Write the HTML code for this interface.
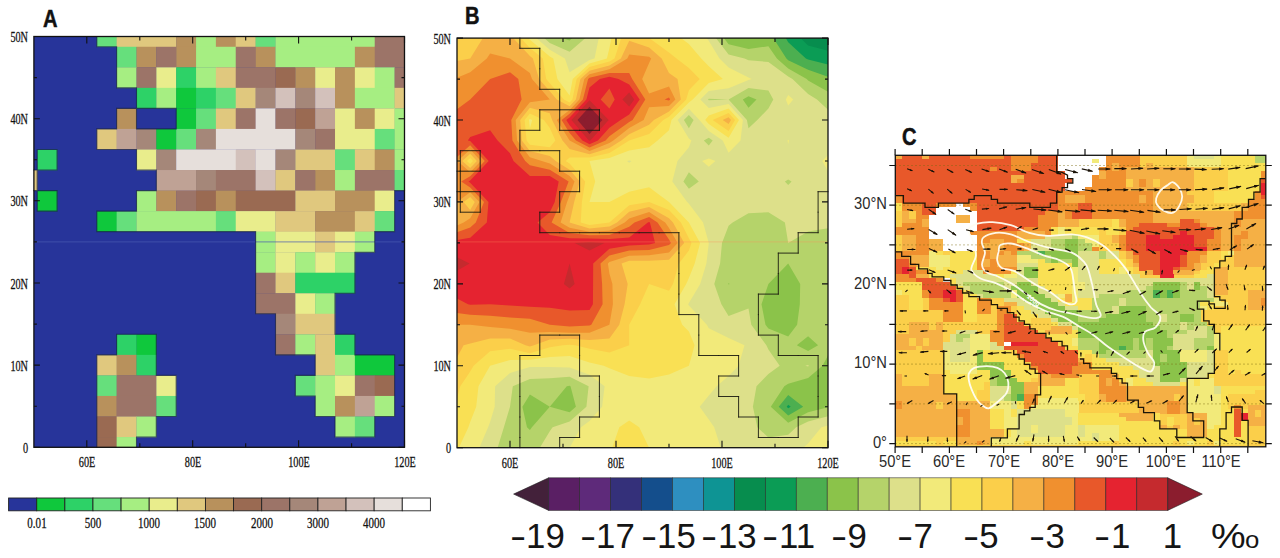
<!DOCTYPE html>
<html><head><meta charset="utf-8"><title>figure</title>
<style>
html,body{margin:0;padding:0;background:#fff;}
body{width:1280px;height:558px;position:relative;overflow:hidden;font-family:"Liberation Sans",sans-serif;}
.s{position:absolute;font-family:"Liberation Serif",serif;color:#111;white-space:nowrap;line-height:1;-webkit-text-stroke:0.3px #111;}
.L{position:absolute;font-family:"Liberation Sans",sans-serif;font-weight:bold;font-size:24.5px;color:#111;line-height:1;transform:scaleX(0.82);transform-origin:left top;-webkit-text-stroke:0.5px #111;}
.b{position:absolute;font-family:"Liberation Sans",sans-serif;font-size:34.8px;color:#151515;line-height:1;white-space:nowrap;}
.hy{display:inline-block;transform:scaleX(1.4);transform-origin:left center;margin-right:5px}
.c{position:absolute;font-family:"Liberation Sans",sans-serif;font-size:16px;color:#2a2a2a;line-height:1;white-space:nowrap;}
</style></head><body>
<svg width="1280" height="558" viewBox="0 0 1280 558" style="position:absolute;left:0;top:0">
<rect x="33.9" y="36.5" width="370.6" height="410.8" fill="#27349a"/>
<rect x="96.77" y="36.50" width="20.15" height="10.57" fill="#66df7c"/>
<rect x="116.62" y="36.50" width="59.86" height="10.57" fill="#e0c87e"/>
<rect x="176.18" y="36.50" width="20.15" height="10.57" fill="#b8915c"/>
<rect x="196.04" y="36.50" width="20.15" height="10.57" fill="#a6ee82"/>
<rect x="215.89" y="36.50" width="20.15" height="10.57" fill="#b8915c"/>
<rect x="235.74" y="36.50" width="20.15" height="10.57" fill="#e0c87e"/>
<rect x="255.60" y="36.50" width="20.15" height="10.57" fill="#66df7c"/>
<rect x="275.45" y="36.50" width="99.57" height="10.57" fill="#a6ee82"/>
<rect x="374.72" y="36.50" width="30.08" height="10.57" fill="#9c7468"/>
<rect x="116.62" y="46.77" width="20.15" height="20.84" fill="#66df7c"/>
<rect x="136.48" y="46.77" width="20.15" height="20.84" fill="#b8915c"/>
<rect x="156.33" y="46.77" width="20.15" height="20.84" fill="#9c7468"/>
<rect x="176.18" y="46.77" width="20.15" height="20.84" fill="#b8915c"/>
<rect x="196.04" y="46.77" width="40.01" height="20.84" fill="#a6ee82"/>
<rect x="235.74" y="46.77" width="20.15" height="20.84" fill="#9c7468"/>
<rect x="255.60" y="46.77" width="20.15" height="20.84" fill="#b8915c"/>
<rect x="275.45" y="46.77" width="79.71" height="20.84" fill="#a6ee82"/>
<rect x="354.87" y="46.77" width="20.15" height="20.84" fill="#b8915c"/>
<rect x="374.72" y="46.77" width="30.08" height="20.84" fill="#9c7468"/>
<rect x="116.62" y="67.31" width="20.15" height="20.84" fill="#a6ee82"/>
<rect x="136.48" y="67.31" width="20.15" height="20.84" fill="#9c7468"/>
<rect x="156.33" y="67.31" width="20.15" height="20.84" fill="#e9ed8c"/>
<rect x="176.18" y="67.31" width="20.15" height="20.84" fill="#2dd267"/>
<rect x="196.04" y="67.31" width="20.15" height="20.84" fill="#a6ee82"/>
<rect x="215.89" y="67.31" width="20.15" height="20.84" fill="#e0c87e"/>
<rect x="235.74" y="67.31" width="40.01" height="20.84" fill="#9c7468"/>
<rect x="275.45" y="67.31" width="20.15" height="20.84" fill="#9a6a52"/>
<rect x="295.31" y="67.31" width="20.15" height="20.84" fill="#b8915c"/>
<rect x="315.16" y="67.31" width="20.15" height="20.84" fill="#e9ed8c"/>
<rect x="335.01" y="67.31" width="20.15" height="20.84" fill="#b8915c"/>
<rect x="354.87" y="67.31" width="20.15" height="20.84" fill="#e9ed8c"/>
<rect x="374.72" y="67.31" width="20.15" height="20.84" fill="#a6ee82"/>
<rect x="394.57" y="67.31" width="10.23" height="20.84" fill="#9c7468"/>
<rect x="136.48" y="87.85" width="20.15" height="20.84" fill="#2dd267"/>
<rect x="156.33" y="87.85" width="20.15" height="20.84" fill="#a6ee82"/>
<rect x="176.18" y="87.85" width="20.15" height="20.84" fill="#0fc83c"/>
<rect x="196.04" y="87.85" width="20.15" height="20.84" fill="#2dd267"/>
<rect x="215.89" y="87.85" width="20.15" height="20.84" fill="#66df7c"/>
<rect x="235.74" y="87.85" width="20.15" height="20.84" fill="#e0c87e"/>
<rect x="255.60" y="87.85" width="20.15" height="20.84" fill="#a58779"/>
<rect x="275.45" y="87.85" width="20.15" height="20.84" fill="#d3c1bb"/>
<rect x="295.31" y="87.85" width="20.15" height="20.84" fill="#a58779"/>
<rect x="315.16" y="87.85" width="20.15" height="20.84" fill="#d3c1bb"/>
<rect x="335.01" y="87.85" width="20.15" height="20.84" fill="#b8915c"/>
<rect x="354.87" y="87.85" width="40.01" height="20.84" fill="#a6ee82"/>
<rect x="394.57" y="87.85" width="10.23" height="20.84" fill="#e0c87e"/>
<rect x="116.62" y="108.39" width="20.15" height="20.84" fill="#b8915c"/>
<rect x="176.18" y="108.39" width="20.15" height="20.84" fill="#0fc83c"/>
<rect x="196.04" y="108.39" width="20.15" height="20.84" fill="#66df7c"/>
<rect x="215.89" y="108.39" width="20.15" height="20.84" fill="#e0c87e"/>
<rect x="235.74" y="108.39" width="20.15" height="20.84" fill="#9c7468"/>
<rect x="255.60" y="108.39" width="20.15" height="20.84" fill="#e6dfdb"/>
<rect x="275.45" y="108.39" width="20.15" height="20.84" fill="#9c7468"/>
<rect x="295.31" y="108.39" width="20.15" height="20.84" fill="#9a6a52"/>
<rect x="315.16" y="108.39" width="20.15" height="20.84" fill="#bfa295"/>
<rect x="335.01" y="108.39" width="20.15" height="20.84" fill="#e9ed8c"/>
<rect x="354.87" y="108.39" width="20.15" height="20.84" fill="#b8915c"/>
<rect x="374.72" y="108.39" width="20.15" height="20.84" fill="#e9ed8c"/>
<rect x="394.57" y="108.39" width="10.23" height="20.84" fill="#a6ee82"/>
<rect x="96.77" y="128.93" width="20.15" height="20.84" fill="#e0c87e"/>
<rect x="116.62" y="128.93" width="20.15" height="20.84" fill="#bfa295"/>
<rect x="136.48" y="128.93" width="20.15" height="20.84" fill="#a58779"/>
<rect x="156.33" y="128.93" width="20.15" height="20.84" fill="#0fc83c"/>
<rect x="176.18" y="128.93" width="20.15" height="20.84" fill="#66df7c"/>
<rect x="196.04" y="128.93" width="20.15" height="20.84" fill="#a58779"/>
<rect x="215.89" y="128.93" width="79.71" height="20.84" fill="#e6dfdb"/>
<rect x="295.31" y="128.93" width="20.15" height="20.84" fill="#a58779"/>
<rect x="315.16" y="128.93" width="20.15" height="20.84" fill="#9c7468"/>
<rect x="335.01" y="128.93" width="40.01" height="20.84" fill="#e9ed8c"/>
<rect x="374.72" y="128.93" width="20.15" height="20.84" fill="#66df7c"/>
<rect x="394.57" y="128.93" width="10.23" height="20.84" fill="#a6ee82"/>
<rect x="37.21" y="149.47" width="20.15" height="20.84" fill="#2dd267"/>
<rect x="136.48" y="149.47" width="20.15" height="20.84" fill="#e9ed8c"/>
<rect x="156.33" y="149.47" width="20.15" height="20.84" fill="#a58779"/>
<rect x="176.18" y="149.47" width="59.86" height="20.84" fill="#e6dfdb"/>
<rect x="235.74" y="149.47" width="20.15" height="20.84" fill="#d3c1bb"/>
<rect x="255.60" y="149.47" width="20.15" height="20.84" fill="#e6dfdb"/>
<rect x="275.45" y="149.47" width="20.15" height="20.84" fill="#a58779"/>
<rect x="295.31" y="149.47" width="40.01" height="20.84" fill="#e0c87e"/>
<rect x="335.01" y="149.47" width="20.15" height="20.84" fill="#66df7c"/>
<rect x="354.87" y="149.47" width="20.15" height="20.84" fill="#e0c87e"/>
<rect x="374.72" y="149.47" width="20.15" height="20.84" fill="#b8915c"/>
<rect x="394.57" y="149.47" width="10.23" height="20.84" fill="#a6ee82"/>
<rect x="33.90" y="170.01" width="3.61" height="20.84" fill="#e0c87e"/>
<rect x="156.33" y="170.01" width="40.01" height="20.84" fill="#bfa295"/>
<rect x="196.04" y="170.01" width="20.15" height="20.84" fill="#a58779"/>
<rect x="215.89" y="170.01" width="40.01" height="20.84" fill="#9c7468"/>
<rect x="255.60" y="170.01" width="20.15" height="20.84" fill="#d3c1bb"/>
<rect x="275.45" y="170.01" width="20.15" height="20.84" fill="#e0c87e"/>
<rect x="295.31" y="170.01" width="20.15" height="20.84" fill="#9c7468"/>
<rect x="315.16" y="170.01" width="20.15" height="20.84" fill="#b8915c"/>
<rect x="335.01" y="170.01" width="20.15" height="20.84" fill="#a6ee82"/>
<rect x="354.87" y="170.01" width="40.01" height="20.84" fill="#9c7468"/>
<rect x="394.57" y="170.01" width="10.23" height="20.84" fill="#66df7c"/>
<rect x="37.21" y="190.55" width="20.15" height="20.84" fill="#0fc83c"/>
<rect x="136.48" y="190.55" width="20.15" height="20.84" fill="#a6ee82"/>
<rect x="156.33" y="190.55" width="20.15" height="20.84" fill="#b8915c"/>
<rect x="176.18" y="190.55" width="20.15" height="20.84" fill="#9c7468"/>
<rect x="196.04" y="190.55" width="20.15" height="20.84" fill="#9a6a52"/>
<rect x="215.89" y="190.55" width="20.15" height="20.84" fill="#b8915c"/>
<rect x="235.74" y="190.55" width="59.86" height="20.84" fill="#9a6a52"/>
<rect x="295.31" y="190.55" width="40.01" height="20.84" fill="#e0c87e"/>
<rect x="335.01" y="190.55" width="40.01" height="20.84" fill="#b8915c"/>
<rect x="374.72" y="190.55" width="20.15" height="20.84" fill="#e9ed8c"/>
<rect x="96.77" y="211.09" width="20.15" height="20.84" fill="#0fc83c"/>
<rect x="116.62" y="211.09" width="20.15" height="20.84" fill="#66df7c"/>
<rect x="136.48" y="211.09" width="79.71" height="20.84" fill="#a6ee82"/>
<rect x="215.89" y="211.09" width="20.15" height="20.84" fill="#66df7c"/>
<rect x="235.74" y="211.09" width="40.01" height="20.84" fill="#e9ed8c"/>
<rect x="275.45" y="211.09" width="40.01" height="20.84" fill="#e0c87e"/>
<rect x="315.16" y="211.09" width="40.01" height="20.84" fill="#b8915c"/>
<rect x="354.87" y="211.09" width="20.15" height="20.84" fill="#e0c87e"/>
<rect x="374.72" y="211.09" width="20.15" height="20.84" fill="#66df7c"/>
<rect x="255.60" y="231.63" width="20.15" height="20.84" fill="#a6ee82"/>
<rect x="275.45" y="231.63" width="40.01" height="20.84" fill="#e9ed8c"/>
<rect x="315.16" y="231.63" width="20.15" height="20.84" fill="#e0c87e"/>
<rect x="335.01" y="231.63" width="20.15" height="20.84" fill="#e9ed8c"/>
<rect x="354.87" y="231.63" width="20.15" height="20.84" fill="#a6ee82"/>
<rect x="255.60" y="252.17" width="20.15" height="20.84" fill="#a6ee82"/>
<rect x="275.45" y="252.17" width="20.15" height="20.84" fill="#e9ed8c"/>
<rect x="295.31" y="252.17" width="20.15" height="20.84" fill="#a6ee82"/>
<rect x="315.16" y="252.17" width="20.15" height="20.84" fill="#e9ed8c"/>
<rect x="335.01" y="252.17" width="20.15" height="20.84" fill="#a6ee82"/>
<rect x="255.60" y="272.71" width="20.15" height="20.84" fill="#9c7468"/>
<rect x="275.45" y="272.71" width="20.15" height="20.84" fill="#e0c87e"/>
<rect x="295.31" y="272.71" width="59.86" height="20.84" fill="#2dd267"/>
<rect x="255.60" y="293.25" width="40.01" height="20.84" fill="#9c7468"/>
<rect x="295.31" y="293.25" width="20.15" height="20.84" fill="#e9ed8c"/>
<rect x="315.16" y="293.25" width="20.15" height="20.84" fill="#a6ee82"/>
<rect x="275.45" y="313.79" width="20.15" height="20.84" fill="#a58779"/>
<rect x="295.31" y="313.79" width="40.01" height="20.84" fill="#e0c87e"/>
<rect x="116.62" y="334.33" width="20.15" height="20.84" fill="#2dd267"/>
<rect x="136.48" y="334.33" width="20.15" height="20.84" fill="#0fc83c"/>
<rect x="275.45" y="334.33" width="20.15" height="20.84" fill="#9c7468"/>
<rect x="295.31" y="334.33" width="20.15" height="20.84" fill="#a6ee82"/>
<rect x="315.16" y="334.33" width="20.15" height="20.84" fill="#e0c87e"/>
<rect x="335.01" y="334.33" width="20.15" height="20.84" fill="#2dd267"/>
<rect x="96.77" y="354.87" width="20.15" height="20.84" fill="#e0c87e"/>
<rect x="116.62" y="354.87" width="20.15" height="20.84" fill="#b8915c"/>
<rect x="136.48" y="354.87" width="20.15" height="20.84" fill="#2dd267"/>
<rect x="315.16" y="354.87" width="20.15" height="20.84" fill="#e0c87e"/>
<rect x="335.01" y="354.87" width="20.15" height="20.84" fill="#a6ee82"/>
<rect x="354.87" y="354.87" width="40.01" height="20.84" fill="#0fc83c"/>
<rect x="96.77" y="375.41" width="20.15" height="20.84" fill="#66df7c"/>
<rect x="116.62" y="375.41" width="40.01" height="20.84" fill="#9c7468"/>
<rect x="156.33" y="375.41" width="20.15" height="20.84" fill="#e9ed8c"/>
<rect x="295.31" y="375.41" width="20.15" height="20.84" fill="#66df7c"/>
<rect x="315.16" y="375.41" width="20.15" height="20.84" fill="#a6ee82"/>
<rect x="335.01" y="375.41" width="20.15" height="20.84" fill="#e9ed8c"/>
<rect x="354.87" y="375.41" width="20.15" height="20.84" fill="#9c7468"/>
<rect x="374.72" y="375.41" width="20.15" height="20.84" fill="#9a6a52"/>
<rect x="96.77" y="395.95" width="20.15" height="20.84" fill="#b8915c"/>
<rect x="116.62" y="395.95" width="40.01" height="20.84" fill="#9c7468"/>
<rect x="156.33" y="395.95" width="20.15" height="20.84" fill="#66df7c"/>
<rect x="315.16" y="395.95" width="20.15" height="20.84" fill="#a6ee82"/>
<rect x="335.01" y="395.95" width="20.15" height="20.84" fill="#b8915c"/>
<rect x="354.87" y="395.95" width="20.15" height="20.84" fill="#bfa295"/>
<rect x="374.72" y="395.95" width="20.15" height="20.84" fill="#a6ee82"/>
<rect x="96.77" y="416.49" width="20.15" height="20.84" fill="#9a6a52"/>
<rect x="116.62" y="416.49" width="20.15" height="20.84" fill="#e0c87e"/>
<rect x="136.48" y="416.49" width="20.15" height="20.84" fill="#a6ee82"/>
<rect x="335.01" y="416.49" width="20.15" height="20.84" fill="#a6ee82"/>
<rect x="354.87" y="416.49" width="20.15" height="20.84" fill="#66df7c"/>
<rect x="96.77" y="437.03" width="20.15" height="10.57" fill="#9a6a52"/>
<rect x="116.62" y="437.03" width="20.15" height="10.57" fill="#a6ee82"/>
<rect x="33.9" y="241.4" width="370.6" height="1" fill="#4a5ab0" opacity="0.7"/>
<path d="M96.8,36.5L96.8,46.8M96.8,46.8L116.6,46.8M116.6,46.8L116.6,67.3M116.6,67.3L116.6,87.9M116.6,87.9L136.5,87.9M136.5,87.9L136.5,108.4M116.6,108.4L136.5,108.4M136.5,108.4L156.3,108.4M156.3,108.4L176.2,108.4M116.6,108.4L116.6,128.9M96.8,128.9L116.6,128.9M136.5,108.4L136.5,128.9M136.5,128.9L156.3,128.9M176.2,108.4L176.2,128.9M156.3,128.9L176.2,128.9M37.2,149.5L57.1,149.5M96.8,128.9L96.8,149.5M96.8,149.5L116.6,149.5M116.6,149.5L136.5,149.5M37.2,149.5L37.2,170.0M33.9,170.0L37.2,170.0M57.1,149.5L57.1,170.0M37.2,170.0L57.1,170.0M136.5,149.5L136.5,170.0M136.5,170.0L156.3,170.0M37.2,170.0L37.2,190.6M33.9,190.6L37.2,190.6M37.2,190.6L57.1,190.6M156.3,170.0L156.3,190.6M136.5,190.6L156.3,190.6M394.6,190.6L404.5,190.6M37.2,190.6L37.2,211.1M57.1,190.6L57.1,211.1M37.2,211.1L57.1,211.1M96.8,211.1L116.6,211.1M136.5,190.6L136.5,211.1M116.6,211.1L136.5,211.1M394.6,190.6L394.6,211.1M96.8,211.1L96.8,231.6M96.8,231.6L116.6,231.6M116.6,231.6L136.5,231.6M136.5,231.6L156.3,231.6M156.3,231.6L176.2,231.6M176.2,231.6L196.0,231.6M196.0,231.6L215.9,231.6M215.9,231.6L235.7,231.6M235.7,231.6L255.6,231.6M394.6,211.1L394.6,231.6M374.7,231.6L394.6,231.6M255.6,231.6L255.6,252.2M374.7,231.6L374.7,252.2M354.9,252.2L374.7,252.2M255.6,252.2L255.6,272.7M354.9,252.2L354.9,272.7M255.6,272.7L255.6,293.3M354.9,272.7L354.9,293.3M335.0,293.3L354.9,293.3M255.6,293.3L255.6,313.8M255.6,313.8L275.5,313.8M335.0,293.3L335.0,313.8M116.6,334.3L136.5,334.3M136.5,334.3L156.3,334.3M275.5,313.8L275.5,334.3M335.0,313.8L335.0,334.3M335.0,334.3L354.9,334.3M116.6,334.3L116.6,354.9M96.8,354.9L116.6,354.9M156.3,334.3L156.3,354.9M275.5,334.3L275.5,354.9M275.5,354.9L295.3,354.9M295.3,354.9L315.2,354.9M354.9,334.3L354.9,354.9M354.9,354.9L374.7,354.9M374.7,354.9L394.6,354.9M96.8,354.9L96.8,375.4M156.3,354.9L156.3,375.4M156.3,375.4L176.2,375.4M315.2,354.9L315.2,375.4M295.3,375.4L315.2,375.4M394.6,354.9L394.6,375.4M96.8,375.4L96.8,396.0M176.2,375.4L176.2,396.0M295.3,375.4L295.3,396.0M295.3,396.0L315.2,396.0M394.6,375.4L394.6,396.0M96.8,396.0L96.8,416.5M176.2,396.0L176.2,416.5M156.3,416.5L176.2,416.5M315.2,396.0L315.2,416.5M315.2,416.5L335.0,416.5M394.6,396.0L394.6,416.5M374.7,416.5L394.6,416.5M96.8,416.5L96.8,437.0M156.3,416.5L156.3,437.0M136.5,437.0L156.3,437.0M335.0,416.5L335.0,437.0M335.0,437.0L354.9,437.0M374.7,416.5L374.7,437.0M354.9,437.0L374.7,437.0M96.8,437.0L96.8,447.3M136.5,437.0L136.5,447.3" stroke="#15204a" stroke-width="1.1" fill="none" opacity="0.75" stroke-linecap="square"/>
<path d="M86.8,447.3v-7M86.8,36.5v7M139.8,447.3v-4M139.8,36.5v4M192.7,447.3v-7M192.7,36.5v7M245.7,447.3v-4M245.7,36.5v4M298.6,447.3v-7M298.6,36.5v7M351.6,447.3v-4M351.6,36.5v4M404.5,447.3v-7M404.5,36.5v7M33.9,447.3h6M404.5,447.3h-6M33.9,406.2h3M404.5,406.2h-3M33.9,365.1h6M404.5,365.1h-6M33.9,324.1h3M404.5,324.1h-3M33.9,283.0h6M404.5,283.0h-6M33.9,241.9h3M404.5,241.9h-3M33.9,200.8h6M404.5,200.8h-6M33.9,159.7h3M404.5,159.7h-3M33.9,118.7h6M404.5,118.7h-6M33.9,77.6h3M404.5,77.6h-3M33.9,36.5h6M404.5,36.5h-6" stroke="#111" stroke-width="1.1" fill="none"/>
<rect x="33.9" y="36.5" width="370.6" height="410.8" fill="none" stroke="#111" stroke-width="1.3"/>
<clipPath id="clipB"><rect x="457.0" y="38.1" width="371.0" height="409.6"/></clipPath>
<g clip-path="url(#clipB)"><rect x="449.0" y="38.1" width="381.0" height="409.6" fill="#078d4e"/>
<path d="M450.4,38.1 470.2,38.1 490.1,38.1 510.0,38.1 529.9,38.1 549.8,38.1 569.6,38.1 589.5,38.1 609.4,38.1 629.2,38.1 649.1,38.1 669.0,38.1 688.9,38.1 708.8,38.1 728.6,38.1 748.5,38.1 768.4,38.1 788.2,38.1 800.5,38.1 808.1,45.4 828.0,50.7 828.0,58.6 828.0,79.1 828.0,99.5 828.0,120.0 828.0,140.5 828.0,161.0 828.0,181.5 828.0,201.9 828.0,222.4 828.0,242.9 828.0,263.4 828.0,283.9 828.0,304.3 828.0,324.8 828.0,345.3 828.0,365.8 828.0,386.3 828.0,406.7 828.0,427.2 828.0,447.7 808.1,447.7 788.2,447.7 768.4,447.7 748.5,447.7 728.6,447.7 708.8,447.7 688.9,447.7 669.0,447.7 649.1,447.7 629.2,447.7 609.4,447.7 589.5,447.7 569.6,447.7 549.8,447.7 529.9,447.7 510.0,447.7 490.1,447.7 470.2,447.7 450.4,447.7 450.4,427.2 450.4,406.7 450.4,386.3 450.4,365.8 450.4,345.3 450.4,324.8 450.4,304.3 450.4,283.9 450.4,263.4 450.4,242.9 450.4,222.4 450.4,201.9 450.4,181.5 450.4,161.0 450.4,140.5 450.4,120.0 450.4,99.5 450.4,79.1 450.4,58.6 450.4,38.1Z" fill="#0b9c55" fill-rule="evenodd"/>
<path d="M450.4,38.1 470.2,38.1 490.1,38.1 510.0,38.1 529.9,38.1 549.8,38.1 569.6,38.1 589.5,38.1 609.4,38.1 629.2,38.1 649.1,38.1 669.0,38.1 688.9,38.1 708.8,38.1 728.6,38.1 748.5,38.1 768.4,38.1 785.8,38.1 788.2,42.2 805.9,58.6 808.1,59.6 828.0,64.6 828.0,79.1 828.0,99.5 828.0,120.0 828.0,140.5 828.0,161.0 828.0,181.5 828.0,201.9 828.0,222.4 828.0,242.9 828.0,263.4 828.0,283.9 828.0,304.3 828.0,324.8 828.0,345.3 828.0,365.8 828.0,386.3 828.0,406.7 828.0,427.2 828.0,447.7 808.1,447.7 788.2,447.7 768.4,447.7 748.5,447.7 728.6,447.7 708.8,447.7 688.9,447.7 669.0,447.7 649.1,447.7 629.2,447.7 609.4,447.7 589.5,447.7 569.6,447.7 549.8,447.7 529.9,447.7 510.0,447.7 490.1,447.7 470.2,447.7 450.4,447.7 450.4,427.2 450.4,406.7 450.4,386.3 450.4,365.8 450.4,345.3 450.4,324.8 450.4,304.3 450.4,283.9 450.4,263.4 450.4,242.9 450.4,222.4 450.4,201.9 450.4,181.5 450.4,161.0 450.4,140.5 450.4,120.0 450.4,99.5 450.4,79.1 450.4,58.6 450.4,38.1ZM788.2,404.8 786.7,406.7 788.2,408.2 790.7,406.7 788.2,404.8Z" fill="#4caf50" fill-rule="evenodd"/>
<path d="M450.4,38.1 470.2,38.1 490.1,38.1 510.0,38.1 529.9,38.1 549.8,38.1 569.6,38.1 589.5,38.1 609.4,38.1 629.2,38.1 649.1,38.1 669.0,38.1 688.9,38.1 708.8,38.1 728.6,38.1 748.5,38.1 748.5,38.1 748.5,38.1 768.4,38.1 773.3,38.1 786.4,58.6 788.2,60.2 808.1,69.8 828.0,76.7 828.0,79.1 828.0,99.5 828.0,120.0 828.0,140.5 828.0,161.0 828.0,181.5 828.0,201.9 828.0,222.4 828.0,242.9 828.0,263.4 828.0,283.9 828.0,304.3 828.0,324.8 828.0,345.3 828.0,365.8 828.0,386.3 828.0,406.7 828.0,427.2 828.0,447.7 808.1,447.7 788.2,447.7 768.4,447.7 748.5,447.7 728.6,447.7 708.8,447.7 688.9,447.7 669.0,447.7 649.1,447.7 629.2,447.7 609.4,447.7 589.5,447.7 569.6,447.7 549.8,447.7 529.9,447.7 510.0,447.7 490.1,447.7 470.2,447.7 450.4,447.7 450.4,427.2 450.4,406.7 450.4,386.3 450.4,365.8 450.4,345.3 450.4,324.8 450.4,304.3 450.4,283.9 450.4,263.4 450.4,242.9 450.4,222.4 450.4,201.9 450.4,181.5 450.4,161.0 450.4,140.5 450.4,120.0 450.4,99.5 450.4,79.1 450.4,58.6 450.4,38.1ZM788.2,395.0 778.7,406.7 788.2,415.5 803.2,406.7 788.2,395.0Z" fill="#8bc34a" fill-rule="evenodd"/>
<path d="M450.4,38.1 470.2,38.1 490.1,38.1 510.0,38.1 529.9,38.1 549.8,38.1 561.7,38.1 569.6,40.4 572.3,38.1 589.5,38.1 609.4,38.1 629.2,38.1 649.1,38.1 669.0,38.1 688.9,38.1 708.8,38.1 723.9,38.1 728.6,44.2 748.5,48.9 768.4,46.3 776.9,58.6 788.2,68.4 806.7,79.1 808.1,80.4 828.0,91.7 828.0,99.5 828.0,120.0 828.0,140.5 828.0,161.0 828.0,181.5 828.0,201.9 828.0,222.4 828.0,242.9 828.0,263.4 828.0,283.9 828.0,304.3 828.0,324.8 828.0,345.3 828.0,355.5 822.5,365.8 808.1,378.1 788.2,383.7 784.3,386.3 770.8,406.7 788.2,422.8 808.1,412.3 828.0,407.2 828.0,427.2 828.0,447.7 808.1,447.7 788.2,447.7 768.4,447.7 748.5,447.7 728.6,447.7 708.8,447.7 688.9,447.7 669.0,447.7 649.1,447.7 629.2,447.7 609.4,447.7 589.5,447.7 569.6,447.7 549.8,447.7 529.9,447.7 510.0,447.7 490.1,447.7 470.2,447.7 450.4,447.7 450.4,427.2 450.4,406.7 450.4,386.3 450.4,365.8 450.4,345.3 450.4,324.8 450.4,304.3 450.4,283.9 450.4,263.4 450.4,242.9 450.4,222.4 450.4,201.9 450.4,181.5 450.4,161.0 450.4,140.5 450.4,120.0 450.4,99.5 450.4,79.1 450.4,58.6 450.4,38.1ZM569.6,385.8 566.8,386.3 549.8,406.7 529.9,394.5 522.4,406.7 527.0,427.2 529.9,430.1 531.9,427.2 549.8,406.7 569.6,412.3 575.9,406.7 570.5,386.3 569.6,385.8ZM728.6,282.9 728.3,283.9 728.6,284.5 729.6,283.9 728.6,282.9ZM748.5,96.3 742.8,99.5 748.5,107.7 756.5,99.5 748.5,96.3ZM788.2,263.4 788.2,263.4 768.4,283.9 768.4,283.9 761.5,304.3 765.5,324.8 768.4,328.5 788.2,336.5 797.1,324.8 799.8,304.3 800.2,283.9 788.2,263.4 788.2,263.4ZM808.1,336.2 796.8,345.3 808.1,350.9 818.1,345.3 808.1,336.2Z" fill="#b5d36a" fill-rule="evenodd"/>
<path d="M450.4,38.1 470.2,38.1 490.1,38.1 510.0,38.1 529.9,38.1 544.2,38.1 549.8,42.9 569.6,51.8 585.5,38.1 589.5,38.1 609.4,38.1 629.2,38.1 649.1,38.1 669.0,38.1 688.9,38.1 708.8,38.1 715.9,38.1 728.6,54.5 744.5,58.6 748.5,60.3 768.4,62.0 788.2,76.6 792.5,79.1 808.1,94.1 817.0,99.5 828.0,109.8 828.0,120.0 828.0,140.5 828.0,161.0 828.0,181.5 828.0,201.9 828.0,222.4 828.0,228.3 808.1,231.5 788.2,242.9 784.9,222.4 768.4,212.2 748.5,213.3 732.6,222.4 728.6,225.8 722.0,242.9 720.1,263.4 714.3,283.9 721.4,304.3 728.6,316.0 748.5,308.4 751.3,324.8 766.4,345.3 768.4,349.4 779.7,365.8 768.4,374.0 756.5,386.3 752.9,406.7 757.3,427.2 768.4,437.5 788.2,434.7 796.2,427.2 808.1,421.6 828.0,416.3 828.0,427.2 828.0,447.7 808.1,447.7 788.2,447.7 768.4,447.7 748.5,447.7 728.6,447.7 708.8,447.7 688.9,447.7 669.0,447.7 649.1,447.7 629.2,447.7 609.4,447.7 589.5,447.7 569.6,447.7 549.8,447.7 539.8,447.7 549.8,431.3 552.6,427.2 569.6,421.6 586.4,406.7 588.6,386.3 569.6,376.7 549.8,378.3 529.9,379.0 512.8,386.3 510.0,406.7 510.0,406.7 503.9,427.2 497.6,447.7 490.1,447.7 470.2,447.7 450.4,447.7 450.4,427.2 450.4,406.7 450.4,386.3 450.4,365.8 450.4,345.3 450.4,324.8 450.4,304.3 450.4,283.9 450.4,263.4 450.4,242.9 450.4,222.4 450.4,201.9 450.4,181.5 450.4,161.0 450.4,140.5 450.4,120.0 450.4,99.5 450.4,79.1 450.4,58.6 450.4,38.1ZM688.9,115.1 683.9,120.0 688.9,128.2 693.6,120.0 688.9,115.1ZM708.8,98.8 708.0,99.5 708.8,100.3 728.6,99.5 746.9,120.0 748.5,128.2 757.3,120.0 768.4,108.6 773.3,99.5 768.4,90.4 748.5,88.1 728.6,99.5 708.8,98.8ZM788.2,179.4 784.9,181.5 788.2,184.9 791.6,181.5 788.2,179.4ZM688.9,172.2 683.4,181.5 688.9,188.8 698.8,181.5 688.9,172.2ZM708.8,137.8 703.8,140.5 708.8,145.6 712.7,140.5 708.8,137.8ZM805.3,365.8 808.1,365.1 808.8,365.8 808.1,366.4 805.3,365.8Z" fill="#dde08a" fill-rule="evenodd"/>
<path d="M450.4,38.1 470.2,38.1 490.1,38.1 510.0,38.1 529.9,38.1 536.2,38.1 549.8,49.7 564.9,58.6 569.6,72.2 589.5,60.0 594.5,58.6 598.8,38.1 609.4,38.1 629.2,38.1 649.1,38.1 669.0,38.1 688.9,38.1 706.5,38.1 708.7,40.7 719.5,58.6 728.6,67.4 748.5,77.4 751.8,79.1 748.5,79.9 728.6,88.2 708.8,90.9 700.3,99.5 708.8,107.9 728.6,104.0 742.9,120.0 740.5,140.5 728.6,152.8 722.7,140.5 708.8,130.9 699.4,120.0 688.9,108.8 677.7,120.0 688.9,138.5 691.4,140.5 688.9,147.3 677.5,161.0 672.3,181.5 687.1,201.9 688.9,203.8 703.1,222.4 708.8,242.9 706.4,263.4 700.2,283.9 688.9,303.1 688.2,304.3 688.9,305.4 706.8,324.8 708.8,328.2 728.6,337.9 744.5,345.3 738.6,365.8 728.6,376.0 716.7,386.3 708.8,395.4 699.7,406.7 708.8,419.5 714.2,427.2 720.7,447.7 708.8,447.7 688.9,447.7 669.0,447.7 649.1,447.7 629.2,447.7 609.4,447.7 589.5,447.7 569.6,447.7 581.0,427.2 589.5,421.1 602.1,406.7 604.6,386.3 589.5,374.8 569.6,367.6 549.8,366.9 529.9,367.0 510.0,373.1 495.1,386.3 494.7,406.7 490.1,422.1 488.1,427.2 479.4,447.7 470.2,447.7 450.4,447.7 450.4,427.2 450.4,406.7 450.4,386.3 450.4,365.8 450.4,345.3 450.4,324.8 450.4,304.3 450.4,283.9 450.4,263.4 450.4,242.9 450.4,222.4 450.4,201.9 450.4,181.5 450.4,161.0 450.4,140.5 450.4,120.0 450.4,99.5 450.4,79.1 450.4,58.6 450.4,38.1ZM629.2,160.5 627.0,161.0 629.2,162.8 631.5,161.0 629.2,160.5ZM785.8,99.5 788.2,95.0 793.2,99.5 788.2,105.4 785.8,99.5ZM787.5,140.5 788.2,139.7 789.0,140.5 788.2,143.9 787.5,140.5ZM702.1,161.0 708.8,158.4 715.4,161.0 708.8,166.8 702.1,161.0ZM822.3,161.0 828.0,155.1 828.0,161.0 828.0,171.2 822.3,161.0ZM821.4,427.2 828.0,425.4 828.0,427.2 828.0,447.7 808.1,447.7 803.2,447.7 808.1,443.6 821.4,427.2Z" fill="#f2ea7a" fill-rule="evenodd"/>
<path d="M450.4,38.1 470.2,38.1 490.1,38.1 510.0,38.1 528.3,38.1 529.9,39.7 549.8,56.5 553.3,58.6 557.4,79.1 569.6,95.4 572.7,79.1 589.5,63.6 606.9,58.6 609.4,48.3 611.4,38.1 629.2,38.1 649.1,38.1 669.0,38.1 680.9,38.1 688.9,44.0 701.3,58.6 708.8,66.3 722.9,79.1 708.8,83.0 692.7,99.5 688.9,102.6 671.5,120.0 669.0,130.3 657.6,140.5 649.1,147.3 629.2,150.5 609.4,158.0 589.5,161.0 589.5,161.0 589.5,161.0 595.2,181.5 589.5,201.9 589.5,201.9 589.5,201.9 609.4,201.9 609.4,201.9 629.2,191.7 649.1,187.3 669.0,201.9 669.0,201.9 688.9,222.4 688.9,222.4 700.1,242.9 694.7,263.4 688.9,278.0 686.2,283.9 674.5,304.3 682.2,324.8 688.9,331.6 694.6,345.3 688.9,365.8 688.9,365.8 669.0,374.6 649.1,378.6 629.2,376.0 609.4,368.3 603.7,365.8 589.5,362.4 569.6,356.1 549.8,357.0 529.9,359.8 510.0,360.1 490.1,365.8 490.1,365.8 478.5,386.3 476.2,406.7 470.2,422.1 468.4,427.2 458.9,447.7 450.4,447.7 450.4,427.2 450.4,406.7 450.4,386.3 450.4,365.8 450.4,345.3 450.4,324.8 450.4,304.3 450.4,283.9 450.4,263.4 450.4,242.9 450.4,222.4 450.4,201.9 450.4,181.5 450.4,161.0 450.4,140.5 450.4,120.0 450.4,99.5 450.4,79.1 450.4,58.6 450.4,38.1ZM529.9,118.9 529.0,120.0 529.9,128.2 532.2,120.0 529.9,118.9ZM705.2,120.0 708.8,115.5 728.6,108.4 739.0,120.0 728.6,137.8 708.8,124.1 705.2,120.0ZM619.3,427.2 629.2,420.4 639.2,427.2 649.1,447.7 629.2,447.7 612.2,447.7 619.3,427.2Z" fill="#f9e054" fill-rule="evenodd"/>
<path d="M450.4,38.1 470.2,38.1 490.1,38.1 510.0,38.1 520.7,38.1 529.9,47.9 542.8,58.6 546.2,79.1 549.8,83.2 563.9,99.5 569.6,102.5 572.4,99.5 576.6,79.1 589.5,67.1 609.4,61.6 614.5,58.6 621.3,38.1 629.2,38.1 649.1,38.1 649.1,38.1 669.0,52.4 676.5,58.6 688.9,67.9 699.7,79.1 688.9,90.2 686.2,99.5 669.0,116.8 663.3,120.0 649.1,134.0 629.2,140.5 629.2,140.5 609.4,153.0 589.5,157.6 569.6,157.6 565.7,161.0 569.6,163.5 585.2,181.5 581.9,201.9 580.7,222.4 589.5,225.1 609.4,222.4 609.4,222.4 629.2,205.2 649.1,201.9 669.0,210.1 680.9,222.4 688.9,238.2 691.5,242.9 688.9,250.6 678.9,263.4 673.0,283.9 669.0,290.7 649.1,283.9 649.1,283.9 649.1,283.9 640.1,304.3 629.2,324.8 629.2,324.8 629.2,345.3 609.4,352.6 589.5,348.7 575.3,345.3 569.6,344.7 563.0,345.3 549.8,347.3 529.9,353.2 510.0,348.7 490.1,351.2 473.6,365.8 470.2,371.6 460.3,386.3 454.8,406.7 450.4,427.2 450.4,406.7 450.4,386.3 450.4,365.8 450.4,345.3 450.4,324.8 450.4,304.3 450.4,283.9 450.4,263.4 450.4,242.9 450.4,222.4 450.4,201.9 450.4,181.5 450.4,161.0 450.4,140.5 450.4,120.0 450.4,99.5 450.4,79.1 450.4,58.6 450.4,38.1ZM470.3,158.0 466.9,161.0 470.2,163.9 473.0,161.0 470.3,158.0ZM529.9,113.4 524.6,120.0 526.6,140.5 529.9,144.8 549.8,147.3 555.4,140.5 549.8,127.9 543.9,120.0 529.9,113.4ZM470.2,201.9 470.2,201.9 470.2,201.9 470.2,201.9 470.2,201.9ZM712.7,120.0 728.6,112.9 735.0,120.0 728.6,130.9 712.7,120.0Z" fill="#fbcf4a" fill-rule="evenodd"/>
<path d="M482.9,38.1 490.1,38.1 510.0,38.1 513.1,38.1 529.9,56.1 532.9,58.6 539.1,79.1 549.8,91.3 556.8,99.5 569.6,106.2 575.9,99.5 580.4,79.1 589.5,70.7 609.4,65.4 620.9,58.6 629.2,40.8 649.1,47.4 661.7,58.6 669.0,72.9 677.5,79.1 680.8,99.5 669.0,111.4 653.9,120.0 649.1,124.7 629.2,134.3 621.3,140.5 609.4,148.0 589.5,154.3 569.6,149.0 562.5,140.5 552.1,120.0 549.8,113.2 529.9,107.8 520.2,120.0 521.8,140.5 529.9,151.1 549.8,155.9 555.7,161.0 569.6,169.7 579.8,181.5 574.2,201.9 569.6,222.4 569.6,222.4 569.6,222.4 589.5,228.5 609.4,226.6 617.0,222.4 629.2,211.8 649.1,206.9 669.0,218.3 673.0,222.4 684.2,242.9 669.0,259.7 649.1,260.7 629.2,260.8 621.6,263.4 627.7,283.9 624.6,304.3 619.3,324.8 609.4,338.5 589.5,339.9 569.6,338.7 549.8,339.4 533.9,345.3 529.9,346.6 525.5,345.3 510.0,338.5 490.1,338.5 470.3,343.4 463.6,345.3 452.6,365.8 450.4,369.2 450.4,365.8 450.4,345.3 450.4,324.8 450.4,304.3 450.4,283.9 450.4,263.4 450.4,242.9 450.4,222.4 450.4,222.4 450.4,222.4 450.4,201.9 450.4,181.5 450.4,161.0 450.4,140.5 450.4,120.0 450.4,99.5 450.4,79.1 450.4,62.3 470.2,58.6 470.2,58.6 482.9,38.1ZM470.2,153.7 462.2,161.0 470.2,168.0 476.9,161.0 470.2,153.7ZM470.2,197.1 463.6,201.9 470.2,210.1 474.8,201.9 470.2,197.1ZM722.7,120.0 728.6,117.3 731.0,120.0 728.6,124.1 722.7,120.0Z" fill="#f5b045" fill-rule="evenodd"/>
<path d="M486.8,58.6 490.1,53.5 510.0,58.6 510.0,58.6 529.9,72.9 532.0,79.1 549.8,99.5 529.9,102.3 515.7,120.0 517.1,140.5 529.9,157.3 541.8,161.0 549.8,163.5 569.6,175.9 574.5,181.5 569.6,195.6 567.1,201.9 560.6,222.4 569.6,227.7 589.5,231.8 609.4,230.8 624.7,222.4 629.2,218.5 649.1,211.9 665.2,222.4 669.0,228.1 677.6,242.9 669.0,252.4 649.1,255.3 629.2,255.7 609.4,262.1 607.9,263.4 609.4,273.6 612.4,283.9 612.9,304.3 609.4,324.8 609.4,324.8 589.5,332.7 569.6,332.7 549.8,332.1 529.9,332.7 510.0,328.7 490.1,327.1 470.2,324.8 470.2,324.8 450.4,324.8 450.4,304.3 450.4,283.9 450.4,263.4 450.4,242.9 450.4,228.6 463.6,222.4 470.2,218.3 479.4,201.9 470.2,192.3 457.0,201.9 450.4,212.2 450.4,201.9 450.4,188.3 454.0,181.5 450.4,176.3 450.4,161.0 450.4,140.5 450.4,120.0 450.4,99.5 450.4,82.5 453.7,79.1 470.2,72.2 486.8,58.6ZM470.2,149.5 457.5,161.0 470.2,172.2 480.9,161.0 470.2,149.5ZM627.3,58.6 629.2,54.5 649.1,56.7 651.2,58.6 649.1,63.1 642.2,79.1 649.1,93.4 669.0,86.6 675.4,99.5 669.0,106.0 649.1,107.2 643.6,120.0 629.2,128.1 613.3,140.5 609.4,143.0 589.5,150.9 569.6,140.5 569.6,140.5 556.8,120.0 569.6,110.0 579.4,99.5 584.3,79.1 589.5,74.3 609.4,69.2 627.3,58.6Z" fill="#f0902f" fill-rule="evenodd"/>
<path d="M490.1,79.1 510.0,72.2 518.3,79.1 521.6,99.5 511.3,120.0 512.4,140.5 525.2,161.0 529.9,165.3 549.8,169.7 568.6,181.5 560.9,201.9 551.6,222.4 569.6,232.9 589.5,235.2 609.4,235.0 629.2,226.7 634.5,222.4 649.1,216.9 657.5,222.4 669.0,239.5 671.0,242.9 669.0,245.1 649.1,249.9 629.2,250.6 609.4,255.5 600.5,263.4 602.1,283.9 602.6,304.3 591.3,324.8 589.5,325.5 569.6,326.6 549.8,324.8 549.8,324.8 529.9,318.8 510.0,317.6 490.1,315.7 470.2,314.8 450.4,312.0 450.4,304.3 450.4,283.9 450.4,263.4 450.4,242.9 450.4,234.8 470.2,227.5 475.8,222.4 484.0,201.9 470.2,187.5 461.2,181.5 470.2,176.3 484.8,161.0 470.2,145.2 452.7,161.0 450.4,166.1 450.4,161.0 450.4,140.5 450.4,120.0 450.4,114.2 470.2,99.5 470.2,99.5 490.1,79.1 490.1,79.1ZM588.1,79.1 589.5,77.8 609.4,73.0 629.2,72.9 632.2,79.1 645.3,99.5 632.6,120.0 629.2,121.9 609.4,136.2 605.6,140.5 589.5,147.6 576.0,140.5 569.6,132.9 561.6,120.0 569.6,113.7 582.9,99.5 588.1,79.1ZM664.6,99.5 669.0,97.4 670.1,99.5 669.0,100.6 664.6,99.5Z" fill="#e8582a" fill-rule="evenodd"/>
<path d="M599.8,79.1 609.4,76.8 618.5,79.1 629.2,84.6 639.7,99.5 629.2,114.5 620.6,120.0 609.4,127.7 597.9,140.5 589.5,144.2 582.4,140.5 569.6,125.3 566.3,120.0 569.6,117.4 586.4,99.5 589.5,87.6 599.8,79.1ZM609.4,88.5 600.7,99.5 609.4,108.5 614.7,99.5 609.4,88.5ZM467.8,140.5 470.2,137.1 490.1,130.3 497.6,140.5 510.0,153.3 513.5,161.0 529.9,176.1 549.8,175.9 558.7,181.5 554.7,201.9 549.8,212.2 537.5,222.4 549.8,235.0 569.6,238.2 589.5,238.5 609.4,239.1 629.2,237.5 647.8,222.4 649.1,221.9 649.9,222.4 655.1,242.9 649.1,244.5 629.2,245.5 609.4,248.8 593.2,263.4 593.1,283.9 592.9,304.3 589.5,310.1 569.6,310.5 549.8,307.8 529.9,306.7 510.0,305.5 490.1,304.3 490.1,304.3 490.1,304.3 470.2,304.8 468.0,304.3 450.4,295.2 450.4,283.9 450.4,263.4 450.4,242.9 450.4,241.0 470.2,237.8 486.8,222.4 488.5,201.9 470.2,182.7 468.4,181.5 470.2,180.4 488.7,161.0 470.2,140.9 467.8,140.5Z" fill="#e52330" fill-rule="evenodd"/>
<path d="M622.4,99.5 629.2,92.5 634.2,99.5 629.2,106.6 622.4,99.5ZM571.4,120.0 589.5,100.2 608.7,120.0 590.3,140.5 589.5,140.8 588.9,140.5 571.4,120.0ZM574.6,242.9 589.5,241.9 604.4,242.9 589.5,250.6 574.6,242.9ZM450.4,263.4 450.4,253.9 469.6,263.4 450.4,274.6 450.4,263.4ZM563.9,283.9 569.6,263.4 574.6,283.9 569.6,288.4 563.9,283.9Z" fill="#c52a2e" fill-rule="evenodd"/>
<path d="M577.5,120.0 589.5,106.8 602.3,120.0 589.5,134.1 577.5,120.0Z" fill="#8b1d2e" fill-rule="evenodd"/>
<path d="M583.5,120.0 589.5,113.4 595.9,120.0 589.5,127.1 583.5,120.0Z" fill="#8b1d2e" fill-rule="evenodd"/>
</g>
<rect x="457.0" y="241.4" width="371.0" height="1" fill="#ff8a5a" opacity="0.35"/>
<path d="M519.9,38.1L519.9,48.3M519.9,48.3L539.8,48.3M539.8,48.3L539.8,68.8M539.8,68.8L539.8,89.3M539.8,89.3L559.7,89.3M559.7,89.3L559.7,109.8M539.8,109.8L559.7,109.8M559.7,109.8L579.6,109.8M579.6,109.8L599.4,109.8M539.8,109.8L539.8,130.3M519.9,130.3L539.8,130.3M559.7,109.8L559.7,130.3M559.7,130.3L579.6,130.3M599.4,109.8L599.4,130.3M579.6,130.3L599.4,130.3M460.3,150.7L480.2,150.7M519.9,130.3L519.9,150.7M519.9,150.7L539.8,150.7M539.8,150.7L559.7,150.7M460.3,150.7L460.3,171.2M457.0,171.2L460.3,171.2M480.2,150.7L480.2,171.2M460.3,171.2L480.2,171.2M559.7,150.7L559.7,171.2M559.7,171.2L579.6,171.2M460.3,171.2L460.3,191.7M457.0,191.7L460.3,191.7M460.3,191.7L480.2,191.7M579.6,171.2L579.6,191.7M559.7,191.7L579.6,191.7M818.1,191.7L828.0,191.7M460.3,191.7L460.3,212.2M480.2,191.7L480.2,212.2M460.3,212.2L480.2,212.2M559.7,191.7L559.7,212.2M539.8,212.2L559.7,212.2M818.1,191.7L818.1,212.2M539.8,212.2L539.8,232.7M539.8,232.7L559.7,232.7M559.7,232.7L579.6,232.7M579.6,232.7L599.4,232.7M599.4,232.7L619.3,232.7M619.3,232.7L639.2,232.7M639.2,232.7L659.1,232.7M659.1,232.7L678.9,232.7M818.1,212.2L818.1,232.7M798.2,232.7L818.1,232.7M678.9,232.7L678.9,253.1M798.2,232.7L798.2,253.1M778.3,253.1L798.2,253.1M678.9,253.1L678.9,273.6M778.3,253.1L778.3,273.6M678.9,273.6L678.9,294.1M778.3,273.6L778.3,294.1M758.4,294.1L778.3,294.1M678.9,294.1L678.9,314.6M678.9,314.6L698.8,314.6M758.4,294.1L758.4,314.6M539.8,335.1L559.7,335.1M559.7,335.1L579.6,335.1M698.8,314.6L698.8,335.1M758.4,314.6L758.4,335.1M758.4,335.1L778.3,335.1M539.8,335.1L539.8,355.5M519.9,355.5L539.8,355.5M579.6,335.1L579.6,355.5M698.8,335.1L698.8,355.5M698.8,355.5L718.7,355.5M718.7,355.5L738.6,355.5M778.3,335.1L778.3,355.5M778.3,355.5L798.2,355.5M798.2,355.5L818.1,355.5M519.9,355.5L519.9,376.0M579.6,355.5L579.6,376.0M579.6,376.0L599.4,376.0M738.6,355.5L738.6,376.0M718.7,376.0L738.6,376.0M818.1,355.5L818.1,376.0M519.9,376.0L519.9,396.5M599.4,376.0L599.4,396.5M718.7,376.0L718.7,396.5M718.7,396.5L738.6,396.5M818.1,376.0L818.1,396.5M519.9,396.5L519.9,417.0M599.4,396.5L599.4,417.0M579.6,417.0L599.4,417.0M738.6,396.5L738.6,417.0M738.6,417.0L758.4,417.0M818.1,396.5L818.1,417.0M798.2,417.0L818.1,417.0M519.9,417.0L519.9,437.5M579.6,417.0L579.6,437.5M559.7,437.5L579.6,437.5M758.4,417.0L758.4,437.5M758.4,437.5L778.3,437.5M798.2,417.0L798.2,437.5M778.3,437.5L798.2,437.5M519.9,437.5L519.9,447.7M559.7,437.5L559.7,447.7" stroke="#1a1a10" stroke-width="1.0" fill="none" stroke-linecap="square" opacity="0.9"/>
<path d="M510.0,447.7v-7M510.0,38.1v7M563.0,447.7v-4M563.0,38.1v4M616.0,447.7v-7M616.0,38.1v7M669.0,447.7v-4M669.0,38.1v4M722.0,447.7v-7M722.0,38.1v7M775.0,447.7v-4M775.0,38.1v4M828.0,447.7v-7M828.0,38.1v7M457.0,447.7h6M828.0,447.7h-6M457.0,406.7h3M828.0,406.7h-3M457.0,365.8h6M828.0,365.8h-6M457.0,324.8h3M828.0,324.8h-3M457.0,283.9h6M828.0,283.9h-6M457.0,242.9h3M828.0,242.9h-3M457.0,201.9h6M828.0,201.9h-6M457.0,161.0h3M828.0,161.0h-3M457.0,120.0h6M828.0,120.0h-6M457.0,79.1h3M828.0,79.1h-3M457.0,38.1h6M828.0,38.1h-6" stroke="#111" stroke-width="1.1" fill="none"/>
<rect x="457.0" y="38.1" width="371.0" height="409.6" fill="none" stroke="#111" stroke-width="1.3"/>
<rect x="8.60" y="498.0" width="28.12" height="12.8" fill="#27349a" stroke="#222" stroke-width="0.9"/>
<rect x="36.72" y="498.0" width="28.12" height="12.8" fill="#0fc83c" stroke="#222" stroke-width="0.9"/>
<rect x="64.84" y="498.0" width="28.12" height="12.8" fill="#2dd267" stroke="#222" stroke-width="0.9"/>
<rect x="92.96" y="498.0" width="28.12" height="12.8" fill="#66df7c" stroke="#222" stroke-width="0.9"/>
<rect x="121.08" y="498.0" width="28.12" height="12.8" fill="#a6ee82" stroke="#222" stroke-width="0.9"/>
<rect x="149.20" y="498.0" width="28.12" height="12.8" fill="#e9ed8c" stroke="#222" stroke-width="0.9"/>
<rect x="177.32" y="498.0" width="28.12" height="12.8" fill="#e0c87e" stroke="#222" stroke-width="0.9"/>
<rect x="205.44" y="498.0" width="28.12" height="12.8" fill="#b8915c" stroke="#222" stroke-width="0.9"/>
<rect x="233.56" y="498.0" width="28.12" height="12.8" fill="#9a6a52" stroke="#222" stroke-width="0.9"/>
<rect x="261.68" y="498.0" width="28.12" height="12.8" fill="#9c7468" stroke="#222" stroke-width="0.9"/>
<rect x="289.80" y="498.0" width="28.12" height="12.8" fill="#a58779" stroke="#222" stroke-width="0.9"/>
<rect x="317.92" y="498.0" width="28.12" height="12.8" fill="#bfa295" stroke="#222" stroke-width="0.9"/>
<rect x="346.04" y="498.0" width="28.12" height="12.8" fill="#d3c1bb" stroke="#222" stroke-width="0.9"/>
<rect x="374.16" y="498.0" width="28.12" height="12.8" fill="#e6dfdb" stroke="#222" stroke-width="0.9"/>
<rect x="402.28" y="498.0" width="28.12" height="12.8" fill="#ffffff" stroke="#222" stroke-width="0.9"/>
<path d="M548.7,477.8L513.6,494.1L548.7,510.40000000000003Z" fill="#43213a" stroke="#222" stroke-width="0.6"/>
<rect x="548.70" y="477.8" width="30.95" height="32.6" fill="#5a1f64" stroke="#222" stroke-opacity="0.75" stroke-width="0.7"/>
<rect x="579.65" y="477.8" width="30.95" height="32.6" fill="#5e2a7a" stroke="#222" stroke-opacity="0.75" stroke-width="0.7"/>
<rect x="610.60" y="477.8" width="30.95" height="32.6" fill="#34307a" stroke="#222" stroke-opacity="0.75" stroke-width="0.7"/>
<rect x="641.55" y="477.8" width="30.95" height="32.6" fill="#144e8c" stroke="#222" stroke-opacity="0.75" stroke-width="0.7"/>
<rect x="672.50" y="477.8" width="30.95" height="32.6" fill="#2e8fc0" stroke="#222" stroke-opacity="0.75" stroke-width="0.7"/>
<rect x="703.45" y="477.8" width="30.95" height="32.6" fill="#0e9494" stroke="#222" stroke-opacity="0.75" stroke-width="0.7"/>
<rect x="734.40" y="477.8" width="30.95" height="32.6" fill="#078d4e" stroke="#222" stroke-opacity="0.75" stroke-width="0.7"/>
<rect x="765.35" y="477.8" width="30.95" height="32.6" fill="#0b9c55" stroke="#222" stroke-opacity="0.75" stroke-width="0.7"/>
<rect x="796.30" y="477.8" width="30.95" height="32.6" fill="#4caf50" stroke="#222" stroke-opacity="0.75" stroke-width="0.7"/>
<rect x="827.25" y="477.8" width="30.95" height="32.6" fill="#8bc34a" stroke="#222" stroke-opacity="0.75" stroke-width="0.7"/>
<rect x="858.20" y="477.8" width="30.95" height="32.6" fill="#b5d36a" stroke="#222" stroke-opacity="0.75" stroke-width="0.7"/>
<rect x="889.15" y="477.8" width="30.95" height="32.6" fill="#dde08a" stroke="#222" stroke-opacity="0.75" stroke-width="0.7"/>
<rect x="920.10" y="477.8" width="30.95" height="32.6" fill="#f2ea7a" stroke="#222" stroke-opacity="0.75" stroke-width="0.7"/>
<rect x="951.05" y="477.8" width="30.95" height="32.6" fill="#f9e054" stroke="#222" stroke-opacity="0.75" stroke-width="0.7"/>
<rect x="982.00" y="477.8" width="30.95" height="32.6" fill="#fbcf4a" stroke="#222" stroke-opacity="0.75" stroke-width="0.7"/>
<rect x="1012.95" y="477.8" width="30.95" height="32.6" fill="#f5b045" stroke="#222" stroke-opacity="0.75" stroke-width="0.7"/>
<rect x="1043.90" y="477.8" width="30.95" height="32.6" fill="#f0902f" stroke="#222" stroke-opacity="0.75" stroke-width="0.7"/>
<rect x="1074.85" y="477.8" width="30.95" height="32.6" fill="#e8582a" stroke="#222" stroke-opacity="0.75" stroke-width="0.7"/>
<rect x="1105.80" y="477.8" width="30.95" height="32.6" fill="#e52330" stroke="#222" stroke-opacity="0.75" stroke-width="0.7"/>
<rect x="1136.75" y="477.8" width="30.95" height="32.6" fill="#c52a2e" stroke="#222" stroke-opacity="0.75" stroke-width="0.7"/>
<path d="M1167.7,477.8L1202.3,494.1L1167.7,510.40000000000003Z" fill="#8b1d2e" stroke="#222" stroke-width="0.6"/>
<clipPath id="clipC"><rect x="895.3" y="155.3" width="370.5" height="291.5"/></clipPath>
<g clip-path="url(#clipC)" shape-rendering="crispEdges">
<rect x="895.3" y="155.3" width="370.5" height="291.5" fill="#fbcf4a"/>
<rect x="895.3" y="155.3" width="7.0" height="4.2" fill="#f5b045"/>
<rect x="902.1" y="155.3" width="20.5" height="4.2" fill="#e8582a"/>
<rect x="922.4" y="155.3" width="7.0" height="4.2" fill="#f5b045"/>
<rect x="929.2" y="155.3" width="40.9" height="4.2" fill="#e8582a"/>
<rect x="969.9" y="155.3" width="34.1" height="4.2" fill="#f0902f"/>
<rect x="1003.8" y="155.3" width="7.0" height="4.2" fill="#e8582a"/>
<rect x="1010.6" y="155.3" width="27.3" height="4.2" fill="#f0902f"/>
<rect x="1037.7" y="155.3" width="20.5" height="4.2" fill="#e8582a"/>
<rect x="1058.0" y="155.3" width="47.7" height="4.2" fill="#ffffff"/>
<rect x="1105.5" y="155.3" width="34.1" height="4.2" fill="#f0902f"/>
<rect x="1186.8" y="155.3" width="7.0" height="4.2" fill="#f2ea7a"/>
<rect x="1193.6" y="155.3" width="20.5" height="4.2" fill="#dde08a"/>
<rect x="1214.0" y="155.3" width="7.0" height="4.2" fill="#f2ea7a"/>
<rect x="1220.7" y="155.3" width="34.1" height="4.2" fill="#f9e054"/>
<rect x="1254.6" y="155.3" width="13.8" height="4.2" fill="#b5d36a"/>
<rect x="895.3" y="159.3" width="115.5" height="4.2" fill="#e8582a"/>
<rect x="1010.6" y="159.3" width="27.3" height="4.2" fill="#f0902f"/>
<rect x="1037.7" y="159.3" width="20.5" height="4.2" fill="#e8582a"/>
<rect x="1058.0" y="159.3" width="34.1" height="4.2" fill="#ffffff"/>
<rect x="1091.9" y="159.3" width="7.0" height="4.2" fill="#f2ea7a"/>
<rect x="1098.7" y="159.3" width="7.0" height="4.2" fill="#ffffff"/>
<rect x="1105.5" y="159.3" width="34.1" height="4.2" fill="#f0902f"/>
<rect x="1186.8" y="159.3" width="34.1" height="4.2" fill="#f2ea7a"/>
<rect x="1220.7" y="159.3" width="34.1" height="4.2" fill="#f9e054"/>
<rect x="1254.6" y="159.3" width="13.8" height="4.2" fill="#b5d36a"/>
<rect x="895.3" y="163.2" width="115.5" height="4.2" fill="#e8582a"/>
<rect x="1010.6" y="163.2" width="20.5" height="4.2" fill="#f0902f"/>
<rect x="1030.9" y="163.2" width="27.3" height="4.2" fill="#e8582a"/>
<rect x="1058.0" y="163.2" width="47.7" height="4.2" fill="#ffffff"/>
<rect x="1105.5" y="163.2" width="7.0" height="4.2" fill="#f0902f"/>
<rect x="1112.3" y="163.2" width="7.0" height="4.2" fill="#f5b045"/>
<rect x="1119.0" y="163.2" width="20.5" height="4.2" fill="#f0902f"/>
<rect x="1146.2" y="163.2" width="7.0" height="4.2" fill="#f5b045"/>
<rect x="1186.8" y="163.2" width="34.1" height="4.2" fill="#f2ea7a"/>
<rect x="1220.7" y="163.2" width="47.7" height="4.2" fill="#f9e054"/>
<rect x="895.3" y="167.2" width="95.1" height="4.2" fill="#e8582a"/>
<rect x="990.2" y="167.2" width="7.0" height="4.2" fill="#f0902f"/>
<rect x="997.0" y="167.2" width="13.8" height="4.2" fill="#e8582a"/>
<rect x="1010.6" y="167.2" width="20.5" height="4.2" fill="#f0902f"/>
<rect x="1030.9" y="167.2" width="27.3" height="4.2" fill="#e8582a"/>
<rect x="1058.0" y="167.2" width="40.9" height="4.2" fill="#ffffff"/>
<rect x="1098.7" y="167.2" width="13.8" height="4.2" fill="#f0902f"/>
<rect x="1112.3" y="167.2" width="7.0" height="4.2" fill="#f5b045"/>
<rect x="1119.0" y="167.2" width="7.0" height="4.2" fill="#f0902f"/>
<rect x="1125.8" y="167.2" width="68.0" height="4.2" fill="#f5b045"/>
<rect x="1227.5" y="167.2" width="40.9" height="4.2" fill="#f9e054"/>
<rect x="895.3" y="171.2" width="169.7" height="4.2" fill="#e8582a"/>
<rect x="1064.8" y="171.2" width="34.1" height="4.2" fill="#ffffff"/>
<rect x="1098.7" y="171.2" width="7.0" height="4.2" fill="#f5b045"/>
<rect x="1105.5" y="171.2" width="20.5" height="4.2" fill="#f0902f"/>
<rect x="1125.8" y="171.2" width="68.0" height="4.2" fill="#f5b045"/>
<rect x="1227.5" y="171.2" width="34.1" height="4.2" fill="#f9e054"/>
<rect x="1261.4" y="171.2" width="7.0" height="4.2" fill="#f0902f"/>
<rect x="895.3" y="175.2" width="115.5" height="4.2" fill="#e8582a"/>
<rect x="1010.6" y="175.2" width="13.8" height="4.2" fill="#f5b045"/>
<rect x="1024.1" y="175.2" width="40.9" height="4.2" fill="#e8582a"/>
<rect x="1064.8" y="175.2" width="27.3" height="4.2" fill="#ffffff"/>
<rect x="1091.9" y="175.2" width="7.0" height="4.2" fill="#f0902f"/>
<rect x="1098.7" y="175.2" width="7.0" height="4.2" fill="#f5b045"/>
<rect x="1105.5" y="175.2" width="20.5" height="4.2" fill="#f0902f"/>
<rect x="1125.8" y="175.2" width="68.0" height="4.2" fill="#f5b045"/>
<rect x="1227.5" y="175.2" width="34.1" height="4.2" fill="#f9e054"/>
<rect x="1261.4" y="175.2" width="7.0" height="4.2" fill="#f0902f"/>
<rect x="895.3" y="179.1" width="115.5" height="4.2" fill="#e8582a"/>
<rect x="1010.6" y="179.1" width="7.0" height="4.2" fill="#f5b045"/>
<rect x="1017.3" y="179.1" width="7.0" height="4.2" fill="#f0902f"/>
<rect x="1024.1" y="179.1" width="47.7" height="4.2" fill="#e8582a"/>
<rect x="1071.6" y="179.1" width="20.5" height="4.2" fill="#ffffff"/>
<rect x="1091.9" y="179.1" width="34.1" height="4.2" fill="#f0902f"/>
<rect x="1132.6" y="179.1" width="7.0" height="4.2" fill="#f5b045"/>
<rect x="1139.4" y="179.1" width="7.0" height="4.2" fill="#f0902f"/>
<rect x="1146.2" y="179.1" width="7.0" height="4.2" fill="#f5b045"/>
<rect x="1159.7" y="179.1" width="34.1" height="4.2" fill="#f5b045"/>
<rect x="1227.5" y="179.1" width="34.1" height="4.2" fill="#f9e054"/>
<rect x="1261.4" y="179.1" width="7.0" height="4.2" fill="#e8582a"/>
<rect x="895.3" y="183.1" width="169.7" height="4.2" fill="#e8582a"/>
<rect x="1064.8" y="183.1" width="27.3" height="4.2" fill="#ffffff"/>
<rect x="1091.9" y="183.1" width="34.1" height="4.2" fill="#f0902f"/>
<rect x="1132.6" y="183.1" width="7.0" height="4.2" fill="#f5b045"/>
<rect x="1139.4" y="183.1" width="7.0" height="4.2" fill="#f0902f"/>
<rect x="1146.2" y="183.1" width="7.0" height="4.2" fill="#f5b045"/>
<rect x="1159.7" y="183.1" width="34.1" height="4.2" fill="#f5b045"/>
<rect x="1227.5" y="183.1" width="34.1" height="4.2" fill="#f9e054"/>
<rect x="1261.4" y="183.1" width="7.0" height="4.2" fill="#e52330"/>
<rect x="895.3" y="187.1" width="169.7" height="4.2" fill="#e8582a"/>
<rect x="1064.8" y="187.1" width="20.5" height="4.2" fill="#ffffff"/>
<rect x="1085.1" y="187.1" width="40.9" height="4.2" fill="#f0902f"/>
<rect x="1125.8" y="187.1" width="68.0" height="4.2" fill="#f5b045"/>
<rect x="1227.5" y="187.1" width="34.1" height="4.2" fill="#f9e054"/>
<rect x="1261.4" y="187.1" width="7.0" height="4.2" fill="#e52330"/>
<rect x="895.3" y="191.0" width="162.9" height="4.2" fill="#e8582a"/>
<rect x="1058.0" y="191.0" width="95.1" height="4.2" fill="#f0902f"/>
<rect x="1152.9" y="191.0" width="34.1" height="4.2" fill="#f5b045"/>
<rect x="1214.0" y="191.0" width="40.9" height="4.2" fill="#f9e054"/>
<rect x="1254.6" y="191.0" width="7.0" height="4.2" fill="#f0902f"/>
<rect x="1261.4" y="191.0" width="7.0" height="4.2" fill="#e52330"/>
<rect x="895.3" y="195.0" width="7.0" height="4.2" fill="#f0902f"/>
<rect x="902.1" y="195.0" width="156.1" height="4.2" fill="#e8582a"/>
<rect x="1058.0" y="195.0" width="7.0" height="4.2" fill="#f0902f"/>
<rect x="1064.8" y="195.0" width="20.5" height="4.2" fill="#f5b045"/>
<rect x="1085.1" y="195.0" width="54.4" height="4.2" fill="#f0902f"/>
<rect x="1139.4" y="195.0" width="7.0" height="4.2" fill="#f5b045"/>
<rect x="1146.2" y="195.0" width="7.0" height="4.2" fill="#f0902f"/>
<rect x="1152.9" y="195.0" width="40.9" height="4.2" fill="#f5b045"/>
<rect x="1214.0" y="195.0" width="40.9" height="4.2" fill="#f9e054"/>
<rect x="1254.6" y="195.0" width="7.0" height="4.2" fill="#f0902f"/>
<rect x="1261.4" y="195.0" width="7.0" height="4.2" fill="#e8582a"/>
<rect x="895.3" y="199.0" width="7.0" height="4.2" fill="#f0902f"/>
<rect x="902.1" y="199.0" width="156.1" height="4.2" fill="#e8582a"/>
<rect x="1058.0" y="199.0" width="7.0" height="4.2" fill="#f0902f"/>
<rect x="1064.8" y="199.0" width="20.5" height="4.2" fill="#f5b045"/>
<rect x="1085.1" y="199.0" width="54.4" height="4.2" fill="#f0902f"/>
<rect x="1139.4" y="199.0" width="7.0" height="4.2" fill="#f5b045"/>
<rect x="1146.2" y="199.0" width="7.0" height="4.2" fill="#f0902f"/>
<rect x="1152.9" y="199.0" width="40.9" height="4.2" fill="#f5b045"/>
<rect x="1214.0" y="199.0" width="34.1" height="4.2" fill="#f9e054"/>
<rect x="1247.9" y="199.0" width="20.5" height="4.2" fill="#f0902f"/>
<rect x="895.3" y="202.9" width="7.0" height="4.2" fill="#f9e054"/>
<rect x="902.1" y="202.9" width="20.5" height="4.2" fill="#f0902f"/>
<rect x="922.4" y="202.9" width="13.8" height="4.2" fill="#e8582a"/>
<rect x="936.0" y="202.9" width="20.5" height="4.2" fill="#f0902f"/>
<rect x="956.3" y="202.9" width="7.0" height="4.2" fill="#ffffff"/>
<rect x="963.1" y="202.9" width="13.8" height="4.2" fill="#f0902f"/>
<rect x="976.7" y="202.9" width="81.6" height="4.2" fill="#e8582a"/>
<rect x="1058.0" y="202.9" width="20.5" height="4.2" fill="#f0902f"/>
<rect x="1078.4" y="202.9" width="13.8" height="4.2" fill="#e8582a"/>
<rect x="1091.9" y="202.9" width="61.2" height="4.2" fill="#f0902f"/>
<rect x="1152.9" y="202.9" width="34.1" height="4.2" fill="#f5b045"/>
<rect x="1241.1" y="202.9" width="7.0" height="4.2" fill="#f5b045"/>
<rect x="1247.9" y="202.9" width="20.5" height="4.2" fill="#f0902f"/>
<rect x="895.3" y="206.9" width="7.0" height="4.2" fill="#f9e054"/>
<rect x="902.1" y="206.9" width="20.5" height="4.2" fill="#f0902f"/>
<rect x="922.4" y="206.9" width="13.8" height="4.2" fill="#e8582a"/>
<rect x="936.0" y="206.9" width="34.1" height="4.2" fill="#ffffff"/>
<rect x="969.9" y="206.9" width="7.0" height="4.2" fill="#f0902f"/>
<rect x="976.7" y="206.9" width="81.6" height="4.2" fill="#e8582a"/>
<rect x="1058.0" y="206.9" width="20.5" height="4.2" fill="#f0902f"/>
<rect x="1078.4" y="206.9" width="13.8" height="4.2" fill="#e8582a"/>
<rect x="1091.9" y="206.9" width="61.2" height="4.2" fill="#f0902f"/>
<rect x="1152.9" y="206.9" width="34.1" height="4.2" fill="#f5b045"/>
<rect x="1241.1" y="206.9" width="7.0" height="4.2" fill="#f5b045"/>
<rect x="1247.9" y="206.9" width="20.5" height="4.2" fill="#f0902f"/>
<rect x="902.1" y="210.9" width="7.0" height="4.2" fill="#f5b045"/>
<rect x="915.6" y="210.9" width="7.0" height="4.2" fill="#f0902f"/>
<rect x="922.4" y="210.9" width="13.8" height="4.2" fill="#e8582a"/>
<rect x="936.0" y="210.9" width="40.9" height="4.2" fill="#ffffff"/>
<rect x="976.7" y="210.9" width="68.0" height="4.2" fill="#e8582a"/>
<rect x="1044.5" y="210.9" width="13.8" height="4.2" fill="#f0902f"/>
<rect x="1058.0" y="210.9" width="7.0" height="4.2" fill="#f5b045"/>
<rect x="1064.8" y="210.9" width="7.0" height="4.2" fill="#f0902f"/>
<rect x="1071.6" y="210.9" width="20.5" height="4.2" fill="#e8582a"/>
<rect x="1091.9" y="210.9" width="61.2" height="4.2" fill="#f0902f"/>
<rect x="1152.9" y="210.9" width="81.6" height="4.2" fill="#f5b045"/>
<rect x="1234.3" y="210.9" width="34.1" height="4.2" fill="#f0902f"/>
<rect x="902.1" y="214.9" width="7.0" height="4.2" fill="#f5b045"/>
<rect x="915.6" y="214.9" width="13.8" height="4.2" fill="#f0902f"/>
<rect x="929.2" y="214.9" width="27.3" height="4.2" fill="#ffffff"/>
<rect x="956.3" y="214.9" width="13.8" height="4.2" fill="#f5b045"/>
<rect x="969.9" y="214.9" width="7.0" height="4.2" fill="#ffffff"/>
<rect x="976.7" y="214.9" width="61.2" height="4.2" fill="#e8582a"/>
<rect x="1037.7" y="214.9" width="20.5" height="4.2" fill="#f0902f"/>
<rect x="1058.0" y="214.9" width="7.0" height="4.2" fill="#f5b045"/>
<rect x="1064.8" y="214.9" width="7.0" height="4.2" fill="#f0902f"/>
<rect x="1071.6" y="214.9" width="20.5" height="4.2" fill="#e8582a"/>
<rect x="1091.9" y="214.9" width="61.2" height="4.2" fill="#f0902f"/>
<rect x="1152.9" y="214.9" width="81.6" height="4.2" fill="#f5b045"/>
<rect x="1234.3" y="214.9" width="34.1" height="4.2" fill="#f0902f"/>
<rect x="902.1" y="218.8" width="13.8" height="4.2" fill="#f5b045"/>
<rect x="915.6" y="218.8" width="7.0" height="4.2" fill="#f0902f"/>
<rect x="922.4" y="218.8" width="7.0" height="4.2" fill="#f5b045"/>
<rect x="929.2" y="218.8" width="27.3" height="4.2" fill="#ffffff"/>
<rect x="956.3" y="218.8" width="13.8" height="4.2" fill="#f5b045"/>
<rect x="969.9" y="218.8" width="7.0" height="4.2" fill="#ffffff"/>
<rect x="976.7" y="218.8" width="61.2" height="4.2" fill="#e8582a"/>
<rect x="1037.7" y="218.8" width="20.5" height="4.2" fill="#f0902f"/>
<rect x="1058.0" y="218.8" width="20.5" height="4.2" fill="#f5b045"/>
<rect x="1112.3" y="218.8" width="7.0" height="4.2" fill="#f9e054"/>
<rect x="1119.0" y="218.8" width="7.0" height="4.2" fill="#f5b045"/>
<rect x="1125.8" y="218.8" width="27.3" height="4.2" fill="#f0902f"/>
<rect x="1152.9" y="218.8" width="27.3" height="4.2" fill="#f5b045"/>
<rect x="1180.1" y="218.8" width="13.8" height="4.2" fill="#e8582a"/>
<rect x="1193.6" y="218.8" width="7.0" height="4.2" fill="#f0902f"/>
<rect x="1200.4" y="218.8" width="34.1" height="4.2" fill="#f5b045"/>
<rect x="1234.3" y="218.8" width="7.0" height="4.2" fill="#f0902f"/>
<rect x="1241.1" y="218.8" width="27.3" height="4.2" fill="#f5b045"/>
<rect x="902.1" y="222.8" width="20.5" height="4.2" fill="#f0902f"/>
<rect x="922.4" y="222.8" width="7.0" height="4.2" fill="#f5b045"/>
<rect x="929.2" y="222.8" width="47.7" height="4.2" fill="#ffffff"/>
<rect x="976.7" y="222.8" width="61.2" height="4.2" fill="#e8582a"/>
<rect x="1037.7" y="222.8" width="20.5" height="4.2" fill="#f0902f"/>
<rect x="1058.0" y="222.8" width="20.5" height="4.2" fill="#f5b045"/>
<rect x="1112.3" y="222.8" width="7.0" height="4.2" fill="#f9e054"/>
<rect x="1119.0" y="222.8" width="7.0" height="4.2" fill="#f5b045"/>
<rect x="1125.8" y="222.8" width="13.8" height="4.2" fill="#f0902f"/>
<rect x="1139.4" y="222.8" width="27.3" height="4.2" fill="#e8582a"/>
<rect x="1166.5" y="222.8" width="13.8" height="4.2" fill="#f0902f"/>
<rect x="1180.1" y="222.8" width="20.5" height="4.2" fill="#e8582a"/>
<rect x="1200.4" y="222.8" width="7.0" height="4.2" fill="#f0902f"/>
<rect x="1207.2" y="222.8" width="27.3" height="4.2" fill="#f5b045"/>
<rect x="1234.3" y="222.8" width="7.0" height="4.2" fill="#f0902f"/>
<rect x="1241.1" y="222.8" width="27.3" height="4.2" fill="#f5b045"/>
<rect x="895.3" y="226.8" width="34.1" height="4.2" fill="#f0902f"/>
<rect x="929.2" y="226.8" width="47.7" height="4.2" fill="#ffffff"/>
<rect x="976.7" y="226.8" width="47.7" height="4.2" fill="#e8582a"/>
<rect x="1024.1" y="226.8" width="27.3" height="4.2" fill="#f0902f"/>
<rect x="1051.2" y="226.8" width="7.0" height="4.2" fill="#f9e054"/>
<rect x="1058.0" y="226.8" width="7.0" height="4.2" fill="#f2ea7a"/>
<rect x="1064.8" y="226.8" width="34.1" height="4.2" fill="#f9e054"/>
<rect x="1105.5" y="226.8" width="13.8" height="4.2" fill="#f9e054"/>
<rect x="1125.8" y="226.8" width="7.0" height="4.2" fill="#f0902f"/>
<rect x="1132.6" y="226.8" width="81.6" height="4.2" fill="#e8582a"/>
<rect x="1214.0" y="226.8" width="7.0" height="4.2" fill="#f0902f"/>
<rect x="1220.7" y="226.8" width="47.7" height="4.2" fill="#f5b045"/>
<rect x="895.3" y="230.7" width="34.1" height="4.2" fill="#f0902f"/>
<rect x="929.2" y="230.7" width="40.9" height="4.2" fill="#ffffff"/>
<rect x="969.9" y="230.7" width="47.7" height="4.2" fill="#f0902f"/>
<rect x="1017.3" y="230.7" width="27.3" height="4.2" fill="#f5b045"/>
<rect x="1044.5" y="230.7" width="7.0" height="4.2" fill="#f0902f"/>
<rect x="1051.2" y="230.7" width="7.0" height="4.2" fill="#f9e054"/>
<rect x="1058.0" y="230.7" width="7.0" height="4.2" fill="#f2ea7a"/>
<rect x="1064.8" y="230.7" width="34.1" height="4.2" fill="#f9e054"/>
<rect x="1105.5" y="230.7" width="13.8" height="4.2" fill="#f9e054"/>
<rect x="1125.8" y="230.7" width="54.4" height="4.2" fill="#e8582a"/>
<rect x="1180.1" y="230.7" width="7.0" height="4.2" fill="#e52330"/>
<rect x="1186.8" y="230.7" width="27.3" height="4.2" fill="#e8582a"/>
<rect x="1214.0" y="230.7" width="7.0" height="4.2" fill="#f0902f"/>
<rect x="1220.7" y="230.7" width="20.5" height="4.2" fill="#f5b045"/>
<rect x="1241.1" y="230.7" width="7.0" height="4.2" fill="#f0902f"/>
<rect x="1247.9" y="230.7" width="20.5" height="4.2" fill="#f5b045"/>
<rect x="902.1" y="234.7" width="13.8" height="4.2" fill="#f5b045"/>
<rect x="915.6" y="234.7" width="13.8" height="4.2" fill="#f0902f"/>
<rect x="929.2" y="234.7" width="47.7" height="4.2" fill="#ffffff"/>
<rect x="976.7" y="234.7" width="40.9" height="4.2" fill="#f0902f"/>
<rect x="1017.3" y="234.7" width="27.3" height="4.2" fill="#f5b045"/>
<rect x="1044.5" y="234.7" width="27.3" height="4.2" fill="#dde08a"/>
<rect x="1071.6" y="234.7" width="7.0" height="4.2" fill="#b5d36a"/>
<rect x="1078.4" y="234.7" width="20.5" height="4.2" fill="#f2ea7a"/>
<rect x="1112.3" y="234.7" width="7.0" height="4.2" fill="#f5b045"/>
<rect x="1119.0" y="234.7" width="7.0" height="4.2" fill="#f0902f"/>
<rect x="1125.8" y="234.7" width="20.5" height="4.2" fill="#e8582a"/>
<rect x="1146.2" y="234.7" width="13.8" height="4.2" fill="#e52330"/>
<rect x="1159.7" y="234.7" width="13.8" height="4.2" fill="#e8582a"/>
<rect x="1173.3" y="234.7" width="20.5" height="4.2" fill="#e52330"/>
<rect x="1193.6" y="234.7" width="20.5" height="4.2" fill="#e8582a"/>
<rect x="1214.0" y="234.7" width="7.0" height="4.2" fill="#f0902f"/>
<rect x="1220.7" y="234.7" width="13.8" height="4.2" fill="#f5b045"/>
<rect x="1234.3" y="234.7" width="13.8" height="4.2" fill="#f0902f"/>
<rect x="1247.9" y="234.7" width="20.5" height="4.2" fill="#f5b045"/>
<rect x="902.1" y="238.7" width="13.8" height="4.2" fill="#f5b045"/>
<rect x="915.6" y="238.7" width="13.8" height="4.2" fill="#f0902f"/>
<rect x="929.2" y="238.7" width="13.8" height="4.2" fill="#f5b045"/>
<rect x="942.8" y="238.7" width="34.1" height="4.2" fill="#ffffff"/>
<rect x="976.7" y="238.7" width="13.8" height="4.2" fill="#f0902f"/>
<rect x="990.2" y="238.7" width="13.8" height="4.2" fill="#f5b045"/>
<rect x="1003.8" y="238.7" width="13.8" height="4.2" fill="#f0902f"/>
<rect x="1017.3" y="238.7" width="13.8" height="4.2" fill="#f9e054"/>
<rect x="1030.9" y="238.7" width="20.5" height="4.2" fill="#dde08a"/>
<rect x="1051.2" y="238.7" width="13.8" height="4.2" fill="#b5d36a"/>
<rect x="1064.8" y="238.7" width="13.8" height="4.2" fill="#8bc34a"/>
<rect x="1078.4" y="238.7" width="7.0" height="4.2" fill="#b5d36a"/>
<rect x="1085.1" y="238.7" width="13.8" height="4.2" fill="#f2ea7a"/>
<rect x="1112.3" y="238.7" width="7.0" height="4.2" fill="#f5b045"/>
<rect x="1119.0" y="238.7" width="7.0" height="4.2" fill="#f0902f"/>
<rect x="1125.8" y="238.7" width="20.5" height="4.2" fill="#e8582a"/>
<rect x="1146.2" y="238.7" width="47.7" height="4.2" fill="#e52330"/>
<rect x="1193.6" y="238.7" width="13.8" height="4.2" fill="#e8582a"/>
<rect x="1207.2" y="238.7" width="13.8" height="4.2" fill="#f0902f"/>
<rect x="1220.7" y="238.7" width="13.8" height="4.2" fill="#f5b045"/>
<rect x="1234.3" y="238.7" width="7.0" height="4.2" fill="#f0902f"/>
<rect x="1241.1" y="238.7" width="27.3" height="4.2" fill="#f5b045"/>
<rect x="902.1" y="242.6" width="13.8" height="4.2" fill="#f5b045"/>
<rect x="915.6" y="242.6" width="13.8" height="4.2" fill="#f0902f"/>
<rect x="929.2" y="242.6" width="13.8" height="4.2" fill="#f5b045"/>
<rect x="942.8" y="242.6" width="34.1" height="4.2" fill="#ffffff"/>
<rect x="976.7" y="242.6" width="7.0" height="4.2" fill="#f0902f"/>
<rect x="983.4" y="242.6" width="20.5" height="4.2" fill="#f5b045"/>
<rect x="1003.8" y="242.6" width="20.5" height="4.2" fill="#f0902f"/>
<rect x="1024.1" y="242.6" width="7.0" height="4.2" fill="#f5b045"/>
<rect x="1030.9" y="242.6" width="20.5" height="4.2" fill="#dde08a"/>
<rect x="1051.2" y="242.6" width="13.8" height="4.2" fill="#b5d36a"/>
<rect x="1064.8" y="242.6" width="13.8" height="4.2" fill="#8bc34a"/>
<rect x="1078.4" y="242.6" width="13.8" height="4.2" fill="#b5d36a"/>
<rect x="1091.9" y="242.6" width="7.0" height="4.2" fill="#f2ea7a"/>
<rect x="1119.0" y="242.6" width="7.0" height="4.2" fill="#f0902f"/>
<rect x="1125.8" y="242.6" width="20.5" height="4.2" fill="#e8582a"/>
<rect x="1146.2" y="242.6" width="47.7" height="4.2" fill="#e52330"/>
<rect x="1193.6" y="242.6" width="13.8" height="4.2" fill="#e8582a"/>
<rect x="1207.2" y="242.6" width="13.8" height="4.2" fill="#f0902f"/>
<rect x="1220.7" y="242.6" width="13.8" height="4.2" fill="#f5b045"/>
<rect x="1234.3" y="242.6" width="7.0" height="4.2" fill="#f0902f"/>
<rect x="1241.1" y="242.6" width="27.3" height="4.2" fill="#f5b045"/>
<rect x="902.1" y="246.6" width="13.8" height="4.2" fill="#f5b045"/>
<rect x="915.6" y="246.6" width="13.8" height="4.2" fill="#f0902f"/>
<rect x="929.2" y="246.6" width="13.8" height="4.2" fill="#f5b045"/>
<rect x="942.8" y="246.6" width="34.1" height="4.2" fill="#ffffff"/>
<rect x="976.7" y="246.6" width="7.0" height="4.2" fill="#f0902f"/>
<rect x="983.4" y="246.6" width="20.5" height="4.2" fill="#f5b045"/>
<rect x="1003.8" y="246.6" width="20.5" height="4.2" fill="#f0902f"/>
<rect x="1024.1" y="246.6" width="7.0" height="4.2" fill="#f5b045"/>
<rect x="1030.9" y="246.6" width="20.5" height="4.2" fill="#dde08a"/>
<rect x="1051.2" y="246.6" width="13.8" height="4.2" fill="#b5d36a"/>
<rect x="1064.8" y="246.6" width="13.8" height="4.2" fill="#8bc34a"/>
<rect x="1078.4" y="246.6" width="13.8" height="4.2" fill="#b5d36a"/>
<rect x="1091.9" y="246.6" width="7.0" height="4.2" fill="#f0902f"/>
<rect x="1119.0" y="246.6" width="7.0" height="4.2" fill="#f0902f"/>
<rect x="1125.8" y="246.6" width="20.5" height="4.2" fill="#e8582a"/>
<rect x="1146.2" y="246.6" width="61.2" height="4.2" fill="#e52330"/>
<rect x="1207.2" y="246.6" width="13.8" height="4.2" fill="#f0902f"/>
<rect x="1220.7" y="246.6" width="13.8" height="4.2" fill="#f5b045"/>
<rect x="1234.3" y="246.6" width="7.0" height="4.2" fill="#f0902f"/>
<rect x="1241.1" y="246.6" width="27.3" height="4.2" fill="#f5b045"/>
<rect x="895.3" y="250.6" width="34.1" height="4.2" fill="#f0902f"/>
<rect x="929.2" y="250.6" width="7.0" height="4.2" fill="#f2ea7a"/>
<rect x="936.0" y="250.6" width="7.0" height="4.2" fill="#f9e054"/>
<rect x="949.5" y="250.6" width="27.3" height="4.2" fill="#f9e054"/>
<rect x="976.7" y="250.6" width="13.8" height="4.2" fill="#f0902f"/>
<rect x="990.2" y="250.6" width="7.0" height="4.2" fill="#f5b045"/>
<rect x="997.0" y="250.6" width="7.0" height="4.2" fill="#f0902f"/>
<rect x="1003.8" y="250.6" width="7.0" height="4.2" fill="#f5b045"/>
<rect x="1010.6" y="250.6" width="7.0" height="4.2" fill="#f0902f"/>
<rect x="1017.3" y="250.6" width="20.5" height="4.2" fill="#b5d36a"/>
<rect x="1037.7" y="250.6" width="7.0" height="4.2" fill="#4caf50"/>
<rect x="1044.5" y="250.6" width="34.1" height="4.2" fill="#8bc34a"/>
<rect x="1078.4" y="250.6" width="20.5" height="4.2" fill="#dde08a"/>
<rect x="1098.7" y="250.6" width="7.0" height="4.2" fill="#b5d36a"/>
<rect x="1105.5" y="250.6" width="13.8" height="4.2" fill="#dde08a"/>
<rect x="1125.8" y="250.6" width="7.0" height="4.2" fill="#f5b045"/>
<rect x="1132.6" y="250.6" width="27.3" height="4.2" fill="#e8582a"/>
<rect x="1159.7" y="250.6" width="27.3" height="4.2" fill="#e52330"/>
<rect x="1186.8" y="250.6" width="20.5" height="4.2" fill="#f0902f"/>
<rect x="1220.7" y="250.6" width="7.0" height="4.2" fill="#f9e054"/>
<rect x="1227.5" y="250.6" width="7.0" height="4.2" fill="#f2ea7a"/>
<rect x="1234.3" y="250.6" width="34.1" height="4.2" fill="#f5b045"/>
<rect x="895.3" y="254.6" width="13.8" height="4.2" fill="#f0902f"/>
<rect x="908.9" y="254.6" width="20.5" height="4.2" fill="#f5b045"/>
<rect x="929.2" y="254.6" width="20.5" height="4.2" fill="#f2ea7a"/>
<rect x="949.5" y="254.6" width="27.3" height="4.2" fill="#f9e054"/>
<rect x="976.7" y="254.6" width="13.8" height="4.2" fill="#f0902f"/>
<rect x="990.2" y="254.6" width="27.3" height="4.2" fill="#f5b045"/>
<rect x="1017.3" y="254.6" width="13.8" height="4.2" fill="#f2ea7a"/>
<rect x="1030.9" y="254.6" width="20.5" height="4.2" fill="#b5d36a"/>
<rect x="1051.2" y="254.6" width="27.3" height="4.2" fill="#8bc34a"/>
<rect x="1078.4" y="254.6" width="20.5" height="4.2" fill="#dde08a"/>
<rect x="1098.7" y="254.6" width="7.0" height="4.2" fill="#b5d36a"/>
<rect x="1105.5" y="254.6" width="13.8" height="4.2" fill="#dde08a"/>
<rect x="1125.8" y="254.6" width="7.0" height="4.2" fill="#f5b045"/>
<rect x="1132.6" y="254.6" width="7.0" height="4.2" fill="#f0902f"/>
<rect x="1139.4" y="254.6" width="20.5" height="4.2" fill="#e8582a"/>
<rect x="1159.7" y="254.6" width="20.5" height="4.2" fill="#e52330"/>
<rect x="1180.1" y="254.6" width="7.0" height="4.2" fill="#e8582a"/>
<rect x="1186.8" y="254.6" width="13.8" height="4.2" fill="#f0902f"/>
<rect x="1200.4" y="254.6" width="7.0" height="4.2" fill="#f5b045"/>
<rect x="1220.7" y="254.6" width="7.0" height="4.2" fill="#f9e054"/>
<rect x="1234.3" y="254.6" width="34.1" height="4.2" fill="#f5b045"/>
<rect x="895.3" y="258.5" width="13.8" height="4.2" fill="#e8582a"/>
<rect x="908.9" y="258.5" width="20.5" height="4.2" fill="#f5b045"/>
<rect x="929.2" y="258.5" width="20.5" height="4.2" fill="#f2ea7a"/>
<rect x="949.5" y="258.5" width="27.3" height="4.2" fill="#f9e054"/>
<rect x="976.7" y="258.5" width="7.0" height="4.2" fill="#f0902f"/>
<rect x="983.4" y="258.5" width="7.0" height="4.2" fill="#f5b045"/>
<rect x="990.2" y="258.5" width="7.0" height="4.2" fill="#f0902f"/>
<rect x="997.0" y="258.5" width="20.5" height="4.2" fill="#f5b045"/>
<rect x="1017.3" y="258.5" width="20.5" height="4.2" fill="#f2ea7a"/>
<rect x="1037.7" y="258.5" width="7.0" height="4.2" fill="#f9e054"/>
<rect x="1044.5" y="258.5" width="7.0" height="4.2" fill="#b5d36a"/>
<rect x="1051.2" y="258.5" width="7.0" height="4.2" fill="#8bc34a"/>
<rect x="1058.0" y="258.5" width="13.8" height="4.2" fill="#b5d36a"/>
<rect x="1071.6" y="258.5" width="7.0" height="4.2" fill="#8bc34a"/>
<rect x="1078.4" y="258.5" width="20.5" height="4.2" fill="#dde08a"/>
<rect x="1098.7" y="258.5" width="27.3" height="4.2" fill="#f9e054"/>
<rect x="1132.6" y="258.5" width="7.0" height="4.2" fill="#f0902f"/>
<rect x="1139.4" y="258.5" width="20.5" height="4.2" fill="#e8582a"/>
<rect x="1159.7" y="258.5" width="20.5" height="4.2" fill="#e52330"/>
<rect x="1180.1" y="258.5" width="7.0" height="4.2" fill="#e8582a"/>
<rect x="1186.8" y="258.5" width="13.8" height="4.2" fill="#f0902f"/>
<rect x="1200.4" y="258.5" width="7.0" height="4.2" fill="#f5b045"/>
<rect x="1234.3" y="258.5" width="34.1" height="4.2" fill="#f5b045"/>
<rect x="895.3" y="262.5" width="13.8" height="4.2" fill="#e8582a"/>
<rect x="908.9" y="262.5" width="7.0" height="4.2" fill="#f0902f"/>
<rect x="915.6" y="262.5" width="13.8" height="4.2" fill="#f5b045"/>
<rect x="929.2" y="262.5" width="20.5" height="4.2" fill="#f2ea7a"/>
<rect x="949.5" y="262.5" width="27.3" height="4.2" fill="#f9e054"/>
<rect x="976.7" y="262.5" width="7.0" height="4.2" fill="#f0902f"/>
<rect x="983.4" y="262.5" width="7.0" height="4.2" fill="#f5b045"/>
<rect x="990.2" y="262.5" width="7.0" height="4.2" fill="#f0902f"/>
<rect x="997.0" y="262.5" width="20.5" height="4.2" fill="#f5b045"/>
<rect x="1017.3" y="262.5" width="20.5" height="4.2" fill="#dde08a"/>
<rect x="1037.7" y="262.5" width="34.1" height="4.2" fill="#f9e054"/>
<rect x="1071.6" y="262.5" width="7.0" height="4.2" fill="#8bc34a"/>
<rect x="1078.4" y="262.5" width="20.5" height="4.2" fill="#dde08a"/>
<rect x="1098.7" y="262.5" width="27.3" height="4.2" fill="#f9e054"/>
<rect x="1132.6" y="262.5" width="7.0" height="4.2" fill="#f5b045"/>
<rect x="1139.4" y="262.5" width="20.5" height="4.2" fill="#e8582a"/>
<rect x="1159.7" y="262.5" width="20.5" height="4.2" fill="#e52330"/>
<rect x="1180.1" y="262.5" width="7.0" height="4.2" fill="#e8582a"/>
<rect x="1186.8" y="262.5" width="7.0" height="4.2" fill="#f0902f"/>
<rect x="1193.6" y="262.5" width="7.0" height="4.2" fill="#f5b045"/>
<rect x="1214.0" y="262.5" width="7.0" height="4.2" fill="#f9e054"/>
<rect x="1234.3" y="262.5" width="34.1" height="4.2" fill="#f5b045"/>
<rect x="895.3" y="266.5" width="7.0" height="4.2" fill="#e8582a"/>
<rect x="902.1" y="266.5" width="7.0" height="4.2" fill="#e52330"/>
<rect x="908.9" y="266.5" width="7.0" height="4.2" fill="#e8582a"/>
<rect x="915.6" y="266.5" width="20.5" height="4.2" fill="#f9e054"/>
<rect x="936.0" y="266.5" width="7.0" height="4.2" fill="#f2ea7a"/>
<rect x="942.8" y="266.5" width="34.1" height="4.2" fill="#f9e054"/>
<rect x="976.7" y="266.5" width="40.9" height="4.2" fill="#f0902f"/>
<rect x="1017.3" y="266.5" width="7.0" height="4.2" fill="#dde08a"/>
<rect x="1024.1" y="266.5" width="13.8" height="4.2" fill="#8bc34a"/>
<rect x="1037.7" y="266.5" width="34.1" height="4.2" fill="#f9e054"/>
<rect x="1071.6" y="266.5" width="7.0" height="4.2" fill="#f2ea7a"/>
<rect x="1078.4" y="266.5" width="20.5" height="4.2" fill="#dde08a"/>
<rect x="1098.7" y="266.5" width="20.5" height="4.2" fill="#f9e054"/>
<rect x="1119.0" y="266.5" width="7.0" height="4.2" fill="#f2ea7a"/>
<rect x="1125.8" y="266.5" width="7.0" height="4.2" fill="#f9e054"/>
<rect x="1139.4" y="266.5" width="20.5" height="4.2" fill="#e8582a"/>
<rect x="1159.7" y="266.5" width="13.8" height="4.2" fill="#e52330"/>
<rect x="1173.3" y="266.5" width="7.0" height="4.2" fill="#e8582a"/>
<rect x="1180.1" y="266.5" width="13.8" height="4.2" fill="#f0902f"/>
<rect x="1193.6" y="266.5" width="7.0" height="4.2" fill="#f5b045"/>
<rect x="1207.2" y="266.5" width="7.0" height="4.2" fill="#f9e054"/>
<rect x="1214.0" y="266.5" width="13.8" height="4.2" fill="#f5b045"/>
<rect x="895.3" y="270.4" width="7.0" height="4.2" fill="#e8582a"/>
<rect x="902.1" y="270.4" width="7.0" height="4.2" fill="#e52330"/>
<rect x="908.9" y="270.4" width="7.0" height="4.2" fill="#e8582a"/>
<rect x="915.6" y="270.4" width="13.8" height="4.2" fill="#f0902f"/>
<rect x="929.2" y="270.4" width="34.1" height="4.2" fill="#f9e054"/>
<rect x="963.1" y="270.4" width="20.5" height="4.2" fill="#dde08a"/>
<rect x="983.4" y="270.4" width="27.3" height="4.2" fill="#f0902f"/>
<rect x="1010.6" y="270.4" width="7.0" height="4.2" fill="#f9e054"/>
<rect x="1017.3" y="270.4" width="7.0" height="4.2" fill="#dde08a"/>
<rect x="1024.1" y="270.4" width="13.8" height="4.2" fill="#8bc34a"/>
<rect x="1037.7" y="270.4" width="34.1" height="4.2" fill="#f9e054"/>
<rect x="1071.6" y="270.4" width="7.0" height="4.2" fill="#f2ea7a"/>
<rect x="1078.4" y="270.4" width="20.5" height="4.2" fill="#dde08a"/>
<rect x="1098.7" y="270.4" width="20.5" height="4.2" fill="#f9e054"/>
<rect x="1119.0" y="270.4" width="7.0" height="4.2" fill="#f2ea7a"/>
<rect x="1125.8" y="270.4" width="7.0" height="4.2" fill="#f9e054"/>
<rect x="1146.2" y="270.4" width="7.0" height="4.2" fill="#f5b045"/>
<rect x="1152.9" y="270.4" width="7.0" height="4.2" fill="#e8582a"/>
<rect x="1159.7" y="270.4" width="13.8" height="4.2" fill="#e52330"/>
<rect x="1173.3" y="270.4" width="20.5" height="4.2" fill="#f5b045"/>
<rect x="1200.4" y="270.4" width="13.8" height="4.2" fill="#f9e054"/>
<rect x="1214.0" y="270.4" width="13.8" height="4.2" fill="#f5b045"/>
<rect x="895.3" y="274.4" width="13.8" height="4.2" fill="#f0902f"/>
<rect x="908.9" y="274.4" width="7.0" height="4.2" fill="#e8582a"/>
<rect x="915.6" y="274.4" width="13.8" height="4.2" fill="#f5b045"/>
<rect x="929.2" y="274.4" width="20.5" height="4.2" fill="#f9e054"/>
<rect x="949.5" y="274.4" width="47.7" height="4.2" fill="#dde08a"/>
<rect x="997.0" y="274.4" width="7.0" height="4.2" fill="#f9e054"/>
<rect x="1003.8" y="274.4" width="13.8" height="4.2" fill="#f2ea7a"/>
<rect x="1017.3" y="274.4" width="7.0" height="4.2" fill="#dde08a"/>
<rect x="1024.1" y="274.4" width="13.8" height="4.2" fill="#8bc34a"/>
<rect x="1037.7" y="274.4" width="34.1" height="4.2" fill="#f9e054"/>
<rect x="1071.6" y="274.4" width="7.0" height="4.2" fill="#f2ea7a"/>
<rect x="1078.4" y="274.4" width="61.2" height="4.2" fill="#dde08a"/>
<rect x="1159.7" y="274.4" width="13.8" height="4.2" fill="#e52330"/>
<rect x="1193.6" y="274.4" width="13.8" height="4.2" fill="#f9e054"/>
<rect x="1207.2" y="274.4" width="7.0" height="4.2" fill="#dde08a"/>
<rect x="1214.0" y="274.4" width="13.8" height="4.2" fill="#f5b045"/>
<rect x="895.3" y="278.4" width="20.5" height="4.2" fill="#f0902f"/>
<rect x="915.6" y="278.4" width="20.5" height="4.2" fill="#e8582a"/>
<rect x="936.0" y="278.4" width="7.0" height="4.2" fill="#f0902f"/>
<rect x="942.8" y="278.4" width="7.0" height="4.2" fill="#ffffff"/>
<rect x="949.5" y="278.4" width="7.0" height="4.2" fill="#f9e054"/>
<rect x="956.3" y="278.4" width="81.6" height="4.2" fill="#dde08a"/>
<rect x="1037.7" y="278.4" width="34.1" height="4.2" fill="#f9e054"/>
<rect x="1071.6" y="278.4" width="7.0" height="4.2" fill="#f2ea7a"/>
<rect x="1078.4" y="278.4" width="135.8" height="4.2" fill="#dde08a"/>
<rect x="1214.0" y="278.4" width="13.8" height="4.2" fill="#f5b045"/>
<rect x="895.3" y="282.3" width="27.3" height="4.2" fill="#f9e054"/>
<rect x="922.4" y="282.3" width="27.3" height="4.2" fill="#e8582a"/>
<rect x="949.5" y="282.3" width="7.0" height="4.2" fill="#f9e054"/>
<rect x="956.3" y="282.3" width="7.0" height="4.2" fill="#dde08a"/>
<rect x="963.1" y="282.3" width="40.9" height="4.2" fill="#b5d36a"/>
<rect x="1003.8" y="282.3" width="13.8" height="4.2" fill="#dde08a"/>
<rect x="1017.3" y="282.3" width="13.8" height="4.2" fill="#8bc34a"/>
<rect x="1030.9" y="282.3" width="7.0" height="4.2" fill="#dde08a"/>
<rect x="1037.7" y="282.3" width="34.1" height="4.2" fill="#f9e054"/>
<rect x="1071.6" y="282.3" width="13.8" height="4.2" fill="#f2ea7a"/>
<rect x="1085.1" y="282.3" width="68.0" height="4.2" fill="#dde08a"/>
<rect x="1152.9" y="282.3" width="27.3" height="4.2" fill="#8bc34a"/>
<rect x="1180.1" y="282.3" width="7.0" height="4.2" fill="#b5d36a"/>
<rect x="1186.8" y="282.3" width="7.0" height="4.2" fill="#dde08a"/>
<rect x="1193.6" y="282.3" width="7.0" height="4.2" fill="#8bc34a"/>
<rect x="1200.4" y="282.3" width="13.8" height="4.2" fill="#dde08a"/>
<rect x="1214.0" y="282.3" width="13.8" height="4.2" fill="#f5b045"/>
<rect x="895.3" y="286.3" width="27.3" height="4.2" fill="#f9e054"/>
<rect x="922.4" y="286.3" width="34.1" height="4.2" fill="#e8582a"/>
<rect x="956.3" y="286.3" width="7.0" height="4.2" fill="#f9e054"/>
<rect x="963.1" y="286.3" width="7.0" height="4.2" fill="#dde08a"/>
<rect x="969.9" y="286.3" width="34.1" height="4.2" fill="#b5d36a"/>
<rect x="1003.8" y="286.3" width="7.0" height="4.2" fill="#dde08a"/>
<rect x="1010.6" y="286.3" width="27.3" height="4.2" fill="#8bc34a"/>
<rect x="1037.7" y="286.3" width="7.0" height="4.2" fill="#dde08a"/>
<rect x="1044.5" y="286.3" width="27.3" height="4.2" fill="#f9e054"/>
<rect x="1071.6" y="286.3" width="13.8" height="4.2" fill="#f2ea7a"/>
<rect x="1085.1" y="286.3" width="61.2" height="4.2" fill="#dde08a"/>
<rect x="1146.2" y="286.3" width="7.0" height="4.2" fill="#b5d36a"/>
<rect x="1152.9" y="286.3" width="27.3" height="4.2" fill="#8bc34a"/>
<rect x="1180.1" y="286.3" width="7.0" height="4.2" fill="#b5d36a"/>
<rect x="1186.8" y="286.3" width="7.0" height="4.2" fill="#dde08a"/>
<rect x="1193.6" y="286.3" width="7.0" height="4.2" fill="#8bc34a"/>
<rect x="1200.4" y="286.3" width="7.0" height="4.2" fill="#b5d36a"/>
<rect x="1207.2" y="286.3" width="7.0" height="4.2" fill="#dde08a"/>
<rect x="1214.0" y="286.3" width="13.8" height="4.2" fill="#f5b045"/>
<rect x="895.3" y="290.3" width="7.0" height="4.2" fill="#f2ea7a"/>
<rect x="902.1" y="290.3" width="20.5" height="4.2" fill="#f9e054"/>
<rect x="922.4" y="290.3" width="7.0" height="4.2" fill="#f0902f"/>
<rect x="929.2" y="290.3" width="13.8" height="4.2" fill="#e8582a"/>
<rect x="942.8" y="290.3" width="13.8" height="4.2" fill="#e52330"/>
<rect x="956.3" y="290.3" width="7.0" height="4.2" fill="#e8582a"/>
<rect x="963.1" y="290.3" width="7.0" height="4.2" fill="#f9e054"/>
<rect x="969.9" y="290.3" width="40.9" height="4.2" fill="#b5d36a"/>
<rect x="1010.6" y="290.3" width="7.0" height="4.2" fill="#f2ea7a"/>
<rect x="1017.3" y="290.3" width="20.5" height="4.2" fill="#8bc34a"/>
<rect x="1037.7" y="290.3" width="13.8" height="4.2" fill="#dde08a"/>
<rect x="1051.2" y="290.3" width="20.5" height="4.2" fill="#f9e054"/>
<rect x="1071.6" y="290.3" width="7.0" height="4.2" fill="#f2ea7a"/>
<rect x="1078.4" y="290.3" width="47.7" height="4.2" fill="#dde08a"/>
<rect x="1125.8" y="290.3" width="27.3" height="4.2" fill="#b5d36a"/>
<rect x="1152.9" y="290.3" width="7.0" height="4.2" fill="#4caf50"/>
<rect x="1159.7" y="290.3" width="7.0" height="4.2" fill="#8bc34a"/>
<rect x="1166.5" y="290.3" width="7.0" height="4.2" fill="#4caf50"/>
<rect x="1173.3" y="290.3" width="7.0" height="4.2" fill="#8bc34a"/>
<rect x="1180.1" y="290.3" width="27.3" height="4.2" fill="#b5d36a"/>
<rect x="1207.2" y="290.3" width="7.0" height="4.2" fill="#dde08a"/>
<rect x="1214.0" y="290.3" width="13.8" height="4.2" fill="#f5b045"/>
<rect x="1247.9" y="290.3" width="20.5" height="4.2" fill="#f5b045"/>
<rect x="908.9" y="294.2" width="13.8" height="4.2" fill="#f9e054"/>
<rect x="922.4" y="294.2" width="7.0" height="4.2" fill="#f0902f"/>
<rect x="929.2" y="294.2" width="13.8" height="4.2" fill="#e8582a"/>
<rect x="942.8" y="294.2" width="13.8" height="4.2" fill="#e52330"/>
<rect x="956.3" y="294.2" width="7.0" height="4.2" fill="#e8582a"/>
<rect x="963.1" y="294.2" width="13.8" height="4.2" fill="#f9e054"/>
<rect x="976.7" y="294.2" width="7.0" height="4.2" fill="#dde08a"/>
<rect x="983.4" y="294.2" width="27.3" height="4.2" fill="#b5d36a"/>
<rect x="1010.6" y="294.2" width="7.0" height="4.2" fill="#f2ea7a"/>
<rect x="1017.3" y="294.2" width="27.3" height="4.2" fill="#8bc34a"/>
<rect x="1044.5" y="294.2" width="13.8" height="4.2" fill="#dde08a"/>
<rect x="1058.0" y="294.2" width="7.0" height="4.2" fill="#f2ea7a"/>
<rect x="1064.8" y="294.2" width="7.0" height="4.2" fill="#f5b045"/>
<rect x="1071.6" y="294.2" width="7.0" height="4.2" fill="#f2ea7a"/>
<rect x="1078.4" y="294.2" width="20.5" height="4.2" fill="#dde08a"/>
<rect x="1098.7" y="294.2" width="54.4" height="4.2" fill="#b5d36a"/>
<rect x="1152.9" y="294.2" width="7.0" height="4.2" fill="#4caf50"/>
<rect x="1159.7" y="294.2" width="7.0" height="4.2" fill="#8bc34a"/>
<rect x="1166.5" y="294.2" width="7.0" height="4.2" fill="#4caf50"/>
<rect x="1173.3" y="294.2" width="7.0" height="4.2" fill="#8bc34a"/>
<rect x="1180.1" y="294.2" width="27.3" height="4.2" fill="#b5d36a"/>
<rect x="1207.2" y="294.2" width="7.0" height="4.2" fill="#dde08a"/>
<rect x="1247.9" y="294.2" width="20.5" height="4.2" fill="#f5b045"/>
<rect x="908.9" y="298.2" width="13.8" height="4.2" fill="#f9e054"/>
<rect x="929.2" y="298.2" width="13.8" height="4.2" fill="#f0902f"/>
<rect x="942.8" y="298.2" width="7.0" height="4.2" fill="#e8582a"/>
<rect x="949.5" y="298.2" width="7.0" height="4.2" fill="#e52330"/>
<rect x="956.3" y="298.2" width="7.0" height="4.2" fill="#e8582a"/>
<rect x="963.1" y="298.2" width="13.8" height="4.2" fill="#f9e054"/>
<rect x="976.7" y="298.2" width="13.8" height="4.2" fill="#f0902f"/>
<rect x="1003.8" y="298.2" width="20.5" height="4.2" fill="#dde08a"/>
<rect x="1024.1" y="298.2" width="27.3" height="4.2" fill="#8bc34a"/>
<rect x="1051.2" y="298.2" width="7.0" height="4.2" fill="#dde08a"/>
<rect x="1058.0" y="298.2" width="7.0" height="4.2" fill="#f9e054"/>
<rect x="1064.8" y="298.2" width="7.0" height="4.2" fill="#f5b045"/>
<rect x="1071.6" y="298.2" width="7.0" height="4.2" fill="#f2ea7a"/>
<rect x="1078.4" y="298.2" width="13.8" height="4.2" fill="#f9e054"/>
<rect x="1091.9" y="298.2" width="27.3" height="4.2" fill="#b5d36a"/>
<rect x="1119.0" y="298.2" width="7.0" height="4.2" fill="#dde08a"/>
<rect x="1125.8" y="298.2" width="88.3" height="4.2" fill="#b5d36a"/>
<rect x="1214.0" y="298.2" width="7.0" height="4.2" fill="#f2ea7a"/>
<rect x="1247.9" y="298.2" width="13.8" height="4.2" fill="#f5b045"/>
<rect x="1261.4" y="298.2" width="7.0" height="4.2" fill="#f0902f"/>
<rect x="908.9" y="302.2" width="13.8" height="4.2" fill="#f9e054"/>
<rect x="929.2" y="302.2" width="34.1" height="4.2" fill="#f0902f"/>
<rect x="963.1" y="302.2" width="13.8" height="4.2" fill="#f9e054"/>
<rect x="976.7" y="302.2" width="13.8" height="4.2" fill="#f0902f"/>
<rect x="1003.8" y="302.2" width="13.8" height="4.2" fill="#f5b045"/>
<rect x="1017.3" y="302.2" width="13.8" height="4.2" fill="#dde08a"/>
<rect x="1030.9" y="302.2" width="27.3" height="4.2" fill="#8bc34a"/>
<rect x="1058.0" y="302.2" width="7.0" height="4.2" fill="#dde08a"/>
<rect x="1064.8" y="302.2" width="27.3" height="4.2" fill="#f9e054"/>
<rect x="1091.9" y="302.2" width="27.3" height="4.2" fill="#b5d36a"/>
<rect x="1119.0" y="302.2" width="7.0" height="4.2" fill="#dde08a"/>
<rect x="1125.8" y="302.2" width="74.8" height="4.2" fill="#b5d36a"/>
<rect x="1200.4" y="302.2" width="13.8" height="4.2" fill="#f9e054"/>
<rect x="1214.0" y="302.2" width="13.8" height="4.2" fill="#f2ea7a"/>
<rect x="1247.9" y="302.2" width="13.8" height="4.2" fill="#f5b045"/>
<rect x="1261.4" y="302.2" width="7.0" height="4.2" fill="#f0902f"/>
<rect x="908.9" y="306.2" width="13.8" height="4.2" fill="#f9e054"/>
<rect x="929.2" y="306.2" width="34.1" height="4.2" fill="#f0902f"/>
<rect x="963.1" y="306.2" width="13.8" height="4.2" fill="#f9e054"/>
<rect x="976.7" y="306.2" width="13.8" height="4.2" fill="#f0902f"/>
<rect x="997.0" y="306.2" width="13.8" height="4.2" fill="#f0902f"/>
<rect x="1017.3" y="306.2" width="7.0" height="4.2" fill="#f9e054"/>
<rect x="1024.1" y="306.2" width="13.8" height="4.2" fill="#dde08a"/>
<rect x="1037.7" y="306.2" width="27.3" height="4.2" fill="#8bc34a"/>
<rect x="1064.8" y="306.2" width="13.8" height="4.2" fill="#dde08a"/>
<rect x="1078.4" y="306.2" width="13.8" height="4.2" fill="#f9e054"/>
<rect x="1091.9" y="306.2" width="20.5" height="4.2" fill="#b5d36a"/>
<rect x="1112.3" y="306.2" width="7.0" height="4.2" fill="#dde08a"/>
<rect x="1119.0" y="306.2" width="27.3" height="4.2" fill="#8bc34a"/>
<rect x="1146.2" y="306.2" width="54.4" height="4.2" fill="#b5d36a"/>
<rect x="1200.4" y="306.2" width="7.0" height="4.2" fill="#f2ea7a"/>
<rect x="1207.2" y="306.2" width="7.0" height="4.2" fill="#f9e054"/>
<rect x="1247.9" y="306.2" width="20.5" height="4.2" fill="#f5b045"/>
<rect x="942.8" y="310.1" width="20.5" height="4.2" fill="#f0902f"/>
<rect x="963.1" y="310.1" width="13.8" height="4.2" fill="#f9e054"/>
<rect x="976.7" y="310.1" width="13.8" height="4.2" fill="#f0902f"/>
<rect x="997.0" y="310.1" width="13.8" height="4.2" fill="#f0902f"/>
<rect x="1017.3" y="310.1" width="13.8" height="4.2" fill="#f9e054"/>
<rect x="1030.9" y="310.1" width="13.8" height="4.2" fill="#dde08a"/>
<rect x="1044.5" y="310.1" width="34.1" height="4.2" fill="#8bc34a"/>
<rect x="1078.4" y="310.1" width="34.1" height="4.2" fill="#b5d36a"/>
<rect x="1112.3" y="310.1" width="7.0" height="4.2" fill="#dde08a"/>
<rect x="1119.0" y="310.1" width="27.3" height="4.2" fill="#8bc34a"/>
<rect x="1146.2" y="310.1" width="54.4" height="4.2" fill="#b5d36a"/>
<rect x="942.8" y="314.1" width="20.5" height="4.2" fill="#f0902f"/>
<rect x="963.1" y="314.1" width="13.8" height="4.2" fill="#f9e054"/>
<rect x="997.0" y="314.1" width="7.0" height="4.2" fill="#f0902f"/>
<rect x="1003.8" y="314.1" width="13.8" height="4.2" fill="#e8582a"/>
<rect x="1017.3" y="314.1" width="20.5" height="4.2" fill="#f9e054"/>
<rect x="1037.7" y="314.1" width="13.8" height="4.2" fill="#dde08a"/>
<rect x="1051.2" y="314.1" width="27.3" height="4.2" fill="#8bc34a"/>
<rect x="1078.4" y="314.1" width="27.3" height="4.2" fill="#b5d36a"/>
<rect x="1105.5" y="314.1" width="40.9" height="4.2" fill="#8bc34a"/>
<rect x="1146.2" y="314.1" width="13.8" height="4.2" fill="#b5d36a"/>
<rect x="1159.7" y="314.1" width="7.0" height="4.2" fill="#dde08a"/>
<rect x="1166.5" y="314.1" width="13.8" height="4.2" fill="#b5d36a"/>
<rect x="1180.1" y="314.1" width="13.8" height="4.2" fill="#8bc34a"/>
<rect x="1193.6" y="314.1" width="7.0" height="4.2" fill="#b5d36a"/>
<rect x="942.8" y="318.1" width="20.5" height="4.2" fill="#f0902f"/>
<rect x="963.1" y="318.1" width="13.8" height="4.2" fill="#f9e054"/>
<rect x="997.0" y="318.1" width="7.0" height="4.2" fill="#f0902f"/>
<rect x="1003.8" y="318.1" width="13.8" height="4.2" fill="#e8582a"/>
<rect x="1017.3" y="318.1" width="13.8" height="4.2" fill="#f9e054"/>
<rect x="1051.2" y="318.1" width="7.0" height="4.2" fill="#dde08a"/>
<rect x="1058.0" y="318.1" width="20.5" height="4.2" fill="#8bc34a"/>
<rect x="1078.4" y="318.1" width="20.5" height="4.2" fill="#b5d36a"/>
<rect x="1098.7" y="318.1" width="47.7" height="4.2" fill="#8bc34a"/>
<rect x="1146.2" y="318.1" width="13.8" height="4.2" fill="#b5d36a"/>
<rect x="1159.7" y="318.1" width="7.0" height="4.2" fill="#dde08a"/>
<rect x="1166.5" y="318.1" width="13.8" height="4.2" fill="#b5d36a"/>
<rect x="1180.1" y="318.1" width="13.8" height="4.2" fill="#8bc34a"/>
<rect x="1193.6" y="318.1" width="7.0" height="4.2" fill="#b5d36a"/>
<rect x="908.9" y="322.0" width="20.5" height="4.2" fill="#f5b045"/>
<rect x="936.0" y="322.0" width="7.0" height="4.2" fill="#f5b045"/>
<rect x="997.0" y="322.0" width="7.0" height="4.2" fill="#f0902f"/>
<rect x="1003.8" y="322.0" width="20.5" height="4.2" fill="#e8582a"/>
<rect x="1024.1" y="322.0" width="7.0" height="4.2" fill="#f9e054"/>
<rect x="1051.2" y="322.0" width="7.0" height="4.2" fill="#f9e054"/>
<rect x="1058.0" y="322.0" width="13.8" height="4.2" fill="#dde08a"/>
<rect x="1071.6" y="322.0" width="81.6" height="4.2" fill="#8bc34a"/>
<rect x="1152.9" y="322.0" width="27.3" height="4.2" fill="#b5d36a"/>
<rect x="1180.1" y="322.0" width="7.0" height="4.2" fill="#dde08a"/>
<rect x="1186.8" y="322.0" width="20.5" height="4.2" fill="#b5d36a"/>
<rect x="908.9" y="326.0" width="20.5" height="4.2" fill="#f5b045"/>
<rect x="936.0" y="326.0" width="7.0" height="4.2" fill="#f5b045"/>
<rect x="997.0" y="326.0" width="7.0" height="4.2" fill="#f0902f"/>
<rect x="1003.8" y="326.0" width="27.3" height="4.2" fill="#e8582a"/>
<rect x="1051.2" y="326.0" width="20.5" height="4.2" fill="#f5b045"/>
<rect x="1071.6" y="326.0" width="7.0" height="4.2" fill="#dde08a"/>
<rect x="1078.4" y="326.0" width="81.6" height="4.2" fill="#8bc34a"/>
<rect x="1159.7" y="326.0" width="20.5" height="4.2" fill="#b5d36a"/>
<rect x="1180.1" y="326.0" width="7.0" height="4.2" fill="#dde08a"/>
<rect x="1186.8" y="326.0" width="7.0" height="4.2" fill="#b5d36a"/>
<rect x="1193.6" y="326.0" width="13.8" height="4.2" fill="#dde08a"/>
<rect x="1207.2" y="326.0" width="7.0" height="4.2" fill="#b5d36a"/>
<rect x="1220.7" y="326.0" width="47.7" height="4.2" fill="#f9e054"/>
<rect x="908.9" y="330.0" width="34.1" height="4.2" fill="#f5b045"/>
<rect x="956.3" y="330.0" width="20.5" height="4.2" fill="#dde08a"/>
<rect x="990.2" y="330.0" width="13.8" height="4.2" fill="#f0902f"/>
<rect x="1003.8" y="330.0" width="34.1" height="4.2" fill="#e8582a"/>
<rect x="1037.7" y="330.0" width="7.0" height="4.2" fill="#f9e054"/>
<rect x="1044.5" y="330.0" width="27.3" height="4.2" fill="#f5b045"/>
<rect x="1071.6" y="330.0" width="7.0" height="4.2" fill="#f9e054"/>
<rect x="1078.4" y="330.0" width="88.3" height="4.2" fill="#8bc34a"/>
<rect x="1166.5" y="330.0" width="20.5" height="4.2" fill="#b5d36a"/>
<rect x="1186.8" y="330.0" width="20.5" height="4.2" fill="#dde08a"/>
<rect x="1207.2" y="330.0" width="7.0" height="4.2" fill="#b5d36a"/>
<rect x="1220.7" y="330.0" width="47.7" height="4.2" fill="#f9e054"/>
<rect x="895.3" y="334.0" width="47.7" height="4.2" fill="#f5b045"/>
<rect x="949.5" y="334.0" width="7.0" height="4.2" fill="#dde08a"/>
<rect x="956.3" y="334.0" width="13.8" height="4.2" fill="#b5d36a"/>
<rect x="969.9" y="334.0" width="20.5" height="4.2" fill="#f2ea7a"/>
<rect x="990.2" y="334.0" width="13.8" height="4.2" fill="#f0902f"/>
<rect x="1003.8" y="334.0" width="40.9" height="4.2" fill="#e8582a"/>
<rect x="1044.5" y="334.0" width="34.1" height="4.2" fill="#f9e054"/>
<rect x="1078.4" y="334.0" width="88.3" height="4.2" fill="#8bc34a"/>
<rect x="1166.5" y="334.0" width="7.0" height="4.2" fill="#b5d36a"/>
<rect x="1173.3" y="334.0" width="34.1" height="4.2" fill="#dde08a"/>
<rect x="1207.2" y="334.0" width="7.0" height="4.2" fill="#b5d36a"/>
<rect x="1214.0" y="334.0" width="7.0" height="4.2" fill="#f2ea7a"/>
<rect x="1220.7" y="334.0" width="47.7" height="4.2" fill="#f9e054"/>
<rect x="895.3" y="337.9" width="13.8" height="4.2" fill="#f5b045"/>
<rect x="915.6" y="337.9" width="7.0" height="4.2" fill="#f5b045"/>
<rect x="929.2" y="337.9" width="13.8" height="4.2" fill="#f5b045"/>
<rect x="949.5" y="337.9" width="7.0" height="4.2" fill="#dde08a"/>
<rect x="956.3" y="337.9" width="7.0" height="4.2" fill="#b5d36a"/>
<rect x="963.1" y="337.9" width="7.0" height="4.2" fill="#dde08a"/>
<rect x="969.9" y="337.9" width="20.5" height="4.2" fill="#f2ea7a"/>
<rect x="990.2" y="337.9" width="13.8" height="4.2" fill="#f0902f"/>
<rect x="1003.8" y="337.9" width="47.7" height="4.2" fill="#e8582a"/>
<rect x="1051.2" y="337.9" width="20.5" height="4.2" fill="#f9e054"/>
<rect x="1071.6" y="337.9" width="7.0" height="4.2" fill="#f2ea7a"/>
<rect x="1078.4" y="337.9" width="20.5" height="4.2" fill="#b5d36a"/>
<rect x="1098.7" y="337.9" width="34.1" height="4.2" fill="#8bc34a"/>
<rect x="1132.6" y="337.9" width="7.0" height="4.2" fill="#b5d36a"/>
<rect x="1139.4" y="337.9" width="7.0" height="4.2" fill="#8bc34a"/>
<rect x="1146.2" y="337.9" width="7.0" height="4.2" fill="#b5d36a"/>
<rect x="1152.9" y="337.9" width="20.5" height="4.2" fill="#8bc34a"/>
<rect x="1173.3" y="337.9" width="20.5" height="4.2" fill="#dde08a"/>
<rect x="1193.6" y="337.9" width="20.5" height="4.2" fill="#b5d36a"/>
<rect x="1214.0" y="337.9" width="7.0" height="4.2" fill="#f2ea7a"/>
<rect x="1220.7" y="337.9" width="47.7" height="4.2" fill="#f9e054"/>
<rect x="895.3" y="341.9" width="13.8" height="4.2" fill="#f5b045"/>
<rect x="915.6" y="341.9" width="7.0" height="4.2" fill="#f5b045"/>
<rect x="929.2" y="341.9" width="13.8" height="4.2" fill="#f5b045"/>
<rect x="942.8" y="341.9" width="27.3" height="4.2" fill="#dde08a"/>
<rect x="969.9" y="341.9" width="20.5" height="4.2" fill="#f2ea7a"/>
<rect x="990.2" y="341.9" width="7.0" height="4.2" fill="#dde08a"/>
<rect x="997.0" y="341.9" width="7.0" height="4.2" fill="#f0902f"/>
<rect x="1003.8" y="341.9" width="7.0" height="4.2" fill="#ffffff"/>
<rect x="1010.6" y="341.9" width="27.3" height="4.2" fill="#e52330"/>
<rect x="1037.7" y="341.9" width="20.5" height="4.2" fill="#e8582a"/>
<rect x="1064.8" y="341.9" width="7.0" height="4.2" fill="#f9e054"/>
<rect x="1071.6" y="341.9" width="7.0" height="4.2" fill="#f2ea7a"/>
<rect x="1078.4" y="341.9" width="20.5" height="4.2" fill="#b5d36a"/>
<rect x="1098.7" y="341.9" width="34.1" height="4.2" fill="#8bc34a"/>
<rect x="1132.6" y="341.9" width="7.0" height="4.2" fill="#b5d36a"/>
<rect x="1139.4" y="341.9" width="7.0" height="4.2" fill="#8bc34a"/>
<rect x="1146.2" y="341.9" width="7.0" height="4.2" fill="#b5d36a"/>
<rect x="1152.9" y="341.9" width="20.5" height="4.2" fill="#8bc34a"/>
<rect x="1173.3" y="341.9" width="20.5" height="4.2" fill="#dde08a"/>
<rect x="1193.6" y="341.9" width="20.5" height="4.2" fill="#b5d36a"/>
<rect x="1214.0" y="341.9" width="7.0" height="4.2" fill="#f2ea7a"/>
<rect x="1220.7" y="341.9" width="47.7" height="4.2" fill="#f9e054"/>
<rect x="895.3" y="345.9" width="20.5" height="4.2" fill="#f5b045"/>
<rect x="922.4" y="345.9" width="20.5" height="4.2" fill="#f5b045"/>
<rect x="942.8" y="345.9" width="27.3" height="4.2" fill="#dde08a"/>
<rect x="969.9" y="345.9" width="20.5" height="4.2" fill="#f2ea7a"/>
<rect x="990.2" y="345.9" width="13.8" height="4.2" fill="#dde08a"/>
<rect x="1003.8" y="345.9" width="61.2" height="4.2" fill="#e8582a"/>
<rect x="1064.8" y="345.9" width="13.8" height="4.2" fill="#f9e054"/>
<rect x="1078.4" y="345.9" width="20.5" height="4.2" fill="#b5d36a"/>
<rect x="1098.7" y="345.9" width="20.5" height="4.2" fill="#8bc34a"/>
<rect x="1119.0" y="345.9" width="7.0" height="4.2" fill="#4caf50"/>
<rect x="1125.8" y="345.9" width="7.0" height="4.2" fill="#8bc34a"/>
<rect x="1132.6" y="345.9" width="7.0" height="4.2" fill="#b5d36a"/>
<rect x="1139.4" y="345.9" width="7.0" height="4.2" fill="#8bc34a"/>
<rect x="1146.2" y="345.9" width="7.0" height="4.2" fill="#b5d36a"/>
<rect x="1152.9" y="345.9" width="13.8" height="4.2" fill="#8bc34a"/>
<rect x="1166.5" y="345.9" width="7.0" height="4.2" fill="#b5d36a"/>
<rect x="1173.3" y="345.9" width="20.5" height="4.2" fill="#dde08a"/>
<rect x="1193.6" y="345.9" width="13.8" height="4.2" fill="#b5d36a"/>
<rect x="1207.2" y="345.9" width="7.0" height="4.2" fill="#8bc34a"/>
<rect x="1214.0" y="345.9" width="7.0" height="4.2" fill="#f2ea7a"/>
<rect x="1220.7" y="345.9" width="47.7" height="4.2" fill="#f9e054"/>
<rect x="942.8" y="349.8" width="7.0" height="4.2" fill="#f2ea7a"/>
<rect x="949.5" y="349.8" width="20.5" height="4.2" fill="#dde08a"/>
<rect x="969.9" y="349.8" width="7.0" height="4.2" fill="#f2ea7a"/>
<rect x="976.7" y="349.8" width="7.0" height="4.2" fill="#8bc34a"/>
<rect x="983.4" y="349.8" width="27.3" height="4.2" fill="#f9e054"/>
<rect x="1017.3" y="349.8" width="61.2" height="4.2" fill="#e8582a"/>
<rect x="1078.4" y="349.8" width="13.8" height="4.2" fill="#f9e054"/>
<rect x="1091.9" y="349.8" width="7.0" height="4.2" fill="#b5d36a"/>
<rect x="1098.7" y="349.8" width="7.0" height="4.2" fill="#8bc34a"/>
<rect x="1105.5" y="349.8" width="40.9" height="4.2" fill="#b5d36a"/>
<rect x="1146.2" y="349.8" width="7.0" height="4.2" fill="#dde08a"/>
<rect x="1152.9" y="349.8" width="27.3" height="4.2" fill="#8bc34a"/>
<rect x="1180.1" y="349.8" width="27.3" height="4.2" fill="#f2ea7a"/>
<rect x="1207.2" y="349.8" width="7.0" height="4.2" fill="#dde08a"/>
<rect x="1227.5" y="349.8" width="40.9" height="4.2" fill="#f9e054"/>
<rect x="942.8" y="353.8" width="7.0" height="4.2" fill="#f2ea7a"/>
<rect x="949.5" y="353.8" width="20.5" height="4.2" fill="#dde08a"/>
<rect x="969.9" y="353.8" width="7.0" height="4.2" fill="#f2ea7a"/>
<rect x="976.7" y="353.8" width="7.0" height="4.2" fill="#8bc34a"/>
<rect x="983.4" y="353.8" width="34.1" height="4.2" fill="#f9e054"/>
<rect x="1017.3" y="353.8" width="7.0" height="4.2" fill="#f0902f"/>
<rect x="1024.1" y="353.8" width="54.4" height="4.2" fill="#e8582a"/>
<rect x="1078.4" y="353.8" width="7.0" height="4.2" fill="#f9e054"/>
<rect x="1091.9" y="353.8" width="7.0" height="4.2" fill="#f9e054"/>
<rect x="1098.7" y="353.8" width="47.7" height="4.2" fill="#b5d36a"/>
<rect x="1146.2" y="353.8" width="7.0" height="4.2" fill="#dde08a"/>
<rect x="1152.9" y="353.8" width="7.0" height="4.2" fill="#8bc34a"/>
<rect x="1159.7" y="353.8" width="7.0" height="4.2" fill="#b5d36a"/>
<rect x="1166.5" y="353.8" width="13.8" height="4.2" fill="#8bc34a"/>
<rect x="1180.1" y="353.8" width="27.3" height="4.2" fill="#f2ea7a"/>
<rect x="1207.2" y="353.8" width="7.0" height="4.2" fill="#dde08a"/>
<rect x="1227.5" y="353.8" width="40.9" height="4.2" fill="#f9e054"/>
<rect x="942.8" y="357.8" width="7.0" height="4.2" fill="#f2ea7a"/>
<rect x="949.5" y="357.8" width="20.5" height="4.2" fill="#dde08a"/>
<rect x="969.9" y="357.8" width="7.0" height="4.2" fill="#f2ea7a"/>
<rect x="976.7" y="357.8" width="7.0" height="4.2" fill="#8bc34a"/>
<rect x="983.4" y="357.8" width="40.9" height="4.2" fill="#f9e054"/>
<rect x="1024.1" y="357.8" width="54.4" height="4.2" fill="#e8582a"/>
<rect x="1078.4" y="357.8" width="7.0" height="4.2" fill="#f5b045"/>
<rect x="1091.9" y="357.8" width="13.8" height="4.2" fill="#f9e054"/>
<rect x="1105.5" y="357.8" width="47.7" height="4.2" fill="#dde08a"/>
<rect x="1152.9" y="357.8" width="7.0" height="4.2" fill="#8bc34a"/>
<rect x="1159.7" y="357.8" width="7.0" height="4.2" fill="#b5d36a"/>
<rect x="1166.5" y="357.8" width="13.8" height="4.2" fill="#8bc34a"/>
<rect x="1180.1" y="357.8" width="27.3" height="4.2" fill="#f2ea7a"/>
<rect x="1207.2" y="357.8" width="7.0" height="4.2" fill="#dde08a"/>
<rect x="1227.5" y="357.8" width="40.9" height="4.2" fill="#f9e054"/>
<rect x="942.8" y="361.7" width="34.1" height="4.2" fill="#f2ea7a"/>
<rect x="976.7" y="361.7" width="27.3" height="4.2" fill="#8bc34a"/>
<rect x="1003.8" y="361.7" width="20.5" height="4.2" fill="#f9e054"/>
<rect x="1030.9" y="361.7" width="47.7" height="4.2" fill="#e8582a"/>
<rect x="1078.4" y="361.7" width="13.8" height="4.2" fill="#f0902f"/>
<rect x="1091.9" y="361.7" width="27.3" height="4.2" fill="#f9e054"/>
<rect x="1119.0" y="361.7" width="34.1" height="4.2" fill="#dde08a"/>
<rect x="1152.9" y="361.7" width="34.1" height="4.2" fill="#8bc34a"/>
<rect x="1186.8" y="361.7" width="27.3" height="4.2" fill="#dde08a"/>
<rect x="1227.5" y="361.7" width="40.9" height="4.2" fill="#f9e054"/>
<rect x="942.8" y="365.7" width="34.1" height="4.2" fill="#f2ea7a"/>
<rect x="976.7" y="365.7" width="27.3" height="4.2" fill="#8bc34a"/>
<rect x="1003.8" y="365.7" width="27.3" height="4.2" fill="#f9e054"/>
<rect x="1030.9" y="365.7" width="7.0" height="4.2" fill="#f0902f"/>
<rect x="1037.7" y="365.7" width="34.1" height="4.2" fill="#e8582a"/>
<rect x="1071.6" y="365.7" width="20.5" height="4.2" fill="#f0902f"/>
<rect x="1091.9" y="365.7" width="40.9" height="4.2" fill="#f9e054"/>
<rect x="1132.6" y="365.7" width="27.3" height="4.2" fill="#dde08a"/>
<rect x="1159.7" y="365.7" width="27.3" height="4.2" fill="#8bc34a"/>
<rect x="1186.8" y="365.7" width="27.3" height="4.2" fill="#dde08a"/>
<rect x="1227.5" y="365.7" width="40.9" height="4.2" fill="#f9e054"/>
<rect x="942.8" y="369.7" width="7.0" height="4.2" fill="#f9e054"/>
<rect x="949.5" y="369.7" width="27.3" height="4.2" fill="#f2ea7a"/>
<rect x="976.7" y="369.7" width="13.8" height="4.2" fill="#f9e054"/>
<rect x="990.2" y="369.7" width="20.5" height="4.2" fill="#8bc34a"/>
<rect x="1010.6" y="369.7" width="27.3" height="4.2" fill="#f9e054"/>
<rect x="1037.7" y="369.7" width="34.1" height="4.2" fill="#e8582a"/>
<rect x="1071.6" y="369.7" width="40.9" height="4.2" fill="#f0902f"/>
<rect x="1112.3" y="369.7" width="27.3" height="4.2" fill="#f9e054"/>
<rect x="1139.4" y="369.7" width="20.5" height="4.2" fill="#dde08a"/>
<rect x="1159.7" y="369.7" width="27.3" height="4.2" fill="#8bc34a"/>
<rect x="1186.8" y="369.7" width="27.3" height="4.2" fill="#dde08a"/>
<rect x="1227.5" y="369.7" width="7.0" height="4.2" fill="#f9e054"/>
<rect x="1241.1" y="369.7" width="27.3" height="4.2" fill="#f9e054"/>
<rect x="895.3" y="373.7" width="7.0" height="4.2" fill="#f5b045"/>
<rect x="929.2" y="373.7" width="13.8" height="4.2" fill="#f5b045"/>
<rect x="942.8" y="373.7" width="47.7" height="4.2" fill="#f9e054"/>
<rect x="990.2" y="373.7" width="20.5" height="4.2" fill="#8bc34a"/>
<rect x="1010.6" y="373.7" width="27.3" height="4.2" fill="#f9e054"/>
<rect x="1037.7" y="373.7" width="13.8" height="4.2" fill="#f5b045"/>
<rect x="1051.2" y="373.7" width="27.3" height="4.2" fill="#f0902f"/>
<rect x="1098.7" y="373.7" width="13.8" height="4.2" fill="#f0902f"/>
<rect x="1112.3" y="373.7" width="7.0" height="4.2" fill="#f5b045"/>
<rect x="1119.0" y="373.7" width="20.5" height="4.2" fill="#f9e054"/>
<rect x="1139.4" y="373.7" width="20.5" height="4.2" fill="#dde08a"/>
<rect x="1159.7" y="373.7" width="27.3" height="4.2" fill="#8bc34a"/>
<rect x="1186.8" y="373.7" width="20.5" height="4.2" fill="#dde08a"/>
<rect x="1207.2" y="373.7" width="7.0" height="4.2" fill="#f9e054"/>
<rect x="895.3" y="377.6" width="7.0" height="4.2" fill="#f5b045"/>
<rect x="929.2" y="377.6" width="13.8" height="4.2" fill="#f5b045"/>
<rect x="942.8" y="377.6" width="47.7" height="4.2" fill="#f9e054"/>
<rect x="990.2" y="377.6" width="7.0" height="4.2" fill="#b5d36a"/>
<rect x="997.0" y="377.6" width="20.5" height="4.2" fill="#8bc34a"/>
<rect x="1017.3" y="377.6" width="13.8" height="4.2" fill="#f9e054"/>
<rect x="1037.7" y="377.6" width="27.3" height="4.2" fill="#f5b045"/>
<rect x="1064.8" y="377.6" width="13.8" height="4.2" fill="#f9e054"/>
<rect x="1098.7" y="377.6" width="7.0" height="4.2" fill="#f0902f"/>
<rect x="1105.5" y="377.6" width="7.0" height="4.2" fill="#f5b045"/>
<rect x="1112.3" y="377.6" width="7.0" height="4.2" fill="#f0902f"/>
<rect x="1119.0" y="377.6" width="7.0" height="4.2" fill="#f9e054"/>
<rect x="1125.8" y="377.6" width="7.0" height="4.2" fill="#f2ea7a"/>
<rect x="1132.6" y="377.6" width="13.8" height="4.2" fill="#f9e054"/>
<rect x="1146.2" y="377.6" width="13.8" height="4.2" fill="#dde08a"/>
<rect x="1159.7" y="377.6" width="20.5" height="4.2" fill="#8bc34a"/>
<rect x="1180.1" y="377.6" width="7.0" height="4.2" fill="#dde08a"/>
<rect x="1186.8" y="377.6" width="7.0" height="4.2" fill="#f2ea7a"/>
<rect x="1193.6" y="377.6" width="7.0" height="4.2" fill="#f9e054"/>
<rect x="1200.4" y="377.6" width="13.8" height="4.2" fill="#f2ea7a"/>
<rect x="895.3" y="381.6" width="7.0" height="4.2" fill="#f5b045"/>
<rect x="929.2" y="381.6" width="13.8" height="4.2" fill="#f5b045"/>
<rect x="942.8" y="381.6" width="40.9" height="4.2" fill="#f9e054"/>
<rect x="990.2" y="381.6" width="7.0" height="4.2" fill="#b5d36a"/>
<rect x="997.0" y="381.6" width="27.3" height="4.2" fill="#8bc34a"/>
<rect x="1024.1" y="381.6" width="40.9" height="4.2" fill="#f5b045"/>
<rect x="1064.8" y="381.6" width="13.8" height="4.2" fill="#f9e054"/>
<rect x="1098.7" y="381.6" width="7.0" height="4.2" fill="#f0902f"/>
<rect x="1105.5" y="381.6" width="7.0" height="4.2" fill="#f5b045"/>
<rect x="1112.3" y="381.6" width="7.0" height="4.2" fill="#f0902f"/>
<rect x="1119.0" y="381.6" width="7.0" height="4.2" fill="#f5b045"/>
<rect x="1125.8" y="381.6" width="7.0" height="4.2" fill="#f2ea7a"/>
<rect x="1132.6" y="381.6" width="20.5" height="4.2" fill="#f9e054"/>
<rect x="1152.9" y="381.6" width="27.3" height="4.2" fill="#dde08a"/>
<rect x="1180.1" y="381.6" width="7.0" height="4.2" fill="#f9e054"/>
<rect x="1186.8" y="381.6" width="7.0" height="4.2" fill="#f2ea7a"/>
<rect x="1193.6" y="381.6" width="7.0" height="4.2" fill="#f9e054"/>
<rect x="1200.4" y="381.6" width="13.8" height="4.2" fill="#f2ea7a"/>
<rect x="895.3" y="385.6" width="47.7" height="4.2" fill="#f5b045"/>
<rect x="942.8" y="385.6" width="40.9" height="4.2" fill="#f9e054"/>
<rect x="990.2" y="385.6" width="20.5" height="4.2" fill="#dde08a"/>
<rect x="1010.6" y="385.6" width="13.8" height="4.2" fill="#8bc34a"/>
<rect x="1024.1" y="385.6" width="13.8" height="4.2" fill="#f5b045"/>
<rect x="1037.7" y="385.6" width="40.9" height="4.2" fill="#f9e054"/>
<rect x="1098.7" y="385.6" width="27.3" height="4.2" fill="#f0902f"/>
<rect x="1125.8" y="385.6" width="61.2" height="4.2" fill="#f5b045"/>
<rect x="1186.8" y="385.6" width="27.3" height="4.2" fill="#f2ea7a"/>
<rect x="1214.0" y="385.6" width="7.0" height="4.2" fill="#dde08a"/>
<rect x="1220.7" y="385.6" width="47.7" height="4.2" fill="#f9e054"/>
<rect x="895.3" y="389.5" width="47.7" height="4.2" fill="#f5b045"/>
<rect x="942.8" y="389.5" width="34.1" height="4.2" fill="#f9e054"/>
<rect x="990.2" y="389.5" width="20.5" height="4.2" fill="#dde08a"/>
<rect x="1010.6" y="389.5" width="13.8" height="4.2" fill="#8bc34a"/>
<rect x="1024.1" y="389.5" width="13.8" height="4.2" fill="#f5b045"/>
<rect x="1037.7" y="389.5" width="40.9" height="4.2" fill="#f9e054"/>
<rect x="1098.7" y="389.5" width="27.3" height="4.2" fill="#f0902f"/>
<rect x="1125.8" y="389.5" width="61.2" height="4.2" fill="#f5b045"/>
<rect x="1186.8" y="389.5" width="27.3" height="4.2" fill="#f2ea7a"/>
<rect x="1214.0" y="389.5" width="7.0" height="4.2" fill="#dde08a"/>
<rect x="1220.7" y="389.5" width="34.1" height="4.2" fill="#f9e054"/>
<rect x="895.3" y="393.5" width="61.2" height="4.2" fill="#f5b045"/>
<rect x="956.3" y="393.5" width="20.5" height="4.2" fill="#f9e054"/>
<rect x="990.2" y="393.5" width="13.8" height="4.2" fill="#dde08a"/>
<rect x="1003.8" y="393.5" width="7.0" height="4.2" fill="#b5d36a"/>
<rect x="1010.6" y="393.5" width="7.0" height="4.2" fill="#8bc34a"/>
<rect x="1017.3" y="393.5" width="7.0" height="4.2" fill="#4caf50"/>
<rect x="1024.1" y="393.5" width="13.8" height="4.2" fill="#f0902f"/>
<rect x="1037.7" y="393.5" width="47.7" height="4.2" fill="#f9e054"/>
<rect x="1098.7" y="393.5" width="7.0" height="4.2" fill="#f5b045"/>
<rect x="1105.5" y="393.5" width="20.5" height="4.2" fill="#f0902f"/>
<rect x="1125.8" y="393.5" width="47.7" height="4.2" fill="#f5b045"/>
<rect x="1180.1" y="393.5" width="7.0" height="4.2" fill="#f5b045"/>
<rect x="1186.8" y="393.5" width="34.1" height="4.2" fill="#f2ea7a"/>
<rect x="1220.7" y="393.5" width="7.0" height="4.2" fill="#f9e054"/>
<rect x="895.3" y="397.5" width="61.2" height="4.2" fill="#f5b045"/>
<rect x="956.3" y="397.5" width="20.5" height="4.2" fill="#f9e054"/>
<rect x="990.2" y="397.5" width="13.8" height="4.2" fill="#dde08a"/>
<rect x="1003.8" y="397.5" width="7.0" height="4.2" fill="#b5d36a"/>
<rect x="1010.6" y="397.5" width="7.0" height="4.2" fill="#8bc34a"/>
<rect x="1017.3" y="397.5" width="7.0" height="4.2" fill="#4caf50"/>
<rect x="1024.1" y="397.5" width="13.8" height="4.2" fill="#f0902f"/>
<rect x="1037.7" y="397.5" width="40.9" height="4.2" fill="#f2ea7a"/>
<rect x="1078.4" y="397.5" width="7.0" height="4.2" fill="#f9e054"/>
<rect x="1098.7" y="397.5" width="7.0" height="4.2" fill="#f5b045"/>
<rect x="1105.5" y="397.5" width="20.5" height="4.2" fill="#f0902f"/>
<rect x="1125.8" y="397.5" width="47.7" height="4.2" fill="#f5b045"/>
<rect x="1180.1" y="397.5" width="7.0" height="4.2" fill="#f5b045"/>
<rect x="1186.8" y="397.5" width="34.1" height="4.2" fill="#f2ea7a"/>
<rect x="1220.7" y="397.5" width="7.0" height="4.2" fill="#f9e054"/>
<rect x="895.3" y="401.4" width="7.0" height="4.2" fill="#f0902f"/>
<rect x="902.1" y="401.4" width="34.1" height="4.2" fill="#f5b045"/>
<rect x="942.8" y="401.4" width="47.7" height="4.2" fill="#f5b045"/>
<rect x="990.2" y="401.4" width="20.5" height="4.2" fill="#f2ea7a"/>
<rect x="1010.6" y="401.4" width="7.0" height="4.2" fill="#dde08a"/>
<rect x="1017.3" y="401.4" width="7.0" height="4.2" fill="#f9e054"/>
<rect x="1024.1" y="401.4" width="13.8" height="4.2" fill="#f0902f"/>
<rect x="1037.7" y="401.4" width="40.9" height="4.2" fill="#f2ea7a"/>
<rect x="1139.4" y="401.4" width="27.3" height="4.2" fill="#f5b045"/>
<rect x="1166.5" y="401.4" width="13.8" height="4.2" fill="#f0902f"/>
<rect x="1180.1" y="401.4" width="7.0" height="4.2" fill="#f5b045"/>
<rect x="1186.8" y="401.4" width="34.1" height="4.2" fill="#f2ea7a"/>
<rect x="1220.7" y="401.4" width="7.0" height="4.2" fill="#f9e054"/>
<rect x="895.3" y="405.4" width="7.0" height="4.2" fill="#f0902f"/>
<rect x="902.1" y="405.4" width="34.1" height="4.2" fill="#f5b045"/>
<rect x="942.8" y="405.4" width="47.7" height="4.2" fill="#f5b045"/>
<rect x="990.2" y="405.4" width="20.5" height="4.2" fill="#f2ea7a"/>
<rect x="1010.6" y="405.4" width="7.0" height="4.2" fill="#dde08a"/>
<rect x="1017.3" y="405.4" width="7.0" height="4.2" fill="#f9e054"/>
<rect x="1024.1" y="405.4" width="7.0" height="4.2" fill="#f0902f"/>
<rect x="1030.9" y="405.4" width="47.7" height="4.2" fill="#f2ea7a"/>
<rect x="1139.4" y="405.4" width="27.3" height="4.2" fill="#f5b045"/>
<rect x="1166.5" y="405.4" width="13.8" height="4.2" fill="#f0902f"/>
<rect x="1180.1" y="405.4" width="7.0" height="4.2" fill="#f5b045"/>
<rect x="1186.8" y="405.4" width="34.1" height="4.2" fill="#f2ea7a"/>
<rect x="1220.7" y="405.4" width="7.0" height="4.2" fill="#f9e054"/>
<rect x="1234.3" y="405.4" width="7.0" height="4.2" fill="#f0902f"/>
<rect x="1247.9" y="405.4" width="20.5" height="4.2" fill="#f5b045"/>
<rect x="895.3" y="409.4" width="61.2" height="4.2" fill="#f5b045"/>
<rect x="956.3" y="409.4" width="13.8" height="4.2" fill="#f0902f"/>
<rect x="969.9" y="409.4" width="20.5" height="4.2" fill="#f5b045"/>
<rect x="990.2" y="409.4" width="13.8" height="4.2" fill="#f9e054"/>
<rect x="1003.8" y="409.4" width="7.0" height="4.2" fill="#f2ea7a"/>
<rect x="1010.6" y="409.4" width="7.0" height="4.2" fill="#f9e054"/>
<rect x="1017.3" y="409.4" width="47.7" height="4.2" fill="#dde08a"/>
<rect x="1064.8" y="409.4" width="13.8" height="4.2" fill="#f2ea7a"/>
<rect x="1139.4" y="409.4" width="27.3" height="4.2" fill="#f5b045"/>
<rect x="1166.5" y="409.4" width="13.8" height="4.2" fill="#f0902f"/>
<rect x="1180.1" y="409.4" width="7.0" height="4.2" fill="#f5b045"/>
<rect x="1186.8" y="409.4" width="34.1" height="4.2" fill="#f2ea7a"/>
<rect x="1220.7" y="409.4" width="13.8" height="4.2" fill="#f9e054"/>
<rect x="1234.3" y="409.4" width="7.0" height="4.2" fill="#e8582a"/>
<rect x="1241.1" y="409.4" width="7.0" height="4.2" fill="#f9e054"/>
<rect x="1247.9" y="409.4" width="7.0" height="4.2" fill="#f5b045"/>
<rect x="1261.4" y="409.4" width="7.0" height="4.2" fill="#f5b045"/>
<rect x="895.3" y="413.4" width="61.2" height="4.2" fill="#f5b045"/>
<rect x="956.3" y="413.4" width="13.8" height="4.2" fill="#f0902f"/>
<rect x="969.9" y="413.4" width="20.5" height="4.2" fill="#f5b045"/>
<rect x="990.2" y="413.4" width="13.8" height="4.2" fill="#f9e054"/>
<rect x="1003.8" y="413.4" width="7.0" height="4.2" fill="#f2ea7a"/>
<rect x="1010.6" y="413.4" width="7.0" height="4.2" fill="#f9e054"/>
<rect x="1017.3" y="413.4" width="47.7" height="4.2" fill="#dde08a"/>
<rect x="1064.8" y="413.4" width="13.8" height="4.2" fill="#f2ea7a"/>
<rect x="1078.4" y="413.4" width="40.9" height="4.2" fill="#f9e054"/>
<rect x="1119.0" y="413.4" width="34.1" height="4.2" fill="#f5b045"/>
<rect x="1152.9" y="413.4" width="7.0" height="4.2" fill="#f9e054"/>
<rect x="1186.8" y="413.4" width="20.5" height="4.2" fill="#f5b045"/>
<rect x="1207.2" y="413.4" width="13.8" height="4.2" fill="#f2ea7a"/>
<rect x="1220.7" y="413.4" width="13.8" height="4.2" fill="#f9e054"/>
<rect x="1234.3" y="413.4" width="7.0" height="4.2" fill="#e8582a"/>
<rect x="1241.1" y="413.4" width="7.0" height="4.2" fill="#e52330"/>
<rect x="1247.9" y="413.4" width="7.0" height="4.2" fill="#f5b045"/>
<rect x="1261.4" y="413.4" width="7.0" height="4.2" fill="#f5b045"/>
<rect x="895.3" y="417.3" width="68.0" height="4.2" fill="#f5b045"/>
<rect x="963.1" y="417.3" width="7.0" height="4.2" fill="#f0902f"/>
<rect x="969.9" y="417.3" width="20.5" height="4.2" fill="#f5b045"/>
<rect x="990.2" y="417.3" width="13.8" height="4.2" fill="#f9e054"/>
<rect x="1003.8" y="417.3" width="13.8" height="4.2" fill="#f2ea7a"/>
<rect x="1017.3" y="417.3" width="54.4" height="4.2" fill="#dde08a"/>
<rect x="1071.6" y="417.3" width="7.0" height="4.2" fill="#f2ea7a"/>
<rect x="1078.4" y="417.3" width="47.7" height="4.2" fill="#f9e054"/>
<rect x="1125.8" y="417.3" width="27.3" height="4.2" fill="#f5b045"/>
<rect x="1152.9" y="417.3" width="7.0" height="4.2" fill="#f9e054"/>
<rect x="1166.5" y="417.3" width="7.0" height="4.2" fill="#f9e054"/>
<rect x="1186.8" y="417.3" width="7.0" height="4.2" fill="#f5b045"/>
<rect x="1200.4" y="417.3" width="7.0" height="4.2" fill="#f5b045"/>
<rect x="1207.2" y="417.3" width="13.8" height="4.2" fill="#f2ea7a"/>
<rect x="1220.7" y="417.3" width="13.8" height="4.2" fill="#f9e054"/>
<rect x="1234.3" y="417.3" width="7.0" height="4.2" fill="#e8582a"/>
<rect x="1241.1" y="417.3" width="7.0" height="4.2" fill="#e52330"/>
<rect x="1247.9" y="417.3" width="20.5" height="4.2" fill="#f5b045"/>
<rect x="895.3" y="421.3" width="68.0" height="4.2" fill="#f5b045"/>
<rect x="963.1" y="421.3" width="7.0" height="4.2" fill="#f0902f"/>
<rect x="969.9" y="421.3" width="20.5" height="4.2" fill="#f5b045"/>
<rect x="990.2" y="421.3" width="13.8" height="4.2" fill="#f9e054"/>
<rect x="1003.8" y="421.3" width="13.8" height="4.2" fill="#f2ea7a"/>
<rect x="1017.3" y="421.3" width="54.4" height="4.2" fill="#dde08a"/>
<rect x="1071.6" y="421.3" width="7.0" height="4.2" fill="#f2ea7a"/>
<rect x="1078.4" y="421.3" width="81.6" height="4.2" fill="#f9e054"/>
<rect x="1166.5" y="421.3" width="7.0" height="4.2" fill="#f9e054"/>
<rect x="1186.8" y="421.3" width="7.0" height="4.2" fill="#f5b045"/>
<rect x="1200.4" y="421.3" width="7.0" height="4.2" fill="#f5b045"/>
<rect x="1207.2" y="421.3" width="13.8" height="4.2" fill="#f2ea7a"/>
<rect x="1220.7" y="421.3" width="13.8" height="4.2" fill="#f9e054"/>
<rect x="1234.3" y="421.3" width="7.0" height="4.2" fill="#e8582a"/>
<rect x="1241.1" y="421.3" width="7.0" height="4.2" fill="#f9e054"/>
<rect x="1247.9" y="421.3" width="20.5" height="4.2" fill="#f5b045"/>
<rect x="895.3" y="425.3" width="61.2" height="4.2" fill="#f5b045"/>
<rect x="956.3" y="425.3" width="13.8" height="4.2" fill="#f0902f"/>
<rect x="969.9" y="425.3" width="20.5" height="4.2" fill="#f5b045"/>
<rect x="990.2" y="425.3" width="13.8" height="4.2" fill="#f9e054"/>
<rect x="1003.8" y="425.3" width="13.8" height="4.2" fill="#f2ea7a"/>
<rect x="1017.3" y="425.3" width="13.8" height="4.2" fill="#dde08a"/>
<rect x="1030.9" y="425.3" width="7.0" height="4.2" fill="#f2ea7a"/>
<rect x="1037.7" y="425.3" width="27.3" height="4.2" fill="#dde08a"/>
<rect x="1064.8" y="425.3" width="13.8" height="4.2" fill="#f2ea7a"/>
<rect x="1078.4" y="425.3" width="7.0" height="4.2" fill="#dde08a"/>
<rect x="1085.1" y="425.3" width="34.1" height="4.2" fill="#f2ea7a"/>
<rect x="1119.0" y="425.3" width="40.9" height="4.2" fill="#f9e054"/>
<rect x="1159.7" y="425.3" width="7.0" height="4.2" fill="#f5b045"/>
<rect x="1173.3" y="425.3" width="7.0" height="4.2" fill="#f5b045"/>
<rect x="1186.8" y="425.3" width="20.5" height="4.2" fill="#f5b045"/>
<rect x="1207.2" y="425.3" width="7.0" height="4.2" fill="#f2ea7a"/>
<rect x="1214.0" y="425.3" width="20.5" height="4.2" fill="#f9e054"/>
<rect x="1234.3" y="425.3" width="7.0" height="4.2" fill="#e8582a"/>
<rect x="1241.1" y="425.3" width="7.0" height="4.2" fill="#f9e054"/>
<rect x="895.3" y="429.2" width="61.2" height="4.2" fill="#f5b045"/>
<rect x="956.3" y="429.2" width="13.8" height="4.2" fill="#f0902f"/>
<rect x="969.9" y="429.2" width="34.1" height="4.2" fill="#f5b045"/>
<rect x="1003.8" y="429.2" width="7.0" height="4.2" fill="#f9e054"/>
<rect x="1010.6" y="429.2" width="7.0" height="4.2" fill="#f2ea7a"/>
<rect x="1017.3" y="429.2" width="13.8" height="4.2" fill="#dde08a"/>
<rect x="1030.9" y="429.2" width="7.0" height="4.2" fill="#f2ea7a"/>
<rect x="1037.7" y="429.2" width="27.3" height="4.2" fill="#dde08a"/>
<rect x="1064.8" y="429.2" width="13.8" height="4.2" fill="#f2ea7a"/>
<rect x="1078.4" y="429.2" width="7.0" height="4.2" fill="#dde08a"/>
<rect x="1085.1" y="429.2" width="34.1" height="4.2" fill="#f2ea7a"/>
<rect x="1119.0" y="429.2" width="68.0" height="4.2" fill="#f9e054"/>
<rect x="1186.8" y="429.2" width="20.5" height="4.2" fill="#f5b045"/>
<rect x="1207.2" y="429.2" width="27.3" height="4.2" fill="#f9e054"/>
<rect x="1234.3" y="429.2" width="7.0" height="4.2" fill="#e8582a"/>
<rect x="1241.1" y="429.2" width="7.0" height="4.2" fill="#f9e054"/>
<rect x="895.3" y="433.2" width="61.2" height="4.2" fill="#f5b045"/>
<rect x="956.3" y="433.2" width="13.8" height="4.2" fill="#f0902f"/>
<rect x="969.9" y="433.2" width="34.1" height="4.2" fill="#f5b045"/>
<rect x="1003.8" y="433.2" width="7.0" height="4.2" fill="#f9e054"/>
<rect x="1010.6" y="433.2" width="7.0" height="4.2" fill="#f2ea7a"/>
<rect x="1017.3" y="433.2" width="47.7" height="4.2" fill="#dde08a"/>
<rect x="1064.8" y="433.2" width="13.8" height="4.2" fill="#f2ea7a"/>
<rect x="1078.4" y="433.2" width="7.0" height="4.2" fill="#dde08a"/>
<rect x="1085.1" y="433.2" width="7.0" height="4.2" fill="#f2ea7a"/>
<rect x="1091.9" y="433.2" width="7.0" height="4.2" fill="#dde08a"/>
<rect x="1098.7" y="433.2" width="20.5" height="4.2" fill="#f2ea7a"/>
<rect x="1119.0" y="433.2" width="68.0" height="4.2" fill="#f9e054"/>
<rect x="1186.8" y="433.2" width="20.5" height="4.2" fill="#f5b045"/>
<rect x="1207.2" y="433.2" width="27.3" height="4.2" fill="#f9e054"/>
<rect x="1234.3" y="433.2" width="7.0" height="4.2" fill="#e8582a"/>
<rect x="1241.1" y="433.2" width="7.0" height="4.2" fill="#f9e054"/>
<rect x="956.3" y="437.2" width="34.1" height="4.2" fill="#f5b045"/>
<rect x="990.2" y="437.2" width="101.9" height="4.2" fill="#f2ea7a"/>
<rect x="1091.9" y="437.2" width="7.0" height="4.2" fill="#dde08a"/>
<rect x="1098.7" y="437.2" width="20.5" height="4.2" fill="#f2ea7a"/>
<rect x="1119.0" y="437.2" width="129.0" height="4.2" fill="#f9e054"/>
<rect x="895.3" y="441.1" width="40.9" height="4.2" fill="#f9e054"/>
<rect x="942.8" y="441.1" width="13.8" height="4.2" fill="#f9e054"/>
<rect x="956.3" y="441.1" width="20.5" height="4.2" fill="#f5b045"/>
<rect x="976.7" y="441.1" width="7.0" height="4.2" fill="#f0902f"/>
<rect x="983.4" y="441.1" width="7.0" height="4.2" fill="#f5b045"/>
<rect x="990.2" y="441.1" width="34.1" height="4.2" fill="#f2ea7a"/>
<rect x="1024.1" y="441.1" width="7.0" height="4.2" fill="#f9e054"/>
<rect x="1030.9" y="441.1" width="47.7" height="4.2" fill="#f2ea7a"/>
<rect x="1078.4" y="441.1" width="34.1" height="4.2" fill="#f9e054"/>
<rect x="1119.0" y="441.1" width="54.4" height="4.2" fill="#f9e054"/>
<rect x="1180.1" y="441.1" width="7.0" height="4.2" fill="#f9e054"/>
<rect x="1186.8" y="441.1" width="7.0" height="4.2" fill="#f2ea7a"/>
<rect x="1193.6" y="441.1" width="13.8" height="4.2" fill="#f9e054"/>
<rect x="1214.0" y="441.1" width="7.0" height="4.2" fill="#f2ea7a"/>
<rect x="1220.7" y="441.1" width="27.3" height="4.2" fill="#f9e054"/>
</g>
<g clip-path="url(#clipC)">
<path d="M895.3,443.6H1265.8" stroke="#7a6a10" stroke-width="0.8" stroke-dasharray="1.4,2.6" opacity="0.8" fill="none"/>
<path d="M895.3,403.9H1265.8" stroke="#7a6a10" stroke-width="0.8" stroke-dasharray="1.4,2.6" opacity="0.8" fill="none"/>
<path d="M895.3,364.1H1265.8" stroke="#7a6a10" stroke-width="0.8" stroke-dasharray="1.4,2.6" opacity="0.8" fill="none"/>
<path d="M895.3,324.4H1265.8" stroke="#7a6a10" stroke-width="0.8" stroke-dasharray="1.4,2.6" opacity="0.8" fill="none"/>
<path d="M895.3,284.7H1265.8" stroke="#7a6a10" stroke-width="0.8" stroke-dasharray="1.4,2.6" opacity="0.8" fill="none"/>
<path d="M895.3,244.9H1265.8" stroke="#7a6a10" stroke-width="0.8" stroke-dasharray="1.4,2.6" opacity="0.8" fill="none"/>
<path d="M895.3,205.2H1265.8" stroke="#7a6a10" stroke-width="0.8" stroke-dasharray="1.4,2.6" opacity="0.8" fill="none"/>
<path d="M895.3,165.5H1265.8" stroke="#7a6a10" stroke-width="0.8" stroke-dasharray="1.4,2.6" opacity="0.8" fill="none"/>
<path d="M1056.7,153.6L1056.7,171.5L1062.1,172.4L1067.5,175.1L1067.5,178.7L1072.8,178.7L1072.8,183.2L1067.5,183.2L1067.5,187.6L1062.1,187.6L1062.1,192.1L1056.7,192.1L1056.7,203.2L1050.4,203.2L1050.4,207.4L1029.8,207.4L1029.8,203.2L997.5,203.2L997.5,199.3L991.3,199.3L991.3,195.7L974.2,195.7L974.2,199.3L968.9,199.3L968.9,203.2L938.4,203.2L938.4,207.4L925.0,207.4L925.0,203.2L903.4,203.2L903.4,195.7L895.9,195.7" stroke="#1c1608" stroke-width="1.3" fill="none" stroke-linejoin="miter"/>
<path d="M1265.5,178.7L1260.1,178.7L1260.1,192.1L1253.9,192.1L1253.9,199.3L1248.5,199.3L1248.5,207.4L1242.2,207.4L1242.2,219.0L1236.8,219.0L1236.8,223.5L1231.5,223.5L1231.5,250.4" stroke="#1c1608" stroke-width="1.3" fill="none" stroke-linejoin="miter"/>
<path d="M895.9,251.8L901.7,251.8L901.7,256.3L910.6,256.3L910.6,264.3L918.7,264.3L918.7,268.8L927.6,268.8L927.6,273.3L932.1,273.3L932.1,276.9L943.8,276.9L943.8,280.5L950.9,280.5L950.9,285.0L957.2,285.0L957.2,288.5L962.6,288.5L962.6,293.0L968.9,293.0L968.9,296.6L979.6,296.6L979.6,300.2L991.3,300.2L991.3,304.7L997.5,304.7L997.5,308.3L1007.4,308.3L1007.4,312.7L1013.7,312.7L1013.7,317.2L1019.1,317.2L1019.1,320.8L1024.4,320.8L1024.4,324.4L1029.8,324.4L1029.8,328.9L1035.2,328.9L1035.2,333.3L1045.9,333.3L1045.9,337.8L1051.3,337.8L1051.3,341.4L1062.1,341.4L1062.1,345.9L1067.5,345.9L1067.5,350.4" stroke="#1c1608" stroke-width="1.3" fill="none" stroke-linejoin="miter"/>
<path d="M1231.5,250.0L1231.5,256.3L1225.2,256.3L1225.2,260.8L1219.8,260.8L1219.8,267.9L1214.4,267.9L1214.4,296.6L1219.8,296.6L1219.8,300.2L1225.2,300.2L1225.2,308.3L1214.4,308.3L1214.4,303.8L1209.1,303.8L1209.1,301.1L1197.4,301.1L1197.4,309.2L1203.7,309.2L1203.7,320.8L1209.1,320.8L1209.1,324.4L1214.4,324.4L1214.4,333.3L1219.8,333.3L1219.8,350.4" stroke="#1c1608" stroke-width="1.3" fill="none" stroke-linejoin="miter"/>
<path d="M943.8,350.0L943.8,393.9L956.7,393.9L956.7,446.8" stroke="#1c1608" stroke-width="1.3" fill="none" stroke-linejoin="miter"/>
<path d="M991.3,446.8L991.3,437.8L1007.4,437.8L1007.4,428.9L1019.1,428.9L1019.1,414.5L1024.4,414.5L1024.4,410.9L1029.8,410.9L1029.8,407.4L1035.2,407.4L1035.2,394.8L1040.6,394.8L1040.6,373.3L1035.2,373.3L1035.2,368.8L1029.8,368.8L1029.8,364.3L1024.4,364.3L1024.4,359.0L1019.1,359.0L1019.1,354.5L1013.7,354.5L1013.7,350.0" stroke="#1c1608" stroke-width="1.3" fill="none" stroke-linejoin="miter"/>
<path d="M1080.0,359.0L1083.6,359.0L1083.6,363.4L1089.9,363.4L1089.9,367.9L1111.4,367.9L1111.4,373.3L1116.7,373.3L1116.7,378.7L1122.1,378.7L1122.1,383.2L1127.5,383.2L1127.5,400.2L1138.3,400.2L1138.3,407.4L1143.6,407.4L1143.6,412.7L1154.4,412.7L1154.4,420.8L1159.8,420.8L1159.8,428.9L1176.8,428.9L1176.8,437.5L1203.7,437.5L1203.7,420.8L1192.9,420.8L1192.9,412.7L1187.2,412.7L1187.2,378.3L1208.2,378.3L1208.2,373.3L1214.4,373.3L1214.4,350.0" stroke="#1c1608" stroke-width="1.3" fill="none" stroke-linejoin="miter"/>
<path d="M1219.8,446.8L1219.8,428.9L1226.1,428.9L1226.1,412.7L1231.5,412.7L1231.5,407.0L1242.2,407.0L1242.2,420.3L1248.1,420.3L1248.1,446.8" stroke="#1c1608" stroke-width="1.3" fill="none" stroke-linejoin="miter"/>
<path d="M968.3,229.8C969.0,227.0 973.4,225.0 977.4,223.7C981.5,222.4 987.1,221.9 992.6,222.2C998.2,222.4 1004.8,223.5 1010.9,225.2C1017.0,227.0 1023.1,231.1 1029.2,232.8C1035.3,234.6 1040.4,235.6 1047.5,235.9C1054.6,236.1 1065.2,234.1 1071.8,234.4C1078.4,234.6 1082.0,235.6 1087.1,237.4C1092.1,239.2 1097.7,242.0 1102.3,245.0C1106.9,248.1 1110.7,251.9 1114.5,255.7C1118.3,259.5 1122.1,263.8 1125.1,267.9C1128.2,271.9 1130.0,275.5 1132.8,280.1C1135.6,284.6 1138.9,290.7 1141.9,295.3C1144.9,299.9 1148.0,303.9 1151.0,307.5C1154.1,311.0 1159.4,313.3 1160.2,316.6C1160.9,319.9 1158.1,324.7 1155.6,327.3C1153.1,329.8 1147.0,329.6 1144.9,331.8C1142.9,334.1 1142.9,337.4 1143.4,341.0C1143.9,344.5 1146.2,349.6 1148.0,353.2C1149.8,356.7 1153.6,359.3 1154.1,362.3C1154.6,365.3 1153.1,370.4 1151.0,371.4C1149.0,372.5 1146.0,370.4 1141.9,368.4C1137.8,366.4 1132.3,362.8 1126.7,359.3C1121.1,355.7 1114.0,351.1 1108.4,347.1C1102.8,343.0 1098.2,338.4 1093.2,334.9C1088.1,331.3 1083.0,328.8 1077.9,325.7C1072.9,322.7 1068.3,319.1 1062.7,316.6C1057.1,314.1 1050.5,313.1 1044.4,310.5C1038.3,308.0 1031.7,304.7 1026.1,301.4C1020.6,298.1 1016.0,293.8 1010.9,290.7C1005.8,287.7 1000.8,285.1 995.7,283.1C990.6,281.1 984.5,280.8 980.5,278.5C976.4,276.3 972.1,273.2 971.3,269.4C970.6,265.6 975.6,260.5 975.9,255.7C976.1,250.9 974.1,244.8 972.8,240.5C971.6,236.1 967.5,232.6 968.3,229.8Z" stroke="#fffdf2" stroke-width="1.8" fill="none" opacity="0.95"/><path d="M983.5,237.4C985.8,235.6 991.1,233.4 995.7,232.8C1000.3,232.3 1005.3,232.8 1010.9,234.4C1016.5,235.9 1022.6,239.7 1029.2,242.0C1035.8,244.3 1043.4,246.3 1050.5,248.1C1057.6,249.9 1066.3,250.4 1071.8,252.6C1077.4,254.9 1081.2,258.7 1084.0,261.8C1086.8,264.8 1087.1,266.4 1088.6,270.9C1090.1,275.5 1091.9,283.6 1093.2,289.2C1094.4,294.8 1094.9,300.1 1096.2,304.4C1097.5,308.7 1100.8,312.8 1100.8,315.1C1100.8,317.4 1099.0,317.9 1096.2,318.1C1093.4,318.4 1088.1,317.4 1084.0,316.6C1080.0,315.8 1076.4,314.6 1071.8,313.6C1067.3,312.5 1061.7,312.0 1056.6,310.5C1051.5,309.0 1046.5,307.2 1041.4,304.4C1036.3,301.6 1031.2,297.3 1026.1,293.8C1021.1,290.2 1016.0,286.1 1010.9,283.1C1005.8,280.1 999.8,277.3 995.7,275.5C991.6,273.7 988.8,274.2 986.6,272.4C984.3,270.7 982.2,268.1 982.0,264.8C981.7,261.5 985.0,256.2 985.0,252.6C985.0,249.1 982.2,246.0 982.0,243.5C981.7,241.0 981.2,239.2 983.5,237.4Z" stroke="#fffdf2" stroke-width="1.8" fill="none" opacity="0.95"/><path d="M1000.3,245.0C1002.3,243.8 1006.6,243.0 1010.9,243.5C1015.2,244.0 1020.6,246.0 1026.1,248.1C1031.7,250.1 1038.8,253.7 1044.4,255.7C1050.0,257.7 1055.3,258.2 1059.7,260.3C1064.0,262.3 1068.0,264.6 1070.3,267.9C1072.6,271.2 1072.6,276.0 1073.4,280.1C1074.1,284.1 1074.4,288.7 1074.9,292.2C1075.4,295.8 1076.9,299.3 1076.4,301.4C1075.9,303.4 1074.1,304.4 1071.8,304.4C1069.6,304.4 1066.3,303.4 1062.7,301.4C1059.1,299.3 1054.6,294.8 1050.5,292.2C1046.5,289.7 1042.4,288.4 1038.3,286.1C1034.3,283.9 1030.2,281.1 1026.1,278.5C1022.1,276.0 1018.0,272.7 1014.0,270.9C1009.9,269.1 1004.6,269.7 1001.8,267.9C999.0,266.1 997.7,263.1 997.2,260.3C996.7,257.5 998.2,253.7 998.7,251.1C999.2,248.6 998.2,246.3 1000.3,245.0Z" stroke="#fffdf2" stroke-width="1.8" fill="none" opacity="0.95"/><path d="M1173.2,182.3C1175.1,182.9 1178.0,186.1 1179.5,188.5C1181.0,190.9 1182.2,193.8 1182.2,196.6C1182.2,199.4 1181.0,202.9 1179.5,205.6C1178.0,208.3 1175.7,211.8 1173.2,212.7C1170.7,213.6 1166.9,212.3 1164.2,210.9C1161.6,209.6 1158.4,206.8 1157.1,204.7C1155.7,202.6 1155.6,200.8 1156.2,198.4C1156.8,196.0 1158.7,192.6 1160.7,190.3C1162.6,188.1 1165.7,186.3 1167.8,185.0C1169.9,183.6 1171.3,181.7 1173.2,182.3Z" stroke="#fffdf2" stroke-width="1.8" fill="none" opacity="0.95"/><path d="M968.9,373.3C969.8,371.2 971.3,369.1 974.2,367.9C977.2,366.7 982.9,366.1 986.8,366.1C990.7,366.1 994.6,366.7 997.5,367.9C1000.5,369.1 1002.9,370.9 1004.7,373.3C1006.5,375.7 1008.0,379.0 1008.3,382.3C1008.6,385.5 1008.3,389.7 1006.5,393.0C1004.7,396.3 1000.5,399.4 997.5,402.0C994.6,404.5 991.3,407.8 988.6,408.3C985.9,408.7 983.5,406.3 981.4,404.7C979.3,403.0 977.7,400.9 976.0,398.4C974.4,395.9 972.8,392.4 971.6,389.4C970.4,386.4 969.3,383.2 968.9,380.5C968.4,377.8 968.0,375.4 968.9,373.3Z" stroke="#fffdf2" stroke-width="1.8" fill="none" opacity="0.95"/><text x="1032" y="302" font-family="Liberation Sans, sans-serif" font-size="6.5" font-weight="bold" fill="#fff" transform="rotate(42 1032 302)" text-anchor="middle">1000</text>
<path d="M907.1,168.8L912.3,170.7M928.3,169.2L934.2,172.0M947.0,169.3L953.1,172.6M965.3,169.5L971.7,172.5M981.6,168.9L989.1,171.6M999.1,169.1L1007.5,172.2M1015.7,169.3L1026.0,173.0M1032.0,169.4L1043.7,173.6M1048.8,169.6L1061.0,174.1M1065.1,169.5L1077.7,172.8M907.1,188.7L911.6,190.8M928.4,189.1L933.4,193.3M947.2,189.1L952.2,193.3M965.6,189.4L970.7,192.4M982.1,189.0L989.0,190.2M999.5,189.4L1007.5,189.4M1016.3,189.7L1027.2,190.6M1032.4,189.5L1045.1,192.2M1048.6,189.2L1061.2,192.5M1065.1,189.8L1078.8,192.7M907.1,209.5L913.0,210.6M928.6,209.3L936.0,214.4M947.7,209.5L954.2,214.1M965.3,209.3L971.4,211.5M981.9,209.1L988.8,208.5M999.1,208.9L1006.8,206.9M1015.7,209.3L1026.0,207.5M1033.4,209.0L1045.9,210.1M1048.3,210.0L1062.2,211.9M1065.0,210.3L1079.9,211.6M907.1,229.2L914.1,228.6M928.7,229.6L937.3,234.6M947.7,229.6L955.9,235.3M966.1,229.7L973.4,231.6M982.4,229.6L991.2,228.1M999.5,229.7L1007.0,227.0M1017.2,229.0L1021.6,226.5M1032.6,229.8L1037.8,227.9M1049.1,230.1L1053.6,230.1M1064.6,230.1L1071.1,230.1M1081.8,168.9L1092.5,171.2M1098.2,169.0L1110.2,169.0M1114.3,168.6L1126.3,168.6M1131.0,169.0L1143.0,168.3M1147.1,169.0L1159.1,168.3M1163.3,168.8L1175.3,168.8M1178.9,169.0L1190.9,169.0M1194.5,169.1L1206.4,169.6M1211.7,169.3L1223.7,168.7M1228.2,169.1L1240.1,167.4M1245.7,168.6L1258.4,165.9M1082.0,189.5L1095.9,191.5M1098.6,189.8L1111.6,189.8M1115.1,189.8L1128.1,189.8M1130.9,189.8L1143.9,189.8M1147.1,189.8L1159.1,189.8M1162.9,189.8L1174.9,189.8M1178.9,189.8L1190.9,189.8M1195.0,189.7L1207.0,189.1M1212.1,189.6L1224.0,187.9M1229.2,188.9L1240.9,186.4M1246.2,188.6L1258.7,185.2M1080.6,209.9L1095.5,211.2M1097.7,210.2L1111.7,211.0M1114.3,210.3L1128.2,211.6M1130.1,210.3L1143.9,212.3M1147.4,210.4L1160.3,212.2M1163.6,209.9L1175.6,209.9M1179.4,209.5L1191.4,208.8M1195.5,209.3L1207.5,208.3M1212.1,209.3L1224.0,207.6M1228.7,208.9L1240.3,205.8M1245.9,207.6L1258.3,203.6M1081.1,229.6L1089.0,228.2M1097.4,228.9L1108.4,228.9M1113.3,229.6L1126.3,230.7M1129.7,230.2L1144.3,233.3M1146.3,231.0L1160.0,233.9M1162.3,230.7L1175.2,232.5M1178.9,229.8L1190.9,229.8M1194.6,229.7L1205.6,228.7M1211.2,229.5L1222.0,227.6M1228.6,229.0L1239.0,225.2M1246.4,228.9L1255.9,223.4M907.2,249.5L915.2,249.5M928.9,248.5L937.1,252.3M948.4,248.9L955.3,252.9M966.9,249.4L972.6,251.4M983.3,249.1L990.3,249.1M999.9,249.2L1005.9,248.7M1017.4,248.9L1021.4,248.9M1033.2,248.8L1037.2,249.1M1048.9,249.0L1053.7,250.3M1065.1,248.8L1070.5,251.3M1084.2,250.4L1086.5,248.5M1100.4,249.2L1102.7,247.3M1116.0,248.6L1121.0,248.6M1131.2,248.7L1138.1,252.7M1147.8,249.2L1155.6,253.7M1164.3,249.6L1171.4,253.3M1180.1,249.3L1187.8,251.4M1195.7,249.4L1202.7,250.0M1212.8,249.6L1219.7,248.3M1229.8,249.7L1236.7,245.7M1247.0,249.1L1253.6,244.5M907.2,270.1L912.2,270.1M929.0,269.7L935.3,272.6M947.6,270.0L956.1,273.0M967.6,270.6L973.0,273.1M984.8,270.8L988.8,271.5M1000.9,270.4L1004.9,270.4M1016.2,270.6L1021.2,270.6M1032.2,270.1L1038.2,270.1M1048.4,270.5L1054.2,268.9M1065.0,270.5L1069.9,267.1M905.4,291.9L907.6,289.8M928.0,290.2L930.8,293.0M946.5,289.7L951.1,293.5M966.0,290.8L973.5,293.5M982.8,290.8L993.7,292.3M999.6,290.9L1011.6,290.9M1023.8,291.7L1026.9,294.3M1033.9,290.9L1038.2,293.4M1048.6,291.6L1051.2,290.1M1065.4,290.0L1065.9,287.1M906.9,310.9L899.9,310.9M928.3,310.9L923.3,310.9M948.5,310.9L944.5,310.9M965.0,310.4L965.5,313.3M982.5,311.1L984.6,309.0M999.9,310.0L1002.4,310.0M1016.8,310.4L1020.6,315.0M1032.8,311.7L1036.8,317.4M1048.8,312.3L1050.3,314.9M1064.9,313.1L1066.4,310.5M906.2,331.6L898.2,331.6M927.5,330.7L920.6,331.3M947.2,331.0L942.2,331.0M965.4,331.1L959.8,333.1M982.2,331.8L975.3,333.1M999.6,331.6L993.6,331.6M1015.7,331.1L1008.0,333.1M1031.3,331.2L1028.3,333.7M1049.2,331.8L1049.2,334.8M1065.6,332.2L1067.5,334.5M1082.0,269.8L1085.2,266.0M1097.3,269.7L1099.3,266.2M1113.5,271.1L1114.6,268.3M1129.7,273.9L1130.0,270.9M1145.8,274.9L1146.1,271.0M1161.7,274.4L1162.4,270.4M1177.6,272.7L1179.5,270.4M1191.9,270.6L1194.7,269.6M1210.1,266.6L1211.6,269.2M1228.2,269.9L1228.6,264.9M1244.9,269.7L1246.7,265.0M1263.0,269.8L1264.4,266.0M1078.0,289.8L1082.0,289.8M1093.8,289.8L1097.8,289.8M1107.5,291.7L1113.4,290.7M1122.8,293.8L1130.4,291.1M1139.7,294.8L1145.8,291.3M1155.8,294.7L1162.7,290.7M1172.1,292.8L1178.6,290.4M1189.0,290.1L1195.0,290.6M1207.1,286.6L1211.7,290.5M1226.0,283.9L1228.0,289.6M1244.1,285.2L1245.0,290.1M1262.3,285.7L1262.7,290.7M1076.6,311.3L1081.6,311.3M1091.0,311.3L1097.0,311.3M1105.1,312.9L1113.0,311.5M1121.4,313.5L1130.1,311.2M1138.3,315.0L1146.5,311.2M1156.2,314.5L1162.3,311.0M1172.5,312.6L1178.3,311.1M1189.3,307.9L1194.7,310.4M1208.5,303.9L1211.5,309.1M1227.5,304.9L1227.9,309.8M1245.0,310.2L1245.5,305.2M1262.3,310.7L1262.7,305.8M1075.8,333.5L1080.6,332.2M1091.4,333.2L1097.2,331.7M1105.2,333.8L1112.9,331.8M1122.4,333.8L1130.1,331.8M1138.9,333.5L1143.7,332.2M1157.0,333.4L1162.5,330.8M1175.6,332.8L1178.7,330.3M1195.5,330.8L1197.6,326.2M1212.2,330.3L1214.2,324.6M1228.6,329.9L1232.6,324.2M1245.6,330.3L1249.6,324.6M1262.7,330.8L1265.9,327.0M906.9,352.7L898.9,352.7M928.4,351.4L920.4,352.1M947.3,351.4L940.3,351.4M966.0,352.4L957.4,354.7M982.7,352.6L973.0,355.2M999.1,352.7L988.1,353.7M1011.5,352.7L1001.5,352.7M1031.0,352.6L1022.2,351.0M1047.9,353.0L1043.2,351.3M1064.1,353.8L1060.8,351.5M1077.7,354.2L1075.1,351.2M907.0,376.0L904.5,376.0M928.6,374.9L924.9,373.5M946.1,375.6L942.1,375.6M965.1,376.1L957.6,378.8M982.2,375.5L972.8,379.0M999.0,375.7L989.6,379.1M1015.3,375.6L1005.6,378.2M1031.3,374.7L1024.7,370.1M1047.6,373.9L1042.4,370.9M1064.5,374.8L1059.7,373.6M1079.3,375.4L1076.4,374.8M912.3,400.5L907.1,403.5M933.5,400.5L928.3,403.5M951.8,401.8L947.2,403.9M967.5,402.5L966.0,405.1M982.4,405.1L980.5,406.7M999.2,403.9L996.6,405.4M1015.5,403.8L1015.5,401.3M1032.5,403.4L1034.2,398.7M1048.4,402.5L1051.4,396.1M1064.3,403.2L1067.8,397.2M907.0,435.7L907.0,441.7M927.9,436.6L927.7,441.6M947.2,437.6L947.5,441.6M966.2,441.5L964.3,443.1M984.4,440.5L982.1,442.4M1000.9,437.7L999.6,441.5M1019.1,435.0L1016.1,441.4M1034.0,434.4L1032.8,441.3M1048.6,435.7L1048.6,441.7M1063.3,435.8L1064.4,441.7M1077.3,436.6L1079.8,440.9M1080.9,356.5L1080.9,352.5M1096.8,357.5L1097.3,351.5M1111.0,355.7L1113.5,351.4M1126.6,354.6L1129.5,351.8M1143.5,353.7L1145.6,351.6M1162.5,352.6L1160.6,350.3M1177.9,353.3L1181.1,349.5M1194.7,352.7L1198.3,349.1M1212.3,353.0L1216.6,348.8M1228.8,352.7L1232.3,349.1M1246.6,352.5L1250.4,349.3M1079.9,376.0L1081.9,376.0M1096.1,376.0L1099.1,376.0M1112.1,376.0L1116.1,376.0M1137.3,376.0L1130.3,376.0M1153.8,376.0L1146.8,376.0M1163.0,375.1L1169.8,373.3M1179.0,374.3L1185.4,368.0M1196.0,373.9L1202.4,366.2M1214.0,371.5L1218.5,366.1M1228.8,374.7L1234.1,370.2M1245.0,375.2L1250.2,372.2M1261.6,375.4L1265.9,372.9M1081.0,403.6L1083.3,400.3M1097.1,403.7L1100.6,400.2M1113.2,403.7L1116.7,400.2M1130.2,403.2L1134.5,400.7M1146.3,403.2L1151.7,400.7M1162.5,403.5L1167.7,400.5M1179.0,401.1L1183.5,395.7M1195.8,402.3L1197.9,394.5M1211.8,401.0L1211.3,395.0M1228.4,402.1L1226.3,396.5M1245.7,403.5L1242.3,398.6M1263.8,403.6L1260.0,400.4M1093.7,437.5L1097.9,441.7M1109.8,438.0L1114.0,442.3M1125.9,437.5L1130.2,441.7M1142.9,437.7L1146.1,441.5M1159.1,437.3L1162.9,441.9M1175.1,436.3L1178.5,441.2M1190.6,436.5L1196.0,441.0M1205.6,437.6L1212.5,441.6M1219.8,437.9L1227.0,441.3M1235.7,438.8L1245.1,442.2M1252.4,440.8L1263.2,442.7" stroke="#1a1208" stroke-width="1.1" fill="none"/><path d="M913.1,170.9L909.8,170.7L910.4,169.0ZM934.9,172.3L931.3,171.7L932.1,170.0ZM953.8,173.0L950.1,172.1L951.0,170.4ZM972.4,172.8L968.6,172.1L969.4,170.3ZM989.9,171.9L985.6,171.5L986.3,169.4ZM1008.3,172.4L1003.5,172.1L1004.4,169.7ZM1026.8,173.3L1021.2,172.9L1022.2,170.0ZM1044.5,173.9L1038.9,173.5L1040.0,170.6ZM1061.8,174.4L1056.2,174.0L1057.2,171.0ZM1078.4,173.0L1072.8,173.2L1073.6,170.1ZM912.3,191.2L909.3,190.8L910.1,189.1ZM934.0,193.8L930.7,192.3L931.9,190.8ZM952.8,193.8L949.5,192.3L950.7,190.8ZM971.4,192.8L968.1,191.9L969.0,190.3ZM989.8,190.4L985.9,190.7L986.3,188.7ZM1008.3,189.4L1004.1,190.6L1004.1,188.3ZM1028.0,190.7L1022.5,191.8L1022.8,188.7ZM1045.9,192.4L1040.3,192.8L1041.0,189.7ZM1062.0,192.8L1056.3,192.9L1057.1,189.8ZM1079.6,192.8L1074.0,193.3L1074.6,190.2ZM913.8,210.7L910.4,211.0L910.7,209.2ZM936.6,214.9L932.2,213.3L933.6,211.2ZM954.9,214.6L950.8,213.1L952.1,211.3ZM972.1,211.8L968.5,211.5L969.1,209.7ZM989.6,208.4L986.0,209.7L985.8,207.7ZM1007.6,206.7L1003.8,208.8L1003.2,206.6ZM1026.8,207.4L1021.9,209.8L1021.4,206.8ZM1046.7,210.1L1041.2,211.2L1041.4,208.1ZM1063.0,212.0L1057.4,212.8L1057.9,209.7ZM1080.7,211.7L1075.2,212.8L1075.5,209.6ZM914.9,228.5L911.3,229.8L911.1,227.8ZM938.0,235.0L933.0,233.7L934.4,231.3ZM956.6,235.8L951.7,234.1L953.3,231.7ZM974.2,231.8L970.1,231.8L970.6,229.8ZM992.0,227.9L987.7,230.0L987.3,227.5ZM1007.8,226.7L1004.3,229.2L1003.5,227.0ZM1022.3,226.1L1020.2,228.4L1019.3,226.8ZM1038.5,227.7L1035.9,229.6L1035.3,227.9ZM1054.4,230.1L1051.7,231.0L1051.7,229.2ZM1071.9,230.1L1068.3,231.1L1068.3,229.2ZM1093.3,171.4L1087.7,171.8L1088.4,168.7ZM1111.0,169.0L1105.6,170.6L1105.6,167.4ZM1127.1,168.6L1121.7,170.2L1121.7,167.1ZM1143.8,168.3L1138.5,170.1L1138.3,167.0ZM1159.9,168.3L1154.6,170.1L1154.4,167.0ZM1176.1,168.8L1170.7,170.4L1170.7,167.3ZM1191.7,169.0L1186.3,170.6L1186.3,167.4ZM1207.2,169.6L1201.8,171.0L1201.9,167.8ZM1224.4,168.6L1219.1,170.5L1219.0,167.4ZM1240.9,167.3L1235.8,169.6L1235.3,166.5ZM1259.2,165.7L1254.3,168.3L1253.6,165.3ZM1096.7,191.6L1091.1,192.4L1091.6,189.3ZM1112.4,189.8L1107.0,191.4L1107.0,188.2ZM1128.9,189.8L1123.5,191.4L1123.5,188.2ZM1144.7,189.8L1139.3,191.4L1139.3,188.2ZM1159.9,189.8L1154.5,191.4L1154.5,188.2ZM1175.7,189.8L1170.3,191.4L1170.3,188.2ZM1191.7,189.8L1186.3,191.4L1186.3,188.2ZM1207.8,189.1L1202.5,190.9L1202.3,187.8ZM1224.8,187.8L1219.6,190.1L1219.2,187.0ZM1241.7,186.2L1236.7,188.9L1236.1,185.8ZM1259.5,185.0L1254.7,187.9L1253.9,184.9ZM1096.3,211.3L1090.8,212.4L1091.1,209.3ZM1112.5,211.0L1107.1,212.3L1107.2,209.1ZM1129.0,211.6L1123.5,212.7L1123.8,209.6ZM1144.7,212.4L1139.2,213.2L1139.6,210.1ZM1161.1,212.3L1155.5,213.1L1155.9,210.0ZM1176.4,209.9L1171.0,211.4L1171.0,208.3ZM1192.2,208.8L1186.9,210.6L1186.7,207.5ZM1208.3,208.2L1203.1,210.2L1202.8,207.1ZM1224.8,207.5L1219.6,209.8L1219.2,206.7ZM1241.1,205.6L1236.3,208.5L1235.5,205.5ZM1259.0,203.3L1254.4,206.5L1253.4,203.5ZM1089.7,228.0L1085.8,229.9L1085.5,227.6ZM1109.2,228.9L1103.8,230.4L1103.8,227.3ZM1127.1,230.8L1121.5,231.8L1121.8,228.7ZM1145.1,233.5L1139.5,233.9L1140.2,230.8ZM1160.8,234.1L1155.2,234.5L1155.8,231.4ZM1176.0,232.6L1170.4,233.4L1170.8,230.3ZM1191.7,229.8L1186.3,231.3L1186.3,228.2ZM1206.4,228.7L1201.1,230.7L1200.9,227.6ZM1222.8,227.4L1217.7,229.9L1217.2,226.8ZM1239.7,224.9L1235.2,228.2L1234.1,225.3ZM1256.6,223.0L1252.7,227.1L1251.2,224.4ZM916.0,249.5L911.8,250.6L911.8,248.3ZM937.8,252.6L933.1,251.8L934.2,249.5ZM956.0,253.3L951.8,252.2L953.0,250.2ZM973.3,251.7L969.9,251.4L970.5,249.7ZM991.1,249.1L987.4,250.1L987.4,248.1ZM1006.7,248.6L1003.5,249.8L1003.3,248.0ZM1022.2,248.9L1019.7,249.8L1019.7,248.0ZM1038.0,249.2L1035.4,249.9L1035.6,248.1ZM1054.5,250.5L1051.5,250.6L1051.9,248.9ZM1071.3,251.6L1067.9,251.0L1068.6,249.4ZM1121.8,248.6L1118.9,249.5L1118.9,247.7ZM1138.8,253.1L1134.7,252.0L1135.8,250.1ZM1156.3,254.1L1151.7,252.9L1153.0,250.7ZM1172.1,253.7L1167.9,252.8L1168.9,250.7ZM1188.6,251.6L1184.3,251.6L1184.9,249.4ZM1203.5,250.0L1199.7,250.7L1199.8,248.7ZM1220.5,248.2L1217.0,249.8L1216.6,247.9ZM1237.4,245.3L1234.4,248.4L1233.2,246.4ZM1254.2,244.0L1251.5,247.4L1250.2,245.5ZM913.0,270.1L910.1,271.0L910.1,269.2ZM936.0,273.0L932.2,272.3L933.1,270.5ZM956.8,273.3L952.1,273.0L953.0,270.5ZM973.7,273.5L970.4,272.9L971.1,271.3ZM989.5,271.6L987.0,272.1L987.3,270.3ZM1005.7,270.4L1003.2,271.3L1003.2,269.5ZM1022.0,270.6L1019.1,271.5L1019.1,269.7ZM1039.0,270.1L1035.7,271.0L1035.7,269.2ZM1055.0,268.7L1052.0,270.5L1051.5,268.7ZM1070.6,266.6L1068.4,269.3L1067.3,267.8ZM931.4,293.6L929.0,292.4L930.3,291.2ZM951.7,294.0L948.6,292.6L949.7,291.2ZM974.3,293.8L970.0,293.4L970.8,291.3ZM994.5,292.5L988.9,293.3L989.3,290.2ZM1012.4,290.9L1007.0,292.4L1007.0,289.3ZM1027.5,294.8L1025.0,293.9L1026.2,292.5ZM1038.9,293.8L1036.0,293.1L1036.9,291.5ZM899.1,310.9L902.9,309.9L902.9,311.9ZM922.5,310.9L925.4,310.0L925.4,311.8ZM943.7,310.9L946.1,310.0L946.1,311.8ZM1021.1,315.6L1018.3,313.7L1019.7,312.5ZM1037.3,318.1L1034.3,315.6L1036.0,314.4ZM897.4,331.6L901.5,330.4L901.5,332.7ZM919.8,331.4L923.4,330.1L923.6,332.1ZM941.4,331.0L944.3,330.1L944.3,331.9ZM959.0,333.4L961.8,331.4L962.5,333.1ZM974.5,333.2L978.0,331.6L978.3,333.5ZM992.8,331.6L996.2,330.7L996.2,332.5ZM1007.2,333.3L1011.0,331.2L1011.6,333.4ZM1027.7,334.3L1029.0,332.0L1030.1,333.3ZM1085.7,265.4L1084.5,268.2L1083.2,267.0ZM1099.7,265.5L1099.2,268.1L1097.7,267.2ZM1146.2,270.2L1146.9,272.7L1145.1,272.5ZM1162.6,269.6L1163.0,272.2L1161.3,271.9ZM1228.7,264.1L1229.3,267.1L1227.6,266.9ZM1246.9,264.3L1246.8,267.3L1245.1,266.7ZM1264.7,265.3L1264.7,267.9L1263.0,267.3ZM1082.8,289.8L1080.3,290.7L1080.3,288.9ZM1098.6,289.8L1096.1,290.7L1096.1,288.9ZM1114.2,290.6L1111.1,292.0L1110.8,290.3ZM1131.1,290.8L1127.6,293.3L1126.8,291.2ZM1146.5,290.9L1143.7,293.6L1142.7,291.9ZM1163.4,290.3L1160.4,293.3L1159.2,291.4ZM1179.4,290.1L1176.2,292.3L1175.5,290.5ZM1195.8,290.7L1192.4,291.3L1192.6,289.5ZM1212.3,291.0L1209.2,289.5L1210.4,288.2ZM1228.3,290.3L1226.3,287.5L1228.0,286.9ZM1245.1,290.9L1243.7,288.2L1245.5,287.9ZM1262.8,291.5L1261.6,288.7L1263.4,288.5ZM1082.4,311.3L1079.5,312.2L1079.5,310.4ZM1097.8,311.3L1094.5,312.2L1094.5,310.4ZM1113.8,311.4L1109.9,313.2L1109.5,311.0ZM1130.8,311.0L1126.7,313.4L1126.1,310.9ZM1147.2,310.9L1143.6,314.0L1142.5,311.6ZM1162.9,310.6L1160.2,313.3L1159.2,311.6ZM1179.0,310.9L1176.1,312.6L1175.6,310.8ZM1195.5,310.8L1192.1,310.2L1192.8,308.5ZM1211.9,309.8L1209.4,307.3L1211.0,306.4ZM1228.0,310.6L1226.8,307.8L1228.6,307.7ZM1245.6,304.4L1246.2,307.4L1244.4,307.2ZM1262.8,305.0L1263.4,307.9L1261.6,307.8ZM1081.4,332.0L1078.8,333.6L1078.4,331.8ZM1098.0,331.5L1095.0,333.2L1094.6,331.5ZM1113.7,331.6L1110.0,333.7L1109.4,331.5ZM1130.9,331.6L1127.2,333.7L1126.6,331.5ZM1144.5,332.0L1141.9,333.6L1141.5,331.8ZM1163.2,330.5L1160.6,332.7L1159.8,331.1ZM1179.3,329.8L1178.0,332.0L1176.8,330.7ZM1197.9,325.5L1197.5,328.5L1195.9,327.8ZM1214.5,323.9L1214.2,327.3L1212.5,326.7ZM1233.0,323.6L1231.7,327.2L1230.1,326.0ZM1250.1,323.9L1248.7,327.5L1247.1,326.4ZM1266.4,326.3L1265.2,329.1L1263.8,328.0ZM898.1,352.7L902.3,351.5L902.3,353.8ZM919.6,352.2L923.7,350.7L923.9,353.0ZM939.5,351.4L943.2,350.4L943.2,352.4ZM956.6,355.0L960.7,352.5L961.3,355.0ZM972.2,355.4L976.7,352.8L977.4,355.5ZM987.3,353.8L992.6,351.7L992.8,354.9ZM1000.7,352.7L1005.7,351.3L1005.7,354.1ZM1021.4,350.9L1026.1,350.4L1025.7,352.9ZM1042.5,351.0L1045.5,351.2L1044.9,352.9ZM1060.1,351.1L1062.7,351.8L1061.7,353.2ZM1074.6,350.5L1076.9,351.9L1075.5,353.0ZM924.1,373.2L926.8,373.2L926.1,374.9ZM941.3,375.6L943.8,374.7L943.8,376.5ZM956.8,379.1L960.3,376.6L961.1,378.7ZM972.0,379.2L976.2,376.2L977.2,378.9ZM988.9,379.4L993.1,376.4L994.1,379.0ZM1004.8,378.4L1009.3,375.7L1010.0,378.5ZM1024.1,369.7L1028.1,371.1L1026.8,373.0ZM1041.8,370.5L1045.1,371.4L1044.2,372.9ZM1058.9,373.3L1061.9,373.2L1061.5,375.0ZM906.4,403.9L908.9,401.4L909.8,403.0ZM927.6,403.9L930.0,401.4L930.9,403.0ZM946.5,404.3L948.8,402.2L949.5,403.9ZM1034.5,398.0L1034.4,401.0L1032.7,400.4ZM1051.7,395.4L1051.0,399.2L1049.2,398.4ZM1068.2,396.5L1067.2,400.2L1065.4,399.2ZM907.0,442.5L906.1,439.2L907.9,439.2ZM927.7,442.4L926.9,439.5L928.7,439.5ZM947.6,442.4L946.5,440.0L948.3,439.9ZM999.3,442.3L999.3,439.6L1001.0,440.2ZM1015.8,442.1L1016.5,438.3L1018.3,439.1ZM1032.6,442.1L1032.3,438.2L1034.3,438.6ZM1048.6,442.5L1047.7,439.2L1049.5,439.2ZM1064.5,442.5L1063.1,439.4L1064.8,439.0ZM1080.2,441.6L1078.0,439.5L1079.5,438.6ZM1080.9,351.7L1081.8,354.2L1080.0,354.2ZM1097.4,350.7L1098.0,354.1L1096.2,353.9ZM1113.9,350.7L1113.2,353.7L1111.7,352.8ZM1130.0,351.2L1128.9,353.6L1127.6,352.4ZM1181.6,348.9L1180.4,351.7L1179.0,350.5ZM1198.8,348.6L1197.4,351.2L1196.2,350.0ZM1217.1,348.2L1215.4,351.2L1214.1,349.9ZM1232.9,348.6L1231.5,351.2L1230.2,350.0ZM1251.0,348.8L1249.4,351.3L1248.2,349.9ZM1116.9,376.0L1114.4,376.9L1114.4,375.1ZM1129.5,376.0L1133.2,375.0L1133.2,377.0ZM1146.0,376.0L1149.7,375.0L1149.7,377.0ZM1170.5,373.1L1167.2,375.0L1166.7,373.1ZM1185.9,367.4L1183.6,371.6L1181.8,369.7ZM1202.9,365.6L1200.8,370.4L1198.6,368.5ZM1219.0,365.5L1217.4,369.0L1215.8,367.7ZM1234.8,369.6L1232.5,372.8L1231.2,371.3ZM1250.9,371.8L1248.5,374.2L1247.6,372.6ZM1266.6,372.5L1264.5,374.8L1263.6,373.2ZM1083.8,399.7L1083.1,402.2L1081.6,401.2ZM1101.2,399.6L1099.7,402.3L1098.5,401.1ZM1117.3,399.6L1115.9,402.3L1114.6,401.1ZM1135.2,400.3L1133.1,402.6L1132.2,401.0ZM1152.5,400.4L1149.8,402.6L1149.1,401.0ZM1168.4,400.1L1166.0,402.5L1165.1,401.0ZM1184.0,395.1L1182.4,398.6L1180.9,397.3ZM1198.1,393.8L1198.1,398.1L1195.9,397.5ZM1211.2,394.3L1212.4,397.5L1210.6,397.6ZM1226.0,395.7L1228.0,398.5L1226.3,399.1ZM1241.8,398.0L1244.5,400.2L1243.0,401.2ZM1259.4,399.9L1262.2,401.0L1261.0,402.4ZM1098.5,442.3L1095.5,440.6L1096.7,439.3ZM1114.6,442.8L1111.6,441.1L1112.9,439.9ZM1130.7,442.3L1127.7,440.6L1129.0,439.3ZM1146.6,442.1L1144.1,440.5L1145.5,439.3ZM1163.5,442.5L1160.6,440.6L1162.0,439.4ZM1179.0,441.8L1176.3,439.6L1177.8,438.6ZM1196.6,441.5L1193.1,439.9L1194.4,438.3ZM1213.2,442.0L1209.0,440.9L1210.2,439.0ZM1227.7,441.7L1223.5,440.9L1224.5,438.9ZM1245.9,442.5L1240.7,442.1L1241.7,439.4ZM1264.0,442.9L1258.4,443.5L1259.0,440.4Z" fill="#1a1208"/>
</g>
<rect x="895.3" y="155.3" width="370.5" height="291.5" fill="none" stroke="#111" stroke-width="1.3"/>
<path d="M895.1,155.3v-6.3M895.1,446.8v6.3M922.2,155.3v-6.3M922.2,446.8v6.3M949.4,155.3v-6.3M949.4,446.8v6.3M976.5,155.3v-6.3M976.5,446.8v6.3M1003.6,155.3v-6.3M1003.6,446.8v6.3M1030.8,155.3v-6.3M1030.8,446.8v6.3M1057.9,155.3v-6.3M1057.9,446.8v6.3M1085.0,155.3v-6.3M1085.0,446.8v6.3M1112.1,155.3v-6.3M1112.1,446.8v6.3M1139.3,155.3v-6.3M1139.3,446.8v6.3M1166.4,155.3v-6.3M1166.4,446.8v6.3M1193.5,155.3v-6.3M1193.5,446.8v6.3M1220.7,155.3v-6.3M1220.7,446.8v6.3M1247.8,155.3v-6.3M1247.8,446.8v6.3M895.3,443.6h-6M1265.8,443.6h6M895.3,403.9h-6M1265.8,403.9h6M895.3,364.1h-6M1265.8,364.1h6M895.3,324.4h-6M1265.8,324.4h6M895.3,284.7h-6M1265.8,284.7h6M895.3,244.9h-6M1265.8,244.9h6M895.3,205.2h-6M1265.8,205.2h6M895.3,165.5h-6M1265.8,165.5h6" stroke="#111" stroke-width="1.2" fill="none"/>
</svg>
<div class="s" style="left:27.9px;top:447.8px;font-size:15.5px;transform:translate(-100%,-50%) scaleX(0.66);transform-origin:right center">0</div>
<div class="s" style="left:27.9px;top:365.6px;font-size:15.5px;transform:translate(-100%,-50%) scaleX(0.66);transform-origin:right center">10N</div>
<div class="s" style="left:27.9px;top:283.5px;font-size:15.5px;transform:translate(-100%,-50%) scaleX(0.66);transform-origin:right center">20N</div>
<div class="s" style="left:27.9px;top:201.3px;font-size:15.5px;transform:translate(-100%,-50%) scaleX(0.66);transform-origin:right center">30N</div>
<div class="s" style="left:27.9px;top:119.2px;font-size:15.5px;transform:translate(-100%,-50%) scaleX(0.66);transform-origin:right center">40N</div>
<div class="s" style="left:27.9px;top:37.0px;font-size:15.5px;transform:translate(-100%,-50%) scaleX(0.66);transform-origin:right center">50N</div>
<div class="s" style="left:86.8px;top:461.9px;font-size:15.5px;transform:translate(-50%,-50%) scaleX(0.66);transform-origin:center">60E</div>
<div class="s" style="left:192.7px;top:461.9px;font-size:15.5px;transform:translate(-50%,-50%) scaleX(0.66);transform-origin:center">80E</div>
<div class="s" style="left:298.6px;top:461.9px;font-size:15.5px;transform:translate(-50%,-50%) scaleX(0.66);transform-origin:center">100E</div>
<div class="s" style="left:404.5px;top:461.9px;font-size:15.5px;transform:translate(-50%,-50%) scaleX(0.66);transform-origin:center">120E</div>
<div class="s" style="left:451.0px;top:448.2px;font-size:15.5px;transform:translate(-100%,-50%) scaleX(0.66);transform-origin:right center">0</div>
<div class="s" style="left:451.0px;top:366.3px;font-size:15.5px;transform:translate(-100%,-50%) scaleX(0.66);transform-origin:right center">10N</div>
<div class="s" style="left:451.0px;top:284.4px;font-size:15.5px;transform:translate(-100%,-50%) scaleX(0.66);transform-origin:right center">20N</div>
<div class="s" style="left:451.0px;top:202.4px;font-size:15.5px;transform:translate(-100%,-50%) scaleX(0.66);transform-origin:right center">30N</div>
<div class="s" style="left:451.0px;top:120.5px;font-size:15.5px;transform:translate(-100%,-50%) scaleX(0.66);transform-origin:right center">40N</div>
<div class="s" style="left:451.0px;top:38.6px;font-size:15.5px;transform:translate(-100%,-50%) scaleX(0.66);transform-origin:right center">50N</div>
<div class="s" style="left:510.0px;top:462.9px;font-size:15.5px;transform:translate(-50%,-50%) scaleX(0.66);transform-origin:center">60E</div>
<div class="s" style="left:616.0px;top:462.9px;font-size:15.5px;transform:translate(-50%,-50%) scaleX(0.66);transform-origin:center">80E</div>
<div class="s" style="left:722.0px;top:462.9px;font-size:15.5px;transform:translate(-50%,-50%) scaleX(0.66);transform-origin:center">100E</div>
<div class="s" style="left:828.0px;top:462.9px;font-size:15.5px;transform:translate(-50%,-50%) scaleX(0.66);transform-origin:center">120E</div>
<div class="s" style="left:36.7px;top:522.5px;font-size:15.5px;transform:translate(-50%,-50%) scaleX(0.71);transform-origin:center">0.01</div>
<div class="s" style="left:93.0px;top:522.5px;font-size:15.5px;transform:translate(-50%,-50%) scaleX(0.71);transform-origin:center">500</div>
<div class="s" style="left:149.2px;top:522.5px;font-size:15.5px;transform:translate(-50%,-50%) scaleX(0.71);transform-origin:center">1000</div>
<div class="s" style="left:205.4px;top:522.5px;font-size:15.5px;transform:translate(-50%,-50%) scaleX(0.71);transform-origin:center">1500</div>
<div class="s" style="left:261.7px;top:522.5px;font-size:15.5px;transform:translate(-50%,-50%) scaleX(0.71);transform-origin:center">2000</div>
<div class="s" style="left:317.9px;top:522.5px;font-size:15.5px;transform:translate(-50%,-50%) scaleX(0.71);transform-origin:center">3000</div>
<div class="s" style="left:374.2px;top:522.5px;font-size:15.5px;transform:translate(-50%,-50%) scaleX(0.71);transform-origin:center">4000</div>
<div class="L" style="left:42.5px;top:6.8px">A</div>
<div class="L" style="left:464.8px;top:3.9px">B</div>
<div class="L" style="left:901.6px;top:124.9px">C</div>
<div class="c" style="left:895.1px;top:454.2px;transform:translateX(-50%) scaleX(0.92)">50&deg;E</div>
<div class="c" style="left:949.4px;top:454.2px;transform:translateX(-50%) scaleX(0.92)">60&deg;E</div>
<div class="c" style="left:1003.6px;top:454.2px;transform:translateX(-50%) scaleX(0.92)">70&deg;E</div>
<div class="c" style="left:1057.9px;top:454.2px;transform:translateX(-50%) scaleX(0.92)">80&deg;E</div>
<div class="c" style="left:1112.1px;top:454.2px;transform:translateX(-50%) scaleX(0.92)">90&deg;E</div>
<div class="c" style="left:1166.4px;top:454.2px;transform:translateX(-50%) scaleX(0.92)">100&deg;E</div>
<div class="c" style="left:1220.7px;top:454.2px;transform:translateX(-50%) scaleX(0.92)">110&deg;E</div>
<div class="c" style="left:887.0px;top:434.6px;transform:translateX(-100%) scaleX(0.92);transform-origin:right center">0&deg;</div>
<div class="c" style="left:887.0px;top:355.1px;transform:translateX(-100%) scaleX(0.92);transform-origin:right center">10&deg;N</div>
<div class="c" style="left:887.0px;top:275.7px;transform:translateX(-100%) scaleX(0.92);transform-origin:right center">20&deg;N</div>
<div class="c" style="left:887.0px;top:196.2px;transform:translateX(-100%) scaleX(0.92);transform-origin:right center">30&deg;N</div>
<div class="b" style="left:509.5px;top:519.3px"><span class="hy">-</span>19</div>
<div class="b" style="left:579.5px;top:519.3px"><span class="hy">-</span>17</div>
<div class="b" style="left:640.5px;top:519.3px"><span class="hy">-</span>15</div>
<div class="b" style="left:701.4px;top:519.3px"><span class="hy">-</span>13</div>
<div class="b" style="left:762.4px;top:519.3px"><span class="hy">-</span>11</div>
<div class="b" style="left:830.9px;top:519.3px"><span class="hy">-</span>9</div>
<div class="b" style="left:896.9px;top:519.3px"><span class="hy">-</span>7</div>
<div class="b" style="left:962.6px;top:519.3px"><span class="hy">-</span>5</div>
<div class="b" style="left:1028.8px;top:519.3px"><span class="hy">-</span>3</div>
<div class="b" style="left:1094.4px;top:519.3px"><span class="hy">-</span>1</div>
<div class="b" style="left:1162.7px;top:519.3px">1</div>
<div class="b" style="left:1210.6px;top:519.3px;transform:scaleX(1.12);transform-origin:left center">%<span style="font-size:23px;margin-left:-0.5px">o</span></div>
</body></html>
